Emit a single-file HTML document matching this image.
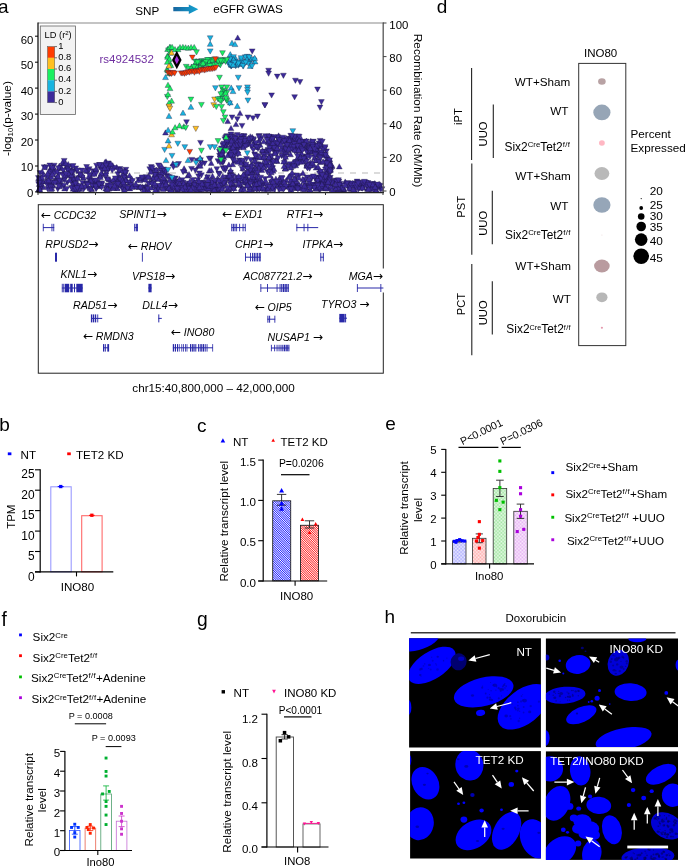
<!DOCTYPE html>
<html lang="en"><head><meta charset="utf-8"><title>Figure</title>
<style>
html,body{margin:0;padding:0;background:#fff;}
body{width:685px;height:866px;overflow:hidden;}
svg{display:block;will-change:transform;font-family:"Liberation Sans",sans-serif;fill:#000;}

</style></head><body>
<svg width="685" height="866" viewBox="0 0 685 866">
<rect x="0" y="0" width="685" height="866" fill="#fff"/>
<line x1="38" y1="173" x2="383" y2="173" stroke="#d0d0d0" stroke-width="1.6" stroke-dasharray="6,6"/>
<g stroke="#1a1440" stroke-width="0.35" stroke-linejoin="round">
<polygon points="287.9,147.7 293.7,147.7 290.8,142.5" fill="#3c2a9a"/>
<polygon points="86.6,178.0 92.4,178.0 89.5,183.2" fill="#3c2a9a"/>
<polygon points="311.5,160.3 317.3,160.3 314.4,155.1" fill="#3c2a9a"/>
<polygon points="315.4,185.4 321.2,185.4 318.3,180.2" fill="#3c2a9a"/>
<polygon points="69.2,179.9 75.0,179.9 72.1,185.1" fill="#3c2a9a"/>
<polygon points="293.2,185.3 299.0,185.3 296.1,180.1" fill="#3c2a9a"/>
<polygon points="284.3,144.0 290.1,144.0 287.2,138.8" fill="#3c2a9a"/>
<polygon points="132.1,189.0 137.9,189.0 135.0,183.8" fill="#3c2a9a"/>
<polygon points="314.0,180.2 319.8,180.2 316.9,175.0" fill="#3c2a9a"/>
<polygon points="176.5,179.1 182.3,179.1 179.4,184.3" fill="#3c2a9a"/>
<polygon points="186.7,183.4 192.5,183.4 189.6,188.6" fill="#3c2a9a"/>
<polygon points="276.4,186.4 282.2,186.4 279.3,191.6" fill="#3c2a9a"/>
<polygon points="234.0,183.2 239.8,183.2 236.9,178.0" fill="#3c2a9a"/>
<polygon points="222.7,135.2 228.5,135.2 225.6,140.4" fill="#3c2a9a"/>
<polygon points="307.7,148.4 313.5,148.4 310.6,143.2" fill="#3c2a9a"/>
<polygon points="88.4,180.8 94.2,180.8 91.3,175.6" fill="#3c2a9a"/>
<polygon points="234.8,152.3 240.6,152.3 237.7,157.5" fill="#3c2a9a"/>
<polygon points="270.9,143.3 276.7,143.3 273.8,148.5" fill="#3c2a9a"/>
<polygon points="283.4,182.8 289.2,182.8 286.3,177.6" fill="#3c2a9a"/>
<polygon points="261.4,185.9 267.2,185.9 264.3,180.7" fill="#3c2a9a"/>
<polygon points="364.9,191.1 370.7,191.1 367.8,185.9" fill="#3c2a9a"/>
<polygon points="102.6,175.7 108.4,175.7 105.5,170.5" fill="#3c2a9a"/>
<polygon points="252.8,176.2 258.6,176.2 255.7,181.4" fill="#3c2a9a"/>
<polygon points="135.7,177.3 141.5,177.3 138.6,182.5" fill="#3c2a9a"/>
<polygon points="266.3,138.3 272.1,138.3 269.2,133.1" fill="#3c2a9a"/>
<polygon points="347.6,186.6 353.4,186.6 350.5,191.8" fill="#3c2a9a"/>
<polygon points="254.7,177.6 260.5,177.6 257.6,182.8" fill="#3c2a9a"/>
<polygon points="251.4,141.7 257.2,141.7 254.3,146.9" fill="#3c2a9a"/>
<polygon points="229.1,141.9 234.9,141.9 232.0,147.1" fill="#3c2a9a"/>
<polygon points="267.7,138.1 273.5,138.1 270.6,143.3" fill="#3c2a9a"/>
<polygon points="324.1,159.9 329.9,159.9 327.0,165.1" fill="#3c2a9a"/>
<polygon points="174.0,191.4 179.8,191.4 176.9,186.2" fill="#3c2a9a"/>
<polygon points="291.2,147.6 297.0,147.6 294.1,152.8" fill="#3c2a9a"/>
<polygon points="354.8,189.0 360.6,189.0 357.7,183.8" fill="#3c2a9a"/>
<polygon points="170.7,179.9 176.5,179.9 173.6,185.1" fill="#3c2a9a"/>
<polygon points="266.2,141.1 272.0,141.1 269.1,146.3" fill="#3c2a9a"/>
<polygon points="103.2,188.3 109.0,188.3 106.1,183.1" fill="#3c2a9a"/>
<polygon points="287.7,185.7 293.5,185.7 290.6,190.9" fill="#3c2a9a"/>
<polygon points="70.1,187.0 75.9,187.0 73.0,192.2" fill="#3c2a9a"/>
<polygon points="238.1,187.4 243.9,187.4 241.0,182.2" fill="#3c2a9a"/>
<polygon points="262.9,163.7 268.7,163.7 265.8,168.9" fill="#3c2a9a"/>
<polygon points="292.9,167.8 298.7,167.8 295.8,162.6" fill="#3c2a9a"/>
<polygon points="194.1,187.6 199.9,187.6 197.0,182.4" fill="#3c2a9a"/>
<polygon points="297.6,150.9 303.4,150.9 300.5,145.7" fill="#3c2a9a"/>
<polygon points="230.9,187.7 236.7,187.7 233.8,182.5" fill="#3c2a9a"/>
<polygon points="117.2,183.9 123.0,183.9 120.1,178.7" fill="#3c2a9a"/>
<polygon points="294.9,139.0 300.7,139.0 297.8,144.2" fill="#3c2a9a"/>
<polygon points="314.3,182.4 320.1,182.4 317.2,177.2" fill="#3c2a9a"/>
<polygon points="117.1,166.6 122.9,166.6 120.0,171.8" fill="#3c2a9a"/>
<polygon points="326.0,182.7 331.8,182.7 328.9,177.5" fill="#3c2a9a"/>
<polygon points="303.5,146.6 309.3,146.6 306.4,151.8" fill="#3c2a9a"/>
<polygon points="135.4,182.5 141.2,182.5 138.3,177.3" fill="#3c2a9a"/>
<polygon points="308.9,175.8 314.7,175.8 311.8,181.0" fill="#3c2a9a"/>
<polygon points="252.3,160.3 258.1,160.3 255.2,155.1" fill="#3c2a9a"/>
<polygon points="264.6,149.1 270.4,149.1 267.5,154.3" fill="#3c2a9a"/>
<polygon points="142.2,177.4 148.0,177.4 145.1,182.6" fill="#3c2a9a"/>
<polygon points="274.9,184.7 280.7,184.7 277.8,179.5" fill="#3c2a9a"/>
<polygon points="243.2,179.5 249.0,179.5 246.1,174.3" fill="#3c2a9a"/>
<polygon points="180.2,183.7 186.0,183.7 183.1,188.9" fill="#3c2a9a"/>
<polygon points="64.3,168.5 70.1,168.5 67.2,163.3" fill="#3c2a9a"/>
<polygon points="246.4,181.4 252.2,181.4 249.3,186.6" fill="#3c2a9a"/>
<polygon points="209.8,181.7 215.6,181.7 212.7,186.9" fill="#3c2a9a"/>
<polygon points="252.6,146.8 258.4,146.8 255.5,141.6" fill="#3c2a9a"/>
<polygon points="336.0,179.2 341.8,179.2 338.9,184.4" fill="#3c2a9a"/>
<polygon points="276.3,181.6 282.1,181.6 279.2,176.4" fill="#3c2a9a"/>
<polygon points="79.2,175.1 85.0,175.1 82.1,180.3" fill="#3c2a9a"/>
<polygon points="236.7,158.0 242.5,158.0 239.6,163.2" fill="#3c2a9a"/>
<polygon points="206.4,172.9 212.2,172.9 209.3,167.7" fill="#3c2a9a"/>
<polygon points="102.8,190.9 108.6,190.9 105.7,185.7" fill="#3c2a9a"/>
<polygon points="38.4,185.5 44.2,185.5 41.3,190.7" fill="#3c2a9a"/>
<polygon points="278.7,153.5 284.5,153.5 281.6,158.7" fill="#3c2a9a"/>
<polygon points="275.7,138.0 281.5,138.0 278.6,132.8" fill="#3c2a9a"/>
<polygon points="104.7,168.8 110.5,168.8 107.6,174.0" fill="#3c2a9a"/>
<polygon points="264.6,135.0 270.4,135.0 267.5,140.2" fill="#3c2a9a"/>
<polygon points="140.5,186.3 146.3,186.3 143.4,191.5" fill="#3c2a9a"/>
<polygon points="219.6,158.1 225.4,158.1 222.5,152.9" fill="#3c2a9a"/>
<polygon points="157.7,187.4 163.5,187.4 160.6,182.2" fill="#3c2a9a"/>
<polygon points="62.7,173.7 68.5,173.7 65.6,178.9" fill="#3c2a9a"/>
<polygon points="68.8,172.3 74.6,172.3 71.7,167.1" fill="#3c2a9a"/>
<polygon points="172.2,167.2 178.0,167.2 175.1,162.0" fill="#3c2a9a"/>
<polygon points="223.1,145.6 228.9,145.6 226.0,150.8" fill="#3c2a9a"/>
<polygon points="310.8,144.2 316.6,144.2 313.7,149.4" fill="#3c2a9a"/>
<polygon points="268.6,180.2 274.4,180.2 271.5,185.4" fill="#3c2a9a"/>
<polygon points="242.0,179.0 247.8,179.0 244.9,173.8" fill="#3c2a9a"/>
<polygon points="269.7,165.7 275.5,165.7 272.6,170.9" fill="#3c2a9a"/>
<polygon points="370.7,186.1 376.5,186.1 373.6,191.3" fill="#3c2a9a"/>
<polygon points="306.2,150.6 312.0,150.6 309.1,155.8" fill="#3c2a9a"/>
<polygon points="311.1,145.0 316.9,145.0 314.0,139.8" fill="#3c2a9a"/>
<polygon points="267.8,158.5 273.6,158.5 270.7,153.3" fill="#3c2a9a"/>
<polygon points="62.9,175.0 68.7,175.0 65.8,180.2" fill="#3c2a9a"/>
<polygon points="307.9,143.5 313.7,143.5 310.8,138.3" fill="#3c2a9a"/>
<polygon points="163.9,173.3 169.7,173.3 166.8,178.5" fill="#3c2a9a"/>
<polygon points="86.1,184.3 91.9,184.3 89.0,179.1" fill="#3c2a9a"/>
<polygon points="250.4,186.8 256.2,186.8 253.3,192.0" fill="#3c2a9a"/>
<polygon points="229.4,145.1 235.2,145.1 232.3,150.3" fill="#3c2a9a"/>
<polygon points="231.6,163.6 237.4,163.6 234.5,158.4" fill="#3c2a9a"/>
<polygon points="332.6,183.6 338.4,183.6 335.5,178.4" fill="#3c2a9a"/>
<polygon points="358.9,185.7 364.7,185.7 361.8,190.9" fill="#3c2a9a"/>
<polygon points="229.0,133.4 234.8,133.4 231.9,138.6" fill="#3c2a9a"/>
<polygon points="313.8,153.1 319.6,153.1 316.7,147.9" fill="#3c2a9a"/>
<polygon points="204.7,174.8 210.5,174.8 207.6,180.0" fill="#3c2a9a"/>
<polygon points="293.3,139.3 299.1,139.3 296.2,144.5" fill="#3c2a9a"/>
<polygon points="258.5,135.5 264.3,135.5 261.4,140.7" fill="#3c2a9a"/>
<polygon points="172.5,176.1 178.3,176.1 175.4,181.3" fill="#3c2a9a"/>
<polygon points="218.3,153.7 224.1,153.7 221.2,158.9" fill="#3c2a9a"/>
<polygon points="181.3,184.4 187.1,184.4 184.2,189.6" fill="#3c2a9a"/>
<polygon points="119.1,187.7 124.9,187.7 122.0,182.5" fill="#3c2a9a"/>
<polygon points="266.2,137.4 272.0,137.4 269.1,142.6" fill="#3c2a9a"/>
<polygon points="325.7,159.6 331.5,159.6 328.6,164.8" fill="#3c2a9a"/>
<polygon points="306.2,165.7 312.0,165.7 309.1,160.5" fill="#3c2a9a"/>
<polygon points="36.7,192.3 42.5,192.3 39.6,187.1" fill="#3c2a9a"/>
<polygon points="142.9,188.5 148.7,188.5 145.8,183.3" fill="#3c2a9a"/>
<polygon points="310.5,147.6 316.3,147.6 313.4,152.8" fill="#3c2a9a"/>
<polygon points="255.0,144.3 260.8,144.3 257.9,149.5" fill="#3c2a9a"/>
<polygon points="291.5,185.8 297.3,185.8 294.4,180.6" fill="#3c2a9a"/>
<polygon points="287.8,133.3 293.6,133.3 290.7,138.5" fill="#3c2a9a"/>
<polygon points="289.4,146.6 295.2,146.6 292.3,151.8" fill="#3c2a9a"/>
<polygon points="224.2,133.7 230.0,133.7 227.1,138.9" fill="#3c2a9a"/>
<polygon points="93.1,181.8 98.9,181.8 96.0,187.0" fill="#3c2a9a"/>
<polygon points="67.4,177.0 73.2,177.0 70.3,171.8" fill="#3c2a9a"/>
<polygon points="60.0,166.0 65.8,166.0 62.9,160.8" fill="#3c2a9a"/>
<polygon points="61.3,177.7 67.1,177.7 64.2,182.9" fill="#3c2a9a"/>
<polygon points="239.1,138.9 244.9,138.9 242.0,144.1" fill="#3c2a9a"/>
<polygon points="323.8,168.9 329.6,168.9 326.7,174.1" fill="#3c2a9a"/>
<polygon points="251.7,188.1 257.5,188.1 254.6,182.9" fill="#3c2a9a"/>
<polygon points="183.6,187.1 189.4,187.1 186.5,192.3" fill="#3c2a9a"/>
<polygon points="266.0,159.3 271.8,159.3 268.9,154.1" fill="#3c2a9a"/>
<polygon points="52.8,181.6 58.6,181.6 55.7,176.4" fill="#3c2a9a"/>
<polygon points="71.5,188.3 77.3,188.3 74.4,183.1" fill="#3c2a9a"/>
<polygon points="313.1,156.7 318.9,156.7 316.0,151.5" fill="#3c2a9a"/>
<polygon points="264.6,169.8 270.4,169.8 267.5,175.0" fill="#3c2a9a"/>
<polygon points="287.2,142.7 293.0,142.7 290.1,137.5" fill="#3c2a9a"/>
<polygon points="221.9,136.8 227.7,136.8 224.8,142.0" fill="#3c2a9a"/>
<polygon points="311.7,143.5 317.5,143.5 314.6,148.7" fill="#3c2a9a"/>
<polygon points="223.4,144.2 229.2,144.2 226.3,139.0" fill="#3c2a9a"/>
<polygon points="287.2,161.7 293.0,161.7 290.1,166.9" fill="#3c2a9a"/>
<polygon points="309.7,149.1 315.5,149.1 312.6,154.3" fill="#3c2a9a"/>
<polygon points="322.2,190.9 328.0,190.9 325.1,185.7" fill="#3c2a9a"/>
<polygon points="371.9,185.8 377.7,185.8 374.8,180.6" fill="#3c2a9a"/>
<polygon points="37.2,189.2 43.0,189.2 40.1,184.0" fill="#3c2a9a"/>
<polygon points="206.9,185.4 212.7,185.4 209.8,190.6" fill="#3c2a9a"/>
<polygon points="240.6,162.8 246.4,162.8 243.5,168.0" fill="#3c2a9a"/>
<polygon points="159.4,184.2 165.2,184.2 162.3,179.0" fill="#3c2a9a"/>
<polygon points="47.1,171.6 52.9,171.6 50.0,166.4" fill="#3c2a9a"/>
<polygon points="290.2,185.2 296.0,185.2 293.1,180.0" fill="#3c2a9a"/>
<polygon points="297.2,154.2 303.0,154.2 300.1,159.4" fill="#3c2a9a"/>
<polygon points="323.7,166.5 329.5,166.5 326.6,161.3" fill="#3c2a9a"/>
<polygon points="220.3,165.7 226.1,165.7 223.2,170.9" fill="#3c2a9a"/>
<polygon points="310.4,139.2 316.2,139.2 313.3,144.4" fill="#3c2a9a"/>
<polygon points="292.9,189.4 298.7,189.4 295.8,184.2" fill="#3c2a9a"/>
<polygon points="320.7,186.8 326.5,186.8 323.6,181.6" fill="#3c2a9a"/>
<polygon points="139.1,178.2 144.9,178.2 142.0,183.4" fill="#3c2a9a"/>
<polygon points="105.3,182.9 111.1,182.9 108.2,188.1" fill="#3c2a9a"/>
<polygon points="255.1,146.4 260.9,146.4 258.0,151.6" fill="#3c2a9a"/>
<polygon points="327.0,168.2 332.8,168.2 329.9,173.4" fill="#3c2a9a"/>
<polygon points="303.9,168.3 309.7,168.3 306.8,163.1" fill="#3c2a9a"/>
<polygon points="298.8,149.2 304.6,149.2 301.7,144.0" fill="#3c2a9a"/>
<polygon points="346.1,187.1 351.9,187.1 349.0,192.3" fill="#3c2a9a"/>
<polygon points="317.4,150.1 323.2,150.1 320.3,155.3" fill="#3c2a9a"/>
<polygon points="326.3,160.4 332.1,160.4 329.2,165.6" fill="#3c2a9a"/>
<polygon points="183.0,184.8 188.8,184.8 185.9,190.0" fill="#3c2a9a"/>
<polygon points="257.3,147.3 263.1,147.3 260.2,142.1" fill="#3c2a9a"/>
<polygon points="307.1,191.7 312.9,191.7 310.0,186.5" fill="#3c2a9a"/>
<polygon points="221.6,148.4 227.4,148.4 224.5,153.6" fill="#3c2a9a"/>
<polygon points="317.8,186.8 323.6,186.8 320.7,192.0" fill="#3c2a9a"/>
<polygon points="107.5,180.8 113.3,180.8 110.4,186.0" fill="#3c2a9a"/>
<polygon points="313.0,146.6 318.8,146.6 315.9,151.8" fill="#3c2a9a"/>
<polygon points="229.6,156.6 235.4,156.6 232.5,161.8" fill="#3c2a9a"/>
<polygon points="280.6,153.6 286.4,153.6 283.5,148.4" fill="#3c2a9a"/>
<polygon points="217.6,150.6 223.4,150.6 220.5,155.8" fill="#3c2a9a"/>
<polygon points="115.9,176.1 121.7,176.1 118.8,181.3" fill="#3c2a9a"/>
<polygon points="148.3,164.6 154.1,164.6 151.2,169.8" fill="#3c2a9a"/>
<polygon points="277.5,185.0 283.3,185.0 280.4,190.2" fill="#3c2a9a"/>
<polygon points="91.0,187.5 96.8,187.5 93.9,182.3" fill="#3c2a9a"/>
<polygon points="89.2,176.3 95.0,176.3 92.1,171.1" fill="#3c2a9a"/>
<polygon points="292.3,176.2 298.1,176.2 295.2,181.4" fill="#3c2a9a"/>
<polygon points="289.9,150.2 295.7,150.2 292.8,145.0" fill="#3c2a9a"/>
<polygon points="215.9,171.0 221.7,171.0 218.8,176.2" fill="#3c2a9a"/>
<polygon points="230.5,156.4 236.3,156.4 233.4,151.2" fill="#3c2a9a"/>
<polygon points="182.9,187.1 188.7,187.1 185.8,181.9" fill="#3c2a9a"/>
<polygon points="270.5,135.7 276.3,135.7 273.4,140.9" fill="#3c2a9a"/>
<polygon points="122.0,189.9 127.8,189.9 124.9,184.7" fill="#3c2a9a"/>
<polygon points="202.9,184.1 208.7,184.1 205.8,189.3" fill="#3c2a9a"/>
<polygon points="316.3,186.9 322.1,186.9 319.2,192.1" fill="#3c2a9a"/>
<polygon points="336.1,182.5 341.9,182.5 339.0,187.7" fill="#3c2a9a"/>
<polygon points="317.5,169.5 323.3,169.5 320.4,174.7" fill="#3c2a9a"/>
<polygon points="279.4,143.4 285.2,143.4 282.3,138.2" fill="#3c2a9a"/>
<polygon points="165.1,185.2 170.9,185.2 168.0,190.4" fill="#3c2a9a"/>
<polygon points="146.8,179.4 152.6,179.4 149.7,174.2" fill="#3c2a9a"/>
<polygon points="236.2,143.9 242.0,143.9 239.1,149.1" fill="#3c2a9a"/>
<polygon points="277.7,184.2 283.5,184.2 280.6,189.4" fill="#3c2a9a"/>
<polygon points="262.1,176.6 267.9,176.6 265.0,181.8" fill="#3c2a9a"/>
<polygon points="251.7,151.9 257.5,151.9 254.6,157.1" fill="#3c2a9a"/>
<polygon points="142.2,184.9 148.0,184.9 145.1,190.1" fill="#3c2a9a"/>
<polygon points="365.1,180.6 370.9,180.6 368.0,185.8" fill="#3c2a9a"/>
<polygon points="291.0,190.4 296.8,190.4 293.9,185.2" fill="#3c2a9a"/>
<polygon points="106.2,165.4 112.0,165.4 109.1,170.6" fill="#3c2a9a"/>
<polygon points="90.8,183.3 96.6,183.3 93.7,178.1" fill="#3c2a9a"/>
<polygon points="270.4,141.9 276.2,141.9 273.3,136.7" fill="#3c2a9a"/>
<polygon points="235.5,145.2 241.3,145.2 238.4,150.4" fill="#3c2a9a"/>
<polygon points="255.6,185.7 261.4,185.7 258.5,190.9" fill="#3c2a9a"/>
<polygon points="322.5,167.1 328.3,167.1 325.4,172.3" fill="#3c2a9a"/>
<polygon points="184.8,186.0 190.6,186.0 187.7,180.8" fill="#3c2a9a"/>
<polygon points="238.5,144.8 244.3,144.8 241.4,150.0" fill="#3c2a9a"/>
<polygon points="313.2,170.1 319.0,170.1 316.1,164.9" fill="#3c2a9a"/>
<polygon points="292.3,163.3 298.1,163.3 295.2,168.5" fill="#3c2a9a"/>
<polygon points="90.6,168.8 96.4,168.8 93.5,174.0" fill="#3c2a9a"/>
<polygon points="205.7,191.4 211.5,191.4 208.6,186.2" fill="#3c2a9a"/>
<polygon points="227.5,149.5 233.3,149.5 230.4,144.3" fill="#3c2a9a"/>
<polygon points="250.7,137.7 256.5,137.7 253.6,142.9" fill="#3c2a9a"/>
<polygon points="155.3,184.8 161.1,184.8 158.2,190.0" fill="#3c2a9a"/>
<polygon points="313.4,162.9 319.2,162.9 316.3,157.7" fill="#3c2a9a"/>
<polygon points="349.0,187.6 354.8,187.6 351.9,182.4" fill="#3c2a9a"/>
<polygon points="175.0,181.2 180.8,181.2 177.9,186.4" fill="#3c2a9a"/>
<polygon points="142.4,185.8 148.2,185.8 145.3,191.0" fill="#3c2a9a"/>
<polygon points="289.0,137.9 294.8,137.9 291.9,143.1" fill="#3c2a9a"/>
<polygon points="240.7,163.2 246.5,163.2 243.6,158.0" fill="#3c2a9a"/>
<polygon points="275.5,137.1 281.3,137.1 278.4,142.3" fill="#3c2a9a"/>
<polygon points="325.2,186.2 331.0,186.2 328.1,181.0" fill="#3c2a9a"/>
<polygon points="257.7,166.9 263.5,166.9 260.6,161.7" fill="#3c2a9a"/>
<polygon points="247.5,175.2 253.3,175.2 250.4,170.0" fill="#3c2a9a"/>
<polygon points="70.3,185.8 76.1,185.8 73.2,180.6" fill="#3c2a9a"/>
<polygon points="316.6,187.0 322.4,187.0 319.5,192.2" fill="#3c2a9a"/>
<polygon points="315.3,145.1 321.1,145.1 318.2,150.3" fill="#3c2a9a"/>
<polygon points="306.6,144.6 312.4,144.6 309.5,149.8" fill="#3c2a9a"/>
<polygon points="254.7,182.5 260.5,182.5 257.6,187.7" fill="#3c2a9a"/>
<polygon points="311.7,152.3 317.5,152.3 314.6,147.1" fill="#3c2a9a"/>
<polygon points="158.9,170.9 164.7,170.9 161.8,165.7" fill="#3c2a9a"/>
<polygon points="301.5,140.5 307.3,140.5 304.4,145.7" fill="#3c2a9a"/>
<polygon points="136.4,189.5 142.2,189.5 139.3,184.3" fill="#3c2a9a"/>
<polygon points="303.3,145.6 309.1,145.6 306.2,140.4" fill="#3c2a9a"/>
<polygon points="137.8,186.3 143.6,186.3 140.7,191.5" fill="#3c2a9a"/>
<polygon points="80.7,186.9 86.5,186.9 83.6,192.1" fill="#3c2a9a"/>
<polygon points="49.5,187.0 55.3,187.0 52.4,181.8" fill="#3c2a9a"/>
<polygon points="142.8,175.8 148.6,175.8 145.7,181.0" fill="#3c2a9a"/>
<polygon points="241.0,133.6 246.8,133.6 243.9,138.8" fill="#3c2a9a"/>
<polygon points="191.1,186.4 196.9,186.4 194.0,181.2" fill="#3c2a9a"/>
<polygon points="45.8,179.5 51.6,179.5 48.7,184.7" fill="#3c2a9a"/>
<polygon points="358.0,185.5 363.8,185.5 360.9,190.7" fill="#3c2a9a"/>
<polygon points="72.8,165.9 78.6,165.9 75.7,171.1" fill="#3c2a9a"/>
<polygon points="285.7,179.3 291.5,179.3 288.6,174.1" fill="#3c2a9a"/>
<polygon points="226.8,140.5 232.6,140.5 229.7,135.3" fill="#3c2a9a"/>
<polygon points="240.5,175.3 246.3,175.3 243.4,180.5" fill="#3c2a9a"/>
<polygon points="156.8,177.7 162.6,177.7 159.7,172.5" fill="#3c2a9a"/>
<polygon points="302.3,185.6 308.1,185.6 305.2,180.4" fill="#3c2a9a"/>
<polygon points="79.7,180.6 85.5,180.6 82.6,185.8" fill="#3c2a9a"/>
<polygon points="37.2,170.6 43.0,170.6 40.1,175.8" fill="#3c2a9a"/>
<polygon points="173.7,179.7 179.5,179.7 176.6,184.9" fill="#3c2a9a"/>
<polygon points="280.5,141.3 286.3,141.3 283.4,136.1" fill="#3c2a9a"/>
<polygon points="319.8,154.4 325.6,154.4 322.7,149.2" fill="#3c2a9a"/>
<polygon points="256.3,133.5 262.1,133.5 259.2,138.7" fill="#3c2a9a"/>
<polygon points="44.7,178.8 50.5,178.8 47.6,173.6" fill="#3c2a9a"/>
<polygon points="259.0,172.4 264.8,172.4 261.9,167.2" fill="#3c2a9a"/>
<polygon points="277.0,179.5 282.8,179.5 279.9,184.7" fill="#3c2a9a"/>
<polygon points="178.8,187.7 184.6,187.7 181.7,182.5" fill="#3c2a9a"/>
<polygon points="329.1,168.8 334.9,168.8 332.0,163.6" fill="#3c2a9a"/>
<polygon points="163.0,190.7 168.8,190.7 165.9,185.5" fill="#3c2a9a"/>
<polygon points="281.3,157.4 287.1,157.4 284.2,152.2" fill="#3c2a9a"/>
<polygon points="217.8,152.1 223.6,152.1 220.7,146.9" fill="#3c2a9a"/>
<polygon points="177.4,186.1 183.2,186.1 180.3,180.9" fill="#3c2a9a"/>
<polygon points="303.1,190.2 308.9,190.2 306.0,185.0" fill="#3c2a9a"/>
<polygon points="365.5,186.0 371.3,186.0 368.4,191.2" fill="#3c2a9a"/>
<polygon points="77.0,176.9 82.8,176.9 79.9,171.7" fill="#3c2a9a"/>
<polygon points="347.3,181.4 353.1,181.4 350.2,186.6" fill="#3c2a9a"/>
<polygon points="295.9,186.5 301.7,186.5 298.8,181.3" fill="#3c2a9a"/>
<polygon points="123.0,180.9 128.8,180.9 125.9,175.7" fill="#3c2a9a"/>
<polygon points="48.8,188.2 54.6,188.2 51.7,183.0" fill="#3c2a9a"/>
<polygon points="234.6,149.3 240.4,149.3 237.5,144.1" fill="#3c2a9a"/>
<polygon points="305.7,144.0 311.5,144.0 308.6,149.2" fill="#3c2a9a"/>
<polygon points="249.0,172.8 254.8,172.8 251.9,178.0" fill="#3c2a9a"/>
<polygon points="115.3,181.2 121.1,181.2 118.2,176.0" fill="#3c2a9a"/>
<polygon points="352.0,192.4 357.8,192.4 354.9,187.2" fill="#3c2a9a"/>
<polygon points="373.1,185.9 378.9,185.9 376.0,191.1" fill="#3c2a9a"/>
<polygon points="84.0,180.8 89.8,180.8 86.9,186.0" fill="#3c2a9a"/>
<polygon points="209.1,180.0 214.9,180.0 212.0,185.2" fill="#3c2a9a"/>
<polygon points="249.7,173.3 255.5,173.3 252.6,168.1" fill="#3c2a9a"/>
<polygon points="294.4,190.0 300.2,190.0 297.3,184.8" fill="#3c2a9a"/>
<polygon points="68.9,164.1 74.7,164.1 71.8,169.3" fill="#3c2a9a"/>
<polygon points="309.2,166.5 315.0,166.5 312.1,161.3" fill="#3c2a9a"/>
<polygon points="321.3,171.3 327.1,171.3 324.2,176.5" fill="#3c2a9a"/>
<polygon points="293.0,190.0 298.8,190.0 295.9,184.8" fill="#3c2a9a"/>
<polygon points="316.6,171.1 322.4,171.1 319.5,176.3" fill="#3c2a9a"/>
<polygon points="152.3,167.9 158.1,167.9 155.2,173.1" fill="#3c2a9a"/>
<polygon points="133.4,184.4 139.2,184.4 136.3,189.6" fill="#3c2a9a"/>
<polygon points="227.1,156.6 232.9,156.6 230.0,151.4" fill="#3c2a9a"/>
<polygon points="171.2,176.3 177.0,176.3 174.1,181.5" fill="#3c2a9a"/>
<polygon points="176.7,186.0 182.5,186.0 179.6,191.2" fill="#3c2a9a"/>
<polygon points="347.0,186.4 352.8,186.4 349.9,191.6" fill="#3c2a9a"/>
<polygon points="72.7,177.1 78.5,177.1 75.6,182.3" fill="#3c2a9a"/>
<polygon points="75.7,185.0 81.5,185.0 78.6,190.2" fill="#3c2a9a"/>
<polygon points="253.8,149.2 259.6,149.2 256.7,144.0" fill="#3c2a9a"/>
<polygon points="315.1,169.1 320.9,169.1 318.0,163.9" fill="#3c2a9a"/>
<polygon points="377.4,186.9 383.2,186.9 380.3,192.1" fill="#3c2a9a"/>
<polygon points="333.3,190.0 339.1,190.0 336.2,184.8" fill="#3c2a9a"/>
<polygon points="185.4,181.3 191.2,181.3 188.3,186.5" fill="#3c2a9a"/>
<polygon points="285.3,184.1 291.1,184.1 288.2,189.3" fill="#3c2a9a"/>
<polygon points="120.8,174.8 126.6,174.8 123.7,180.0" fill="#3c2a9a"/>
<polygon points="222.2,143.9 228.0,143.9 225.1,149.1" fill="#3c2a9a"/>
<polygon points="297.5,149.0 303.3,149.0 300.4,154.2" fill="#3c2a9a"/>
<polygon points="184.8,178.1 190.6,178.1 187.7,172.9" fill="#3c2a9a"/>
<polygon points="153.3,171.8 159.1,171.8 156.2,177.0" fill="#3c2a9a"/>
<polygon points="123.0,183.1 128.8,183.1 125.9,177.9" fill="#3c2a9a"/>
<polygon points="214.3,187.0 220.1,187.0 217.2,192.2" fill="#3c2a9a"/>
<polygon points="186.7,185.7 192.5,185.7 189.6,180.5" fill="#3c2a9a"/>
<polygon points="49.5,187.8 55.3,187.8 52.4,182.6" fill="#3c2a9a"/>
<polygon points="311.0,146.5 316.8,146.5 313.9,151.7" fill="#3c2a9a"/>
<polygon points="245.7,141.5 251.5,141.5 248.6,146.7" fill="#3c2a9a"/>
<polygon points="271.7,186.8 277.5,186.8 274.6,192.0" fill="#3c2a9a"/>
<polygon points="176.5,184.8 182.3,184.8 179.4,190.0" fill="#3c2a9a"/>
<polygon points="293.3,160.2 299.1,160.2 296.2,165.4" fill="#3c2a9a"/>
<polygon points="345.4,181.0 351.2,181.0 348.3,186.2" fill="#3c2a9a"/>
<polygon points="160.3,170.0 166.1,170.0 163.2,175.2" fill="#3c2a9a"/>
<polygon points="239.7,136.0 245.5,136.0 242.6,141.2" fill="#3c2a9a"/>
<polygon points="220.2,142.4 226.0,142.4 223.1,147.6" fill="#3c2a9a"/>
<polygon points="324.4,176.8 330.2,176.8 327.3,171.6" fill="#3c2a9a"/>
<polygon points="261.3,156.9 267.1,156.9 264.2,151.7" fill="#3c2a9a"/>
<polygon points="64.2,167.3 70.0,167.3 67.1,172.5" fill="#3c2a9a"/>
<polygon points="327.7,166.7 333.5,166.7 330.6,161.5" fill="#3c2a9a"/>
<polygon points="236.1,137.5 241.9,137.5 239.0,142.7" fill="#3c2a9a"/>
<polygon points="342.3,184.1 348.1,184.1 345.2,178.9" fill="#3c2a9a"/>
<polygon points="282.9,189.1 288.7,189.1 285.8,183.9" fill="#3c2a9a"/>
<polygon points="307.2,167.6 313.0,167.6 310.1,162.4" fill="#3c2a9a"/>
<polygon points="318.1,169.3 323.9,169.3 321.0,174.5" fill="#3c2a9a"/>
<polygon points="213.9,166.7 219.7,166.7 216.8,171.9" fill="#3c2a9a"/>
<polygon points="255.6,181.3 261.4,181.3 258.5,186.5" fill="#3c2a9a"/>
<polygon points="69.9,168.9 75.7,168.9 72.8,174.1" fill="#3c2a9a"/>
<polygon points="361.6,180.5 367.4,180.5 364.5,185.7" fill="#3c2a9a"/>
<polygon points="72.9,191.9 78.7,191.9 75.8,186.7" fill="#3c2a9a"/>
<polygon points="326.7,167.8 332.5,167.8 329.6,162.6" fill="#3c2a9a"/>
<polygon points="280.8,181.3 286.6,181.3 283.7,186.5" fill="#3c2a9a"/>
<polygon points="314.5,162.0 320.3,162.0 317.4,156.8" fill="#3c2a9a"/>
<polygon points="242.6,182.6 248.4,182.6 245.5,177.4" fill="#3c2a9a"/>
<polygon points="77.1,191.6 82.9,191.6 80.0,186.4" fill="#3c2a9a"/>
<polygon points="64.3,165.7 70.1,165.7 67.2,170.9" fill="#3c2a9a"/>
<polygon points="77.1,186.3 82.9,186.3 80.0,191.5" fill="#3c2a9a"/>
<polygon points="198.4,188.6 204.2,188.6 201.3,183.4" fill="#3c2a9a"/>
<polygon points="119.1,186.2 124.9,186.2 122.0,191.4" fill="#3c2a9a"/>
<polygon points="195.9,192.0 201.7,192.0 198.8,186.8" fill="#3c2a9a"/>
<polygon points="41.2,164.8 47.0,164.8 44.1,170.0" fill="#3c2a9a"/>
<polygon points="288.3,186.4 294.1,186.4 291.2,181.2" fill="#3c2a9a"/>
<polygon points="319.8,156.2 325.6,156.2 322.7,151.0" fill="#3c2a9a"/>
<polygon points="283.9,137.9 289.7,137.9 286.8,143.1" fill="#3c2a9a"/>
<polygon points="152.2,172.0 158.0,172.0 155.1,177.2" fill="#3c2a9a"/>
<polygon points="228.1,146.5 233.9,146.5 231.0,151.7" fill="#3c2a9a"/>
<polygon points="230.0,184.2 235.8,184.2 232.9,189.4" fill="#3c2a9a"/>
<polygon points="218.2,153.8 224.0,153.8 221.1,148.6" fill="#3c2a9a"/>
<polygon points="170.5,186.5 176.3,186.5 173.4,191.7" fill="#3c2a9a"/>
<polygon points="282.8,137.8 288.6,137.8 285.7,143.0" fill="#3c2a9a"/>
<polygon points="95.9,188.7 101.7,188.7 98.8,183.5" fill="#3c2a9a"/>
<polygon points="242.7,175.2 248.5,175.2 245.6,170.0" fill="#3c2a9a"/>
<polygon points="155.6,162.9 161.4,162.9 158.5,168.1" fill="#3c2a9a"/>
<polygon points="224.0,136.7 229.8,136.7 226.9,141.9" fill="#3c2a9a"/>
<polygon points="323.9,179.0 329.7,179.0 326.8,173.8" fill="#3c2a9a"/>
<polygon points="266.6,156.0 272.4,156.0 269.5,161.2" fill="#3c2a9a"/>
<polygon points="309.7,139.6 315.5,139.6 312.6,144.8" fill="#3c2a9a"/>
<polygon points="249.0,172.7 254.8,172.7 251.9,177.9" fill="#3c2a9a"/>
<polygon points="89.8,174.1 95.6,174.1 92.7,168.9" fill="#3c2a9a"/>
<polygon points="137.6,180.2 143.4,180.2 140.5,175.0" fill="#3c2a9a"/>
<polygon points="108.2,186.2 114.0,186.2 111.1,191.4" fill="#3c2a9a"/>
<polygon points="144.3,187.2 150.1,187.2 147.2,192.4" fill="#3c2a9a"/>
<polygon points="93.6,182.1 99.4,182.1 96.5,187.3" fill="#3c2a9a"/>
<polygon points="85.0,185.9 90.8,185.9 87.9,191.1" fill="#3c2a9a"/>
<polygon points="43.2,165.1 49.0,165.1 46.1,170.3" fill="#3c2a9a"/>
<polygon points="69.6,176.9 75.4,176.9 72.5,182.1" fill="#3c2a9a"/>
<polygon points="278.8,175.4 284.6,175.4 281.7,180.6" fill="#3c2a9a"/>
<polygon points="283.6,155.1 289.4,155.1 286.5,149.9" fill="#3c2a9a"/>
<polygon points="224.3,180.1 230.1,180.1 227.2,174.9" fill="#3c2a9a"/>
<polygon points="255.2,144.5 261.0,144.5 258.1,149.7" fill="#3c2a9a"/>
<polygon points="153.9,189.0 159.7,189.0 156.8,183.8" fill="#3c2a9a"/>
<polygon points="285.9,147.9 291.7,147.9 288.8,153.1" fill="#3c2a9a"/>
<polygon points="312.9,162.5 318.7,162.5 315.8,157.3" fill="#3c2a9a"/>
<polygon points="239.3,180.0 245.1,180.0 242.2,174.8" fill="#3c2a9a"/>
<polygon points="335.5,179.5 341.3,179.5 338.4,184.7" fill="#3c2a9a"/>
<polygon points="227.2,172.9 233.0,172.9 230.1,178.1" fill="#3c2a9a"/>
<polygon points="290.0,183.8 295.8,183.8 292.9,178.6" fill="#3c2a9a"/>
<polygon points="271.9,150.5 277.7,150.5 274.8,155.7" fill="#3c2a9a"/>
<polygon points="264.4,134.6 270.2,134.6 267.3,139.8" fill="#3c2a9a"/>
<polygon points="282.1,188.8 287.9,188.8 285.0,183.6" fill="#3c2a9a"/>
<polygon points="222.3,149.3 228.1,149.3 225.2,144.1" fill="#3c2a9a"/>
<polygon points="211.6,191.0 217.4,191.0 214.5,185.8" fill="#3c2a9a"/>
<polygon points="173.6,186.0 179.4,186.0 176.5,180.8" fill="#3c2a9a"/>
<polygon points="300.5,146.4 306.3,146.4 303.4,151.6" fill="#3c2a9a"/>
<polygon points="50.2,168.5 56.0,168.5 53.1,173.7" fill="#3c2a9a"/>
<polygon points="271.5,183.6 277.3,183.6 274.4,188.8" fill="#3c2a9a"/>
<polygon points="262.7,149.0 268.5,149.0 265.6,154.2" fill="#3c2a9a"/>
<polygon points="237.0,163.2 242.8,163.2 239.9,158.0" fill="#3c2a9a"/>
<polygon points="181.9,173.0 187.7,173.0 184.8,167.8" fill="#3c2a9a"/>
<polygon points="270.3,146.2 276.1,146.2 273.2,151.4" fill="#3c2a9a"/>
<polygon points="293.8,159.5 299.6,159.5 296.7,164.7" fill="#3c2a9a"/>
<polygon points="40.3,189.5 46.1,189.5 43.2,184.3" fill="#3c2a9a"/>
<polygon points="127.5,185.0 133.3,185.0 130.4,179.8" fill="#3c2a9a"/>
<polygon points="206.1,191.0 211.9,191.0 209.0,185.8" fill="#3c2a9a"/>
<polygon points="243.1,141.7 248.9,141.7 246.0,146.9" fill="#3c2a9a"/>
<polygon points="300.9,158.5 306.7,158.5 303.8,163.7" fill="#3c2a9a"/>
<polygon points="245.0,179.5 250.8,179.5 247.9,184.7" fill="#3c2a9a"/>
<polygon points="323.6,148.9 329.4,148.9 326.5,154.1" fill="#3c2a9a"/>
<polygon points="207.0,189.3 212.8,189.3 209.9,184.1" fill="#3c2a9a"/>
<polygon points="267.9,134.6 273.7,134.6 270.8,139.8" fill="#3c2a9a"/>
<polygon points="315.9,154.0 321.7,154.0 318.8,148.8" fill="#3c2a9a"/>
<polygon points="241.3,134.2 247.1,134.2 244.2,139.4" fill="#3c2a9a"/>
<polygon points="168.4,187.8 174.2,187.8 171.3,182.6" fill="#3c2a9a"/>
<polygon points="104.4,191.7 110.2,191.7 107.3,186.5" fill="#3c2a9a"/>
<polygon points="269.8,186.6 275.6,186.6 272.7,181.4" fill="#3c2a9a"/>
<polygon points="241.5,145.4 247.3,145.4 244.4,140.2" fill="#3c2a9a"/>
<polygon points="181.6,191.8 187.4,191.8 184.5,186.6" fill="#3c2a9a"/>
<polygon points="221.0,159.6 226.8,159.6 223.9,154.4" fill="#3c2a9a"/>
<polygon points="249.3,139.5 255.1,139.5 252.2,134.3" fill="#3c2a9a"/>
<polygon points="76.8,171.5 82.6,171.5 79.7,176.7" fill="#3c2a9a"/>
<polygon points="316.6,180.1 322.4,180.1 319.5,185.3" fill="#3c2a9a"/>
<polygon points="149.1,183.2 154.9,183.2 152.0,178.0" fill="#3c2a9a"/>
<polygon points="224.8,157.8 230.6,157.8 227.7,152.6" fill="#3c2a9a"/>
<polygon points="238.4,190.7 244.2,190.7 241.3,185.5" fill="#3c2a9a"/>
<polygon points="238.7,143.4 244.5,143.4 241.6,148.6" fill="#3c2a9a"/>
<polygon points="295.0,135.2 300.8,135.2 297.9,140.4" fill="#3c2a9a"/>
<polygon points="363.1,180.5 368.9,180.5 366.0,185.7" fill="#3c2a9a"/>
<polygon points="218.2,182.8 224.0,182.8 221.1,188.0" fill="#3c2a9a"/>
<polygon points="301.2,159.0 307.0,159.0 304.1,153.8" fill="#3c2a9a"/>
<polygon points="326.9,162.1 332.7,162.1 329.8,156.9" fill="#3c2a9a"/>
<polygon points="308.7,150.4 314.5,150.4 311.6,145.2" fill="#3c2a9a"/>
<polygon points="100.5,169.8 106.3,169.8 103.4,164.6" fill="#3c2a9a"/>
<polygon points="192.9,187.0 198.7,187.0 195.8,192.2" fill="#3c2a9a"/>
<polygon points="175.7,161.5 181.5,161.5 178.6,166.7" fill="#3c2a9a"/>
<polygon points="279.3,139.5 285.1,139.5 282.2,144.7" fill="#3c2a9a"/>
<polygon points="322.9,179.3 328.7,179.3 325.8,184.5" fill="#3c2a9a"/>
<polygon points="218.3,152.4 224.1,152.4 221.2,157.6" fill="#3c2a9a"/>
<polygon points="247.5,171.2 253.3,171.2 250.4,176.4" fill="#3c2a9a"/>
<polygon points="143.1,174.7 148.9,174.7 146.0,179.9" fill="#3c2a9a"/>
<polygon points="269.5,187.2 275.3,187.2 272.4,182.0" fill="#3c2a9a"/>
<polygon points="214.9,191.7 220.7,191.7 217.8,186.5" fill="#3c2a9a"/>
<polygon points="246.4,137.6 252.2,137.6 249.3,142.8" fill="#3c2a9a"/>
<polygon points="257.6,166.9 263.4,166.9 260.5,172.1" fill="#3c2a9a"/>
<polygon points="115.7,187.3 121.5,187.3 118.6,182.1" fill="#3c2a9a"/>
<polygon points="353.3,186.8 359.1,186.8 356.2,181.6" fill="#3c2a9a"/>
<polygon points="282.6,170.7 288.4,170.7 285.5,165.5" fill="#3c2a9a"/>
<polygon points="185.9,188.2 191.7,188.2 188.8,183.0" fill="#3c2a9a"/>
<polygon points="228.0,172.7 233.8,172.7 230.9,177.9" fill="#3c2a9a"/>
<polygon points="247.9,178.9 253.7,178.9 250.8,184.1" fill="#3c2a9a"/>
<polygon points="346.6,186.9 352.4,186.9 349.5,181.7" fill="#3c2a9a"/>
<polygon points="314.8,176.5 320.6,176.5 317.7,181.7" fill="#3c2a9a"/>
<polygon points="132.6,188.5 138.4,188.5 135.5,183.3" fill="#3c2a9a"/>
<polygon points="324.3,156.7 330.1,156.7 327.2,161.9" fill="#3c2a9a"/>
<polygon points="126.6,177.9 132.4,177.9 129.5,172.7" fill="#3c2a9a"/>
<polygon points="306.0,148.3 311.8,148.3 308.9,143.1" fill="#3c2a9a"/>
<polygon points="165.2,190.2 171.0,190.2 168.1,185.0" fill="#3c2a9a"/>
<polygon points="153.1,188.0 158.9,188.0 156.0,182.8" fill="#3c2a9a"/>
<polygon points="49.0,190.8 54.8,190.8 51.9,185.6" fill="#3c2a9a"/>
<polygon points="112.5,181.1 118.3,181.1 115.4,175.9" fill="#3c2a9a"/>
<polygon points="88.4,181.6 94.2,181.6 91.3,186.8" fill="#3c2a9a"/>
<polygon points="212.9,185.4 218.7,185.4 215.8,180.2" fill="#3c2a9a"/>
<polygon points="203.6,179.5 209.4,179.5 206.5,174.3" fill="#3c2a9a"/>
<polygon points="144.0,187.2 149.8,187.2 146.9,192.4" fill="#3c2a9a"/>
<polygon points="295.8,161.2 301.6,161.2 298.7,156.0" fill="#3c2a9a"/>
<polygon points="119.3,179.8 125.1,179.8 122.2,185.0" fill="#3c2a9a"/>
<polygon points="241.5,137.9 247.3,137.9 244.4,143.1" fill="#3c2a9a"/>
<polygon points="335.9,184.6 341.7,184.6 338.8,189.8" fill="#3c2a9a"/>
<polygon points="200.4,180.9 206.2,180.9 203.3,186.1" fill="#3c2a9a"/>
<polygon points="99.0,182.2 104.8,182.2 101.9,187.4" fill="#3c2a9a"/>
<polygon points="46.9,163.0 52.7,163.0 49.8,168.2" fill="#3c2a9a"/>
<polygon points="198.9,186.0 204.7,186.0 201.8,191.2" fill="#3c2a9a"/>
<polygon points="235.1,176.0 240.9,176.0 238.0,181.2" fill="#3c2a9a"/>
<polygon points="171.6,186.1 177.4,186.1 174.5,180.9" fill="#3c2a9a"/>
<polygon points="313.2,146.7 319.0,146.7 316.1,151.9" fill="#3c2a9a"/>
<polygon points="195.7,168.1 201.5,168.1 198.6,162.9" fill="#3c2a9a"/>
<polygon points="36.5,190.7 42.3,190.7 39.4,185.5" fill="#3c2a9a"/>
<polygon points="184.9,187.6 190.7,187.6 187.8,182.4" fill="#3c2a9a"/>
<polygon points="310.1,187.3 315.9,187.3 313.0,182.1" fill="#3c2a9a"/>
<polygon points="269.8,150.7 275.6,150.7 272.7,145.5" fill="#3c2a9a"/>
<polygon points="214.6,180.7 220.4,180.7 217.5,175.5" fill="#3c2a9a"/>
<polygon points="329.5,181.5 335.3,181.5 332.4,186.7" fill="#3c2a9a"/>
<polygon points="43.1,183.6 48.9,183.6 46.0,178.4" fill="#3c2a9a"/>
<polygon points="248.8,191.7 254.6,191.7 251.7,186.5" fill="#3c2a9a"/>
<polygon points="154.8,174.9 160.6,174.9 157.7,180.1" fill="#3c2a9a"/>
<polygon points="146.8,166.8 152.6,166.8 149.7,172.0" fill="#3c2a9a"/>
<polygon points="305.5,186.1 311.3,186.1 308.4,180.9" fill="#3c2a9a"/>
<polygon points="281.9,142.1 287.7,142.1 284.8,147.3" fill="#3c2a9a"/>
<polygon points="323.1,162.7 328.9,162.7 326.0,167.9" fill="#3c2a9a"/>
<polygon points="194.7,185.1 200.5,185.1 197.6,179.9" fill="#3c2a9a"/>
<polygon points="120.8,186.9 126.6,186.9 123.7,192.1" fill="#3c2a9a"/>
<polygon points="311.5,155.1 317.3,155.1 314.4,160.3" fill="#3c2a9a"/>
<polygon points="308.4,175.1 314.2,175.1 311.3,180.3" fill="#3c2a9a"/>
<polygon points="259.6,166.1 265.4,166.1 262.5,160.9" fill="#3c2a9a"/>
<polygon points="154.1,192.1 159.9,192.1 157.0,186.9" fill="#3c2a9a"/>
<polygon points="353.6,181.6 359.4,181.6 356.5,186.8" fill="#3c2a9a"/>
<polygon points="282.2,171.1 288.0,171.1 285.1,165.9" fill="#3c2a9a"/>
<polygon points="267.9,158.3 273.7,158.3 270.8,163.5" fill="#3c2a9a"/>
<polygon points="306.7,185.1 312.5,185.1 309.6,179.9" fill="#3c2a9a"/>
<polygon points="302.9,190.1 308.7,190.1 305.8,184.9" fill="#3c2a9a"/>
<polygon points="323.0,155.6 328.8,155.6 325.9,160.8" fill="#3c2a9a"/>
<polygon points="231.3,139.8 237.1,139.8 234.2,145.0" fill="#3c2a9a"/>
<polygon points="286.3,187.2 292.1,187.2 289.2,192.4" fill="#3c2a9a"/>
<polygon points="228.0,132.0 233.8,132.0 230.9,137.2" fill="#3c2a9a"/>
<polygon points="373.3,192.0 379.1,192.0 376.2,186.8" fill="#3c2a9a"/>
<polygon points="194.1,187.1 199.9,187.1 197.0,192.3" fill="#3c2a9a"/>
<polygon points="97.3,168.3 103.1,168.3 100.2,163.1" fill="#3c2a9a"/>
<polygon points="272.8,147.5 278.6,147.5 275.7,152.7" fill="#3c2a9a"/>
<polygon points="49.8,168.9 55.6,168.9 52.7,163.7" fill="#3c2a9a"/>
<polygon points="359.9,183.4 365.7,183.4 362.8,188.6" fill="#3c2a9a"/>
<polygon points="291.6,141.4 297.4,141.4 294.5,136.2" fill="#3c2a9a"/>
<polygon points="252.7,179.7 258.5,179.7 255.6,184.9" fill="#3c2a9a"/>
<polygon points="303.0,141.2 308.8,141.2 305.9,146.4" fill="#3c2a9a"/>
<polygon points="222.5,180.3 228.3,180.3 225.4,185.5" fill="#3c2a9a"/>
<polygon points="122.2,176.9 128.0,176.9 125.1,171.7" fill="#3c2a9a"/>
<polygon points="259.3,164.9 265.1,164.9 262.2,170.1" fill="#3c2a9a"/>
<polygon points="97.2,178.0 103.0,178.0 100.1,172.8" fill="#3c2a9a"/>
<polygon points="226.6,136.5 232.4,136.5 229.5,141.7" fill="#3c2a9a"/>
<polygon points="268.9,153.8 274.7,153.8 271.8,159.0" fill="#3c2a9a"/>
<polygon points="114.2,190.4 120.0,190.4 117.1,185.2" fill="#3c2a9a"/>
<polygon points="48.6,171.7 54.4,171.7 51.5,176.9" fill="#3c2a9a"/>
<polygon points="231.8,185.3 237.6,185.3 234.7,190.5" fill="#3c2a9a"/>
<polygon points="304.0,166.2 309.8,166.2 306.9,161.0" fill="#3c2a9a"/>
<polygon points="211.7,180.9 217.5,180.9 214.6,186.1" fill="#3c2a9a"/>
<polygon points="266.9,144.4 272.7,144.4 269.8,149.6" fill="#3c2a9a"/>
<polygon points="229.7,145.0 235.5,145.0 232.6,150.2" fill="#3c2a9a"/>
<polygon points="211.8,178.5 217.6,178.5 214.7,183.7" fill="#3c2a9a"/>
<polygon points="269.8,184.1 275.6,184.1 272.7,189.3" fill="#3c2a9a"/>
<polygon points="156.2,173.1 162.0,173.1 159.1,178.3" fill="#3c2a9a"/>
<polygon points="222.2,185.4 228.0,185.4 225.1,180.2" fill="#3c2a9a"/>
<polygon points="236.1,142.7 241.9,142.7 239.0,147.9" fill="#3c2a9a"/>
<polygon points="252.3,187.7 258.1,187.7 255.2,182.5" fill="#3c2a9a"/>
<polygon points="274.9,143.8 280.7,143.8 277.8,138.6" fill="#3c2a9a"/>
<polygon points="199.8,190.6 205.6,190.6 202.7,185.4" fill="#3c2a9a"/>
<polygon points="124.0,190.6 129.8,190.6 126.9,185.4" fill="#3c2a9a"/>
<polygon points="318.5,149.9 324.3,149.9 321.4,155.1" fill="#3c2a9a"/>
<polygon points="181.2,170.9 187.0,170.9 184.1,165.7" fill="#3c2a9a"/>
<polygon points="310.6,146.8 316.4,146.8 313.5,152.0" fill="#3c2a9a"/>
<polygon points="369.6,181.7 375.4,181.7 372.5,186.9" fill="#3c2a9a"/>
<polygon points="323.7,162.8 329.5,162.8 326.6,168.0" fill="#3c2a9a"/>
<polygon points="301.9,191.5 307.7,191.5 304.8,186.3" fill="#3c2a9a"/>
<polygon points="174.6,184.9 180.4,184.9 177.5,179.7" fill="#3c2a9a"/>
<polygon points="251.6,186.5 257.4,186.5 254.5,181.3" fill="#3c2a9a"/>
<polygon points="284.3,167.8 290.1,167.8 287.2,162.6" fill="#3c2a9a"/>
<polygon points="320.1,188.9 325.9,188.9 323.0,183.7" fill="#3c2a9a"/>
<polygon points="294.6,160.0 300.4,160.0 297.5,154.8" fill="#3c2a9a"/>
<polygon points="282.9,136.4 288.7,136.4 285.8,141.6" fill="#3c2a9a"/>
<polygon points="267.6,189.7 273.4,189.7 270.5,184.5" fill="#3c2a9a"/>
<polygon points="340.6,192.2 346.4,192.2 343.5,187.0" fill="#3c2a9a"/>
<polygon points="56.5,168.2 62.3,168.2 59.4,163.0" fill="#3c2a9a"/>
<polygon points="251.4,182.5 257.2,182.5 254.3,187.7" fill="#3c2a9a"/>
<polygon points="191.4,180.1 197.2,180.1 194.3,185.3" fill="#3c2a9a"/>
<polygon points="256.1,186.6 261.9,186.6 259.0,191.8" fill="#3c2a9a"/>
<polygon points="86.3,166.7 92.1,166.7 89.2,171.9" fill="#3c2a9a"/>
<polygon points="314.2,152.4 320.0,152.4 317.1,157.6" fill="#3c2a9a"/>
<polygon points="318.5,153.2 324.3,153.2 321.4,158.4" fill="#3c2a9a"/>
<polygon points="334.1,191.7 339.9,191.7 337.0,186.5" fill="#3c2a9a"/>
<polygon points="121.1,185.0 126.9,185.0 124.0,179.8" fill="#3c2a9a"/>
<polygon points="141.9,192.4 147.7,192.4 144.8,187.2" fill="#3c2a9a"/>
<polygon points="200.6,180.3 206.4,180.3 203.5,185.5" fill="#3c2a9a"/>
<polygon points="83.6,182.3 89.4,182.3 86.5,187.5" fill="#3c2a9a"/>
<polygon points="266.4,160.7 272.2,160.7 269.3,155.5" fill="#3c2a9a"/>
<polygon points="128.7,181.0 134.5,181.0 131.6,175.8" fill="#3c2a9a"/>
<polygon points="274.2,151.4 280.0,151.4 277.1,146.2" fill="#3c2a9a"/>
<polygon points="291.7,184.4 297.5,184.4 294.6,179.2" fill="#3c2a9a"/>
<polygon points="306.4,149.8 312.2,149.8 309.3,144.6" fill="#3c2a9a"/>
<polygon points="269.1,168.0 274.9,168.0 272.0,173.2" fill="#3c2a9a"/>
<polygon points="241.4,143.5 247.2,143.5 244.3,148.7" fill="#3c2a9a"/>
<polygon points="215.6,191.5 221.4,191.5 218.5,186.3" fill="#3c2a9a"/>
<polygon points="186.1,176.7 191.9,176.7 189.0,171.5" fill="#3c2a9a"/>
<polygon points="175.3,180.4 181.1,180.4 178.2,185.6" fill="#3c2a9a"/>
<polygon points="316.3,175.1 322.1,175.1 319.2,180.3" fill="#3c2a9a"/>
<polygon points="228.1,181.6 233.9,181.6 231.0,176.4" fill="#3c2a9a"/>
<polygon points="70.2,182.8 76.0,182.8 73.1,188.0" fill="#3c2a9a"/>
<polygon points="227.7,170.1 233.5,170.1 230.6,175.3" fill="#3c2a9a"/>
<polygon points="54.7,178.8 60.5,178.8 57.6,173.6" fill="#3c2a9a"/>
<polygon points="290.3,164.6 296.1,164.6 293.2,159.4" fill="#3c2a9a"/>
<polygon points="100.0,166.7 105.8,166.7 102.9,171.9" fill="#3c2a9a"/>
<polygon points="116.0,178.9 121.8,178.9 118.9,173.7" fill="#3c2a9a"/>
<polygon points="252.5,183.7 258.3,183.7 255.4,188.9" fill="#3c2a9a"/>
<polygon points="355.5,187.0 361.3,187.0 358.4,192.2" fill="#3c2a9a"/>
<polygon points="252.0,186.3 257.8,186.3 254.9,191.5" fill="#3c2a9a"/>
<polygon points="263.5,191.1 269.3,191.1 266.4,185.9" fill="#3c2a9a"/>
<polygon points="185.2,190.1 191.0,190.1 188.1,184.9" fill="#3c2a9a"/>
<polygon points="268.7,179.7 274.5,179.7 271.6,184.9" fill="#3c2a9a"/>
<polygon points="70.2,191.2 76.0,191.2 73.1,186.0" fill="#3c2a9a"/>
<polygon points="265.0,160.7 270.8,160.7 267.9,165.9" fill="#3c2a9a"/>
<polygon points="112.4,188.1 118.2,188.1 115.3,182.9" fill="#3c2a9a"/>
<polygon points="146.6,184.7 152.4,184.7 149.5,179.5" fill="#3c2a9a"/>
<polygon points="112.1,183.0 117.9,183.0 115.0,188.2" fill="#3c2a9a"/>
<polygon points="209.6,178.5 215.4,178.5 212.5,173.3" fill="#3c2a9a"/>
<polygon points="247.8,157.5 253.6,157.5 250.7,162.7" fill="#3c2a9a"/>
<polygon points="241.1,176.3 246.9,176.3 244.0,171.1" fill="#3c2a9a"/>
<polygon points="317.6,187.8 323.4,187.8 320.5,182.6" fill="#3c2a9a"/>
<polygon points="289.1,163.9 294.9,163.9 292.0,169.1" fill="#3c2a9a"/>
<polygon points="310.9,188.9 316.7,188.9 313.8,183.7" fill="#3c2a9a"/>
<polygon points="358.5,180.2 364.3,180.2 361.4,185.4" fill="#3c2a9a"/>
<polygon points="306.1,154.1 311.9,154.1 309.0,148.9" fill="#3c2a9a"/>
<polygon points="156.0,190.5 161.8,190.5 158.9,185.3" fill="#3c2a9a"/>
<polygon points="340.5,191.2 346.3,191.2 343.4,186.0" fill="#3c2a9a"/>
<polygon points="274.2,163.5 280.0,163.5 277.1,158.3" fill="#3c2a9a"/>
<polygon points="326.9,186.7 332.7,186.7 329.8,191.9" fill="#3c2a9a"/>
<polygon points="96.8,187.6 102.6,187.6 99.7,182.4" fill="#3c2a9a"/>
<polygon points="269.7,142.3 275.5,142.3 272.6,147.5" fill="#3c2a9a"/>
<polygon points="59.5,187.8 65.3,187.8 62.4,182.6" fill="#3c2a9a"/>
<polygon points="246.6,192.0 252.4,192.0 249.5,186.8" fill="#3c2a9a"/>
<polygon points="230.8,153.3 236.6,153.3 233.7,158.5" fill="#3c2a9a"/>
<polygon points="297.9,142.3 303.7,142.3 300.8,147.5" fill="#3c2a9a"/>
<polygon points="349.7,185.6 355.5,185.6 352.6,180.4" fill="#3c2a9a"/>
<polygon points="307.7,147.4 313.5,147.4 310.6,152.6" fill="#3c2a9a"/>
<polygon points="177.9,189.5 183.7,189.5 180.8,184.3" fill="#3c2a9a"/>
<polygon points="174.7,192.1 180.5,192.1 177.6,186.9" fill="#3c2a9a"/>
<polygon points="71.2,180.9 77.0,180.9 74.1,175.7" fill="#3c2a9a"/>
<polygon points="348.7,181.1 354.5,181.1 351.6,186.3" fill="#3c2a9a"/>
<polygon points="54.9,186.7 60.7,186.7 57.8,191.9" fill="#3c2a9a"/>
<polygon points="173.7,186.9 179.5,186.9 176.6,192.1" fill="#3c2a9a"/>
<polygon points="88.9,191.4 94.7,191.4 91.8,186.2" fill="#3c2a9a"/>
<polygon points="123.0,167.3 128.8,167.3 125.9,172.5" fill="#3c2a9a"/>
<polygon points="317.6,181.8 323.4,181.8 320.5,187.0" fill="#3c2a9a"/>
<polygon points="349.7,188.1 355.5,188.1 352.6,182.9" fill="#3c2a9a"/>
<polygon points="237.8,133.7 243.6,133.7 240.7,138.9" fill="#3c2a9a"/>
<polygon points="341.5,191.5 347.3,191.5 344.4,186.3" fill="#3c2a9a"/>
<polygon points="265.2,144.7 271.0,144.7 268.1,139.5" fill="#3c2a9a"/>
<polygon points="344.8,180.8 350.6,180.8 347.7,186.0" fill="#3c2a9a"/>
<polygon points="288.0,170.1 293.8,170.1 290.9,164.9" fill="#3c2a9a"/>
<polygon points="273.6,143.1 279.4,143.1 276.5,148.3" fill="#3c2a9a"/>
<polygon points="156.3,189.2 162.1,189.2 159.2,184.0" fill="#3c2a9a"/>
<polygon points="338.4,183.1 344.2,183.1 341.3,188.3" fill="#3c2a9a"/>
<polygon points="201.7,160.9 207.5,160.9 204.6,166.1" fill="#3c2a9a"/>
<polygon points="94.6,179.4 100.4,179.4 97.5,184.6" fill="#3c2a9a"/>
<polygon points="139.3,189.3 145.1,189.3 142.2,184.1" fill="#3c2a9a"/>
<polygon points="35.5,175.6 41.3,175.6 38.4,180.8" fill="#3c2a9a"/>
<polygon points="372.6,192.4 378.4,192.4 375.5,187.2" fill="#3c2a9a"/>
<polygon points="99.1,176.8 104.9,176.8 102.0,171.6" fill="#3c2a9a"/>
<polygon points="168.2,176.4 174.0,176.4 171.1,181.6" fill="#3c2a9a"/>
<polygon points="281.3,186.1 287.1,186.1 284.2,191.3" fill="#3c2a9a"/>
<polygon points="125.5,180.2 131.3,180.2 128.4,185.4" fill="#3c2a9a"/>
<polygon points="287.6,156.8 293.4,156.8 290.5,151.6" fill="#3c2a9a"/>
<polygon points="259.4,150.9 265.2,150.9 262.3,156.1" fill="#3c2a9a"/>
<polygon points="355.9,183.7 361.7,183.7 358.8,188.9" fill="#3c2a9a"/>
<polygon points="307.7,165.1 313.5,165.1 310.6,159.9" fill="#3c2a9a"/>
<polygon points="314.3,180.5 320.1,180.5 317.2,175.3" fill="#3c2a9a"/>
<polygon points="54.0,175.8 59.8,175.8 56.9,181.0" fill="#3c2a9a"/>
<polygon points="195.3,187.8 201.1,187.8 198.2,182.6" fill="#3c2a9a"/>
<polygon points="294.4,185.6 300.2,185.6 297.3,190.8" fill="#3c2a9a"/>
<polygon points="266.0,134.8 271.8,134.8 268.9,140.0" fill="#3c2a9a"/>
<polygon points="295.0,134.1 300.8,134.1 297.9,139.3" fill="#3c2a9a"/>
<polygon points="209.9,190.9 215.7,190.9 212.8,185.7" fill="#3c2a9a"/>
<polygon points="73.7,168.6 79.5,168.6 76.6,173.8" fill="#3c2a9a"/>
<polygon points="216.4,172.1 222.2,172.1 219.3,177.3" fill="#3c2a9a"/>
<polygon points="281.3,160.4 287.1,160.4 284.2,165.6" fill="#3c2a9a"/>
<polygon points="158.1,174.4 163.9,174.4 161.0,169.2" fill="#3c2a9a"/>
<polygon points="98.6,169.4 104.4,169.4 101.5,164.2" fill="#3c2a9a"/>
<polygon points="216.6,153.2 222.4,153.2 219.5,158.4" fill="#3c2a9a"/>
<polygon points="298.2,156.0 304.0,156.0 301.1,161.2" fill="#3c2a9a"/>
<polygon points="311.5,150.9 317.3,150.9 314.4,156.1" fill="#3c2a9a"/>
<polygon points="294.1,146.6 299.9,146.6 297.0,151.8" fill="#3c2a9a"/>
<polygon points="258.4,183.5 264.2,183.5 261.3,178.3" fill="#3c2a9a"/>
<polygon points="231.5,134.9 237.3,134.9 234.4,140.1" fill="#3c2a9a"/>
<polygon points="180.8,185.0 186.6,185.0 183.7,179.8" fill="#3c2a9a"/>
<polygon points="148.8,169.1 154.6,169.1 151.7,174.3" fill="#3c2a9a"/>
<polygon points="179.3,177.8 185.1,177.8 182.2,183.0" fill="#3c2a9a"/>
<polygon points="145.8,181.7 151.6,181.7 148.7,186.9" fill="#3c2a9a"/>
<polygon points="293.7,183.5 299.5,183.5 296.6,178.3" fill="#3c2a9a"/>
<polygon points="268.0,136.1 273.8,136.1 270.9,141.3" fill="#3c2a9a"/>
<polygon points="232.1,144.6 237.9,144.6 235.0,149.8" fill="#3c2a9a"/>
<polygon points="163.5,168.7 169.3,168.7 166.4,173.9" fill="#3c2a9a"/>
<polygon points="220.1,143.3 225.9,143.3 223.0,148.5" fill="#3c2a9a"/>
<polygon points="269.9,191.5 275.7,191.5 272.8,186.3" fill="#3c2a9a"/>
<polygon points="306.6,187.5 312.4,187.5 309.5,182.3" fill="#3c2a9a"/>
<polygon points="270.1,145.1 275.9,145.1 273.0,150.3" fill="#3c2a9a"/>
<polygon points="280.5,183.7 286.3,183.7 283.4,178.5" fill="#3c2a9a"/>
<polygon points="56.6,188.8 62.4,188.8 59.5,183.6" fill="#3c2a9a"/>
<polygon points="111.5,182.5 117.3,182.5 114.4,187.7" fill="#3c2a9a"/>
<polygon points="314.4,189.4 320.2,189.4 317.3,184.2" fill="#3c2a9a"/>
<polygon points="153.9,178.6 159.7,178.6 156.8,173.4" fill="#3c2a9a"/>
<polygon points="287.9,136.0 293.7,136.0 290.8,141.2" fill="#3c2a9a"/>
<polygon points="302.0,158.9 307.8,158.9 304.9,153.7" fill="#3c2a9a"/>
<polygon points="263.7,164.0 269.5,164.0 266.6,169.2" fill="#3c2a9a"/>
<polygon points="238.9,143.6 244.7,143.6 241.8,148.8" fill="#3c2a9a"/>
<polygon points="287.3,136.8 293.1,136.8 290.2,142.0" fill="#3c2a9a"/>
<polygon points="227.3,153.8 233.1,153.8 230.2,148.6" fill="#3c2a9a"/>
<polygon points="303.6,154.3 309.4,154.3 306.5,159.5" fill="#3c2a9a"/>
<polygon points="64.5,180.2 70.3,180.2 67.4,185.4" fill="#3c2a9a"/>
<polygon points="307.1,192.0 312.9,192.0 310.0,186.8" fill="#3c2a9a"/>
<polygon points="254.8,165.2 260.6,165.2 257.7,170.4" fill="#3c2a9a"/>
<polygon points="170.5,186.4 176.3,186.4 173.4,191.6" fill="#3c2a9a"/>
<polygon points="243.6,156.5 249.4,156.5 246.5,161.7" fill="#3c2a9a"/>
<polygon points="273.4,158.4 279.2,158.4 276.3,163.6" fill="#3c2a9a"/>
<polygon points="176.8,186.0 182.6,186.0 179.7,180.8" fill="#3c2a9a"/>
<polygon points="48.6,179.4 54.4,179.4 51.5,174.2" fill="#3c2a9a"/>
<polygon points="268.6,143.3 274.4,143.3 271.5,138.1" fill="#3c2a9a"/>
<polygon points="298.2,190.7 304.0,190.7 301.1,185.5" fill="#3c2a9a"/>
<polygon points="327.7,169.4 333.5,169.4 330.6,174.6" fill="#3c2a9a"/>
<polygon points="242.8,146.7 248.6,146.7 245.7,141.5" fill="#3c2a9a"/>
<polygon points="113.3,186.5 119.1,186.5 116.2,181.3" fill="#3c2a9a"/>
<polygon points="303.9,167.8 309.7,167.8 306.8,162.6" fill="#3c2a9a"/>
<polygon points="322.0,157.4 327.8,157.4 324.9,152.2" fill="#3c2a9a"/>
<polygon points="303.5,139.0 309.3,139.0 306.4,144.2" fill="#3c2a9a"/>
<polygon points="262.6,133.7 268.4,133.7 265.5,138.9" fill="#3c2a9a"/>
<polygon points="231.3,146.3 237.1,146.3 234.2,151.5" fill="#3c2a9a"/>
<polygon points="338.7,190.5 344.5,190.5 341.6,185.3" fill="#3c2a9a"/>
<polygon points="65.3,166.6 71.1,166.6 68.2,161.4" fill="#3c2a9a"/>
<polygon points="243.4,180.2 249.2,180.2 246.3,185.4" fill="#3c2a9a"/>
<polygon points="99.2,168.2 105.0,168.2 102.1,173.4" fill="#3c2a9a"/>
<polygon points="46.8,181.9 52.6,181.9 49.7,187.1" fill="#3c2a9a"/>
<polygon points="89.4,183.3 95.2,183.3 92.3,188.5" fill="#3c2a9a"/>
<polygon points="246.4,168.9 252.2,168.9 249.3,174.1" fill="#3c2a9a"/>
<polygon points="116.9,180.2 122.7,180.2 119.8,175.0" fill="#3c2a9a"/>
<polygon points="261.4,191.6 267.2,191.6 264.3,186.4" fill="#3c2a9a"/>
<polygon points="306.7,166.0 312.5,166.0 309.6,171.2" fill="#3c2a9a"/>
<polygon points="316.1,140.9 321.9,140.9 319.0,146.1" fill="#3c2a9a"/>
<polygon points="243.3,146.0 249.1,146.0 246.2,140.8" fill="#3c2a9a"/>
<polygon points="222.3,167.7 228.1,167.7 225.2,172.9" fill="#3c2a9a"/>
<polygon points="163.6,188.0 169.4,188.0 166.5,182.8" fill="#3c2a9a"/>
<polygon points="364.6,191.3 370.4,191.3 367.5,186.1" fill="#3c2a9a"/>
<polygon points="313.5,191.3 319.3,191.3 316.4,186.1" fill="#3c2a9a"/>
<polygon points="39.7,180.4 45.5,180.4 42.6,185.6" fill="#3c2a9a"/>
<polygon points="318.4,149.2 324.2,149.2 321.3,144.0" fill="#3c2a9a"/>
<polygon points="279.0,140.1 284.8,140.1 281.9,145.3" fill="#3c2a9a"/>
<polygon points="194.0,158.3 199.8,158.3 196.9,163.5" fill="#3c2a9a"/>
<polygon points="228.3,137.5 234.1,137.5 231.2,142.7" fill="#3c2a9a"/>
<polygon points="307.5,153.9 313.3,153.9 310.4,148.7" fill="#3c2a9a"/>
<polygon points="191.9,184.5 197.7,184.5 194.8,189.7" fill="#3c2a9a"/>
<polygon points="218.2,181.5 224.0,181.5 221.1,186.7" fill="#3c2a9a"/>
<polygon points="226.2,192.3 232.0,192.3 229.1,187.1" fill="#3c2a9a"/>
<polygon points="343.7,181.2 349.5,181.2 346.6,186.4" fill="#3c2a9a"/>
<polygon points="207.8,156.0 213.6,156.0 210.7,161.2" fill="#3c2a9a"/>
<polygon points="138.1,185.5 143.9,185.5 141.0,190.7" fill="#3c2a9a"/>
<polygon points="299.9,139.8 305.7,139.8 302.8,145.0" fill="#3c2a9a"/>
<polygon points="317.8,190.0 323.6,190.0 320.7,184.8" fill="#3c2a9a"/>
<polygon points="266.7,171.2 272.5,171.2 269.6,166.0" fill="#3c2a9a"/>
<polygon points="243.9,141.1 249.7,141.1 246.8,146.3" fill="#3c2a9a"/>
<polygon points="292.4,145.8 298.2,145.8 295.3,140.6" fill="#3c2a9a"/>
<polygon points="193.6,192.2 199.4,192.2 196.5,187.0" fill="#3c2a9a"/>
<polygon points="61.3,183.2 67.1,183.2 64.2,188.4" fill="#3c2a9a"/>
<polygon points="137.6,189.0 143.4,189.0 140.5,183.8" fill="#3c2a9a"/>
<polygon points="96.6,162.5 102.4,162.5 99.5,167.7" fill="#3c2a9a"/>
<polygon points="85.5,168.7 91.3,168.7 88.4,173.9" fill="#3c2a9a"/>
<polygon points="282.6,155.8 288.4,155.8 285.5,161.0" fill="#3c2a9a"/>
<polygon points="243.1,185.0 248.9,185.0 246.0,179.8" fill="#3c2a9a"/>
<polygon points="224.0,175.0 229.8,175.0 226.9,180.2" fill="#3c2a9a"/>
<polygon points="226.2,176.2 232.0,176.2 229.1,181.4" fill="#3c2a9a"/>
<polygon points="57.8,180.2 63.6,180.2 60.7,185.4" fill="#3c2a9a"/>
<polygon points="255.2,153.7 261.0,153.7 258.1,158.9" fill="#3c2a9a"/>
<polygon points="160.3,191.5 166.1,191.5 163.2,186.3" fill="#3c2a9a"/>
<polygon points="348.4,183.1 354.2,183.1 351.3,188.3" fill="#3c2a9a"/>
<polygon points="167.3,192.4 173.1,192.4 170.2,187.2" fill="#3c2a9a"/>
<polygon points="318.4,146.7 324.2,146.7 321.3,141.5" fill="#3c2a9a"/>
<polygon points="69.6,175.8 75.4,175.8 72.5,170.6" fill="#3c2a9a"/>
<polygon points="170.0,166.0 175.8,166.0 172.9,160.8" fill="#3c2a9a"/>
<polygon points="303.9,149.7 309.7,149.7 306.8,154.9" fill="#3c2a9a"/>
<polygon points="207.6,189.5 213.4,189.5 210.5,184.3" fill="#3c2a9a"/>
<polygon points="143.0,192.2 148.8,192.2 145.9,187.0" fill="#3c2a9a"/>
<polygon points="150.8,180.5 156.6,180.5 153.7,185.7" fill="#3c2a9a"/>
<polygon points="103.1,164.0 108.9,164.0 106.0,158.8" fill="#3c2a9a"/>
<polygon points="197.5,157.8 203.3,157.8 200.4,163.0" fill="#3c2a9a"/>
<polygon points="241.3,180.1 247.1,180.1 244.2,185.3" fill="#3c2a9a"/>
<polygon points="60.0,164.1 65.8,164.1 62.9,158.9" fill="#3c2a9a"/>
<polygon points="215.0,158.7 220.8,158.7 217.9,163.9" fill="#3c2a9a"/>
<polygon points="250.4,186.1 256.2,186.1 253.3,191.3" fill="#3c2a9a"/>
<polygon points="186.8,190.9 192.6,190.9 189.7,185.7" fill="#3c2a9a"/>
<polygon points="268.0,141.6 273.8,141.6 270.9,146.8" fill="#3c2a9a"/>
<polygon points="70.0,177.0 75.8,177.0 72.9,182.2" fill="#3c2a9a"/>
<polygon points="74.1,180.1 79.9,180.1 77.0,174.9" fill="#3c2a9a"/>
<polygon points="108.6,190.4 114.4,190.4 111.5,185.2" fill="#3c2a9a"/>
<polygon points="294.4,150.2 300.2,150.2 297.3,155.4" fill="#3c2a9a"/>
<polygon points="243.4,140.3 249.2,140.3 246.3,145.5" fill="#3c2a9a"/>
<polygon points="275.2,155.7 281.0,155.7 278.1,160.9" fill="#3c2a9a"/>
<polygon points="372.7,190.0 378.5,190.0 375.6,184.8" fill="#3c2a9a"/>
<polygon points="261.5,158.2 267.3,158.2 264.4,163.4" fill="#3c2a9a"/>
<polygon points="315.1,190.7 320.9,190.7 318.0,185.5" fill="#3c2a9a"/>
<polygon points="228.7,136.2 234.5,136.2 231.6,141.4" fill="#3c2a9a"/>
<polygon points="224.5,141.2 230.3,141.2 227.4,146.4" fill="#3c2a9a"/>
<polygon points="107.5,184.0 113.3,184.0 110.4,189.2" fill="#3c2a9a"/>
<polygon points="354.7,186.4 360.5,186.4 357.6,181.2" fill="#3c2a9a"/>
<polygon points="236.6,141.0 242.4,141.0 239.5,135.8" fill="#3c2a9a"/>
<polygon points="325.3,166.6 331.1,166.6 328.2,161.4" fill="#3c2a9a"/>
<polygon points="248.4,167.4 254.2,167.4 251.3,172.6" fill="#3c2a9a"/>
<polygon points="259.0,184.3 264.8,184.3 261.9,179.1" fill="#3c2a9a"/>
<polygon points="98.3,175.7 104.1,175.7 101.2,170.5" fill="#3c2a9a"/>
<polygon points="187.0,183.7 192.8,183.7 189.9,178.5" fill="#3c2a9a"/>
<polygon points="264.6,191.4 270.4,191.4 267.5,186.2" fill="#3c2a9a"/>
<polygon points="223.9,137.0 229.7,137.0 226.8,142.2" fill="#3c2a9a"/>
<polygon points="101.7,167.2 107.5,167.2 104.6,172.4" fill="#3c2a9a"/>
<polygon points="303.9,175.0 309.7,175.0 306.8,180.2" fill="#3c2a9a"/>
<polygon points="325.1,180.1 330.9,180.1 328.0,185.3" fill="#3c2a9a"/>
<polygon points="37.4,180.8 43.2,180.8 40.3,186.0" fill="#3c2a9a"/>
<polygon points="128.6,187.3 134.4,187.3 131.5,182.1" fill="#3c2a9a"/>
<polygon points="252.0,182.5 257.8,182.5 254.9,187.7" fill="#3c2a9a"/>
<polygon points="335.1,192.2 340.9,192.2 338.0,187.0" fill="#3c2a9a"/>
<polygon points="220.1,160.3 225.9,160.3 223.0,165.5" fill="#3c2a9a"/>
<polygon points="304.4,165.1 310.2,165.1 307.3,170.3" fill="#3c2a9a"/>
<polygon points="316.8,153.5 322.6,153.5 319.7,158.7" fill="#3c2a9a"/>
<polygon points="113.8,169.6 119.6,169.6 116.7,164.4" fill="#3c2a9a"/>
<polygon points="229.8,166.7 235.6,166.7 232.7,161.5" fill="#3c2a9a"/>
<polygon points="249.5,178.9 255.3,178.9 252.4,184.1" fill="#3c2a9a"/>
<polygon points="255.0,162.0 260.8,162.0 257.9,167.2" fill="#3c2a9a"/>
<polygon points="296.0,160.9 301.8,160.9 298.9,166.1" fill="#3c2a9a"/>
<polygon points="114.9,184.4 120.7,184.4 117.8,179.2" fill="#3c2a9a"/>
<polygon points="198.5,172.8 204.3,172.8 201.4,178.0" fill="#3c2a9a"/>
<polygon points="248.5,144.4 254.3,144.4 251.4,149.6" fill="#3c2a9a"/>
<polygon points="324.5,163.7 330.3,163.7 327.4,168.9" fill="#3c2a9a"/>
<polygon points="324.7,162.7 330.5,162.7 327.6,167.9" fill="#3c2a9a"/>
<polygon points="162.2,181.5 168.0,181.5 165.1,186.7" fill="#3c2a9a"/>
<polygon points="361.4,182.9 367.2,182.9 364.3,188.1" fill="#3c2a9a"/>
<polygon points="201.2,190.7 207.0,190.7 204.1,185.5" fill="#3c2a9a"/>
<polygon points="254.2,175.2 260.0,175.2 257.1,170.0" fill="#3c2a9a"/>
<polygon points="292.3,138.9 298.1,138.9 295.2,144.1" fill="#3c2a9a"/>
<polygon points="326.1,162.5 331.9,162.5 329.0,167.7" fill="#3c2a9a"/>
<polygon points="364.2,187.4 370.0,187.4 367.1,182.2" fill="#3c2a9a"/>
<polygon points="50.0,179.9 55.8,179.9 52.9,185.1" fill="#3c2a9a"/>
<polygon points="127.0,190.9 132.8,190.9 129.9,185.7" fill="#3c2a9a"/>
<polygon points="37.3,181.0 43.1,181.0 40.2,175.8" fill="#3c2a9a"/>
<polygon points="298.6,155.5 304.4,155.5 301.5,150.3" fill="#3c2a9a"/>
<polygon points="249.1,166.1 254.9,166.1 252.0,160.9" fill="#3c2a9a"/>
<polygon points="51.3,163.2 57.1,163.2 54.2,168.4" fill="#3c2a9a"/>
<polygon points="335.7,189.7 341.5,189.7 338.6,184.5" fill="#3c2a9a"/>
<polygon points="98.7,185.0 104.5,185.0 101.6,190.2" fill="#3c2a9a"/>
<polygon points="190.3,191.1 196.1,191.1 193.2,185.9" fill="#3c2a9a"/>
<polygon points="229.5,190.4 235.3,190.4 232.4,185.2" fill="#3c2a9a"/>
<polygon points="218.5,186.5 224.3,186.5 221.4,181.3" fill="#3c2a9a"/>
<polygon points="125.0,189.4 130.8,189.4 127.9,184.2" fill="#3c2a9a"/>
<polygon points="329.0,167.6 334.8,167.6 331.9,162.4" fill="#3c2a9a"/>
<polygon points="88.0,182.9 93.8,182.9 90.9,177.7" fill="#3c2a9a"/>
<polygon points="162.1,181.2 167.9,181.2 165.0,176.0" fill="#3c2a9a"/>
<polygon points="374.5,188.6 380.3,188.6 377.4,183.4" fill="#3c2a9a"/>
<polygon points="268.2,186.5 274.0,186.5 271.1,181.3" fill="#3c2a9a"/>
<polygon points="324.7,191.0 330.5,191.0 327.6,185.8" fill="#3c2a9a"/>
<polygon points="247.0,189.8 252.8,189.8 249.9,184.6" fill="#3c2a9a"/>
<polygon points="240.5,183.9 246.3,183.9 243.4,178.7" fill="#3c2a9a"/>
<polygon points="327.0,168.5 332.8,168.5 329.9,163.3" fill="#3c2a9a"/>
<polygon points="242.6,163.8 248.4,163.8 245.5,169.0" fill="#3c2a9a"/>
<polygon points="105.3,160.9 111.1,160.9 108.2,166.1" fill="#3c2a9a"/>
<polygon points="258.4,183.7 264.2,183.7 261.3,188.9" fill="#3c2a9a"/>
<polygon points="315.2,186.6 321.0,186.6 318.1,181.4" fill="#3c2a9a"/>
<polygon points="107.0,181.8 112.8,181.8 109.9,176.6" fill="#3c2a9a"/>
<polygon points="288.3,186.2 294.1,186.2 291.2,191.4" fill="#3c2a9a"/>
<polygon points="274.0,151.0 279.8,151.0 276.9,156.2" fill="#3c2a9a"/>
<polygon points="93.2,171.0 99.0,171.0 96.1,176.2" fill="#3c2a9a"/>
<polygon points="180.4,180.3 186.2,180.3 183.3,185.5" fill="#3c2a9a"/>
<polygon points="226.7,186.4 232.5,186.4 229.6,191.6" fill="#3c2a9a"/>
<polygon points="160.2,172.2 166.0,172.2 163.1,177.4" fill="#3c2a9a"/>
<polygon points="68.9,170.5 74.7,170.5 71.8,175.7" fill="#3c2a9a"/>
<polygon points="270.2,173.2 276.0,173.2 273.1,168.0" fill="#3c2a9a"/>
<polygon points="144.3,191.4 150.1,191.4 147.2,186.2" fill="#3c2a9a"/>
<polygon points="259.5,153.0 265.3,153.0 262.4,147.8" fill="#3c2a9a"/>
<polygon points="93.5,187.7 99.3,187.7 96.4,182.5" fill="#3c2a9a"/>
<polygon points="336.4,191.6 342.2,191.6 339.3,186.4" fill="#3c2a9a"/>
<polygon points="235.6,182.7 241.4,182.7 238.5,177.5" fill="#3c2a9a"/>
<polygon points="119.9,176.4 125.7,176.4 122.8,171.2" fill="#3c2a9a"/>
<polygon points="309.7,142.7 315.5,142.7 312.6,147.9" fill="#3c2a9a"/>
<polygon points="274.3,185.2 280.1,185.2 277.2,180.0" fill="#3c2a9a"/>
<polygon points="327.0,166.0 332.8,166.0 329.9,171.2" fill="#3c2a9a"/>
<polygon points="56.9,179.1 62.7,179.1 59.8,184.3" fill="#3c2a9a"/>
<polygon points="156.6,183.3 162.4,183.3 159.5,188.5" fill="#3c2a9a"/>
<polygon points="268.9,183.0 274.7,183.0 271.8,177.8" fill="#3c2a9a"/>
<polygon points="360.5,190.1 366.3,190.1 363.4,184.9" fill="#3c2a9a"/>
<polygon points="369.5,189.4 375.3,189.4 372.4,184.2" fill="#3c2a9a"/>
<polygon points="256.9,191.1 262.7,191.1 259.8,185.9" fill="#3c2a9a"/>
<polygon points="250.4,136.8 256.2,136.8 253.3,142.0" fill="#3c2a9a"/>
<polygon points="273.0,186.4 278.8,186.4 275.9,181.2" fill="#3c2a9a"/>
<polygon points="279.8,151.2 285.6,151.2 282.7,146.0" fill="#3c2a9a"/>
<polygon points="316.5,181.3 322.3,181.3 319.4,186.5" fill="#3c2a9a"/>
<polygon points="235.8,136.7 241.6,136.7 238.7,141.9" fill="#3c2a9a"/>
<polygon points="247.5,168.0 253.3,168.0 250.4,173.2" fill="#3c2a9a"/>
<polygon points="224.1,191.9 229.9,191.9 227.0,186.7" fill="#3c2a9a"/>
<polygon points="227.7,143.7 233.5,143.7 230.6,138.5" fill="#3c2a9a"/>
<polygon points="44.7,186.5 50.5,186.5 47.6,191.7" fill="#3c2a9a"/>
<polygon points="132.4,189.1 138.2,189.1 135.3,183.9" fill="#3c2a9a"/>
<polygon points="239.9,143.2 245.7,143.2 242.8,148.4" fill="#3c2a9a"/>
<polygon points="272.8,162.5 278.6,162.5 275.7,157.3" fill="#3c2a9a"/>
<polygon points="301.4,157.8 307.2,157.8 304.3,163.0" fill="#3c2a9a"/>
<polygon points="324.3,180.4 330.1,180.4 327.2,175.2" fill="#3c2a9a"/>
<polygon points="317.4,164.5 323.2,164.5 320.3,159.3" fill="#3c2a9a"/>
<polygon points="73.5,184.3 79.3,184.3 76.4,189.5" fill="#3c2a9a"/>
<polygon points="225.1,192.0 230.9,192.0 228.0,186.8" fill="#3c2a9a"/>
<polygon points="220.5,166.6 226.3,166.6 223.4,171.8" fill="#3c2a9a"/>
<polygon points="240.6,187.0 246.4,187.0 243.5,192.2" fill="#3c2a9a"/>
<polygon points="269.9,145.8 275.7,145.8 272.8,140.6" fill="#3c2a9a"/>
<polygon points="218.5,156.9 224.3,156.9 221.4,151.7" fill="#3c2a9a"/>
<polygon points="278.7,145.7 284.5,145.7 281.6,150.9" fill="#3c2a9a"/>
<polygon points="322.2,156.0 328.0,156.0 325.1,150.8" fill="#3c2a9a"/>
<polygon points="283.4,145.5 289.2,145.5 286.3,150.7" fill="#3c2a9a"/>
<polygon points="157.2,174.8 163.0,174.8 160.1,180.0" fill="#3c2a9a"/>
<polygon points="137.8,180.4 143.6,180.4 140.7,175.2" fill="#3c2a9a"/>
<polygon points="129.6,178.6 135.4,178.6 132.5,183.8" fill="#3c2a9a"/>
<polygon points="291.9,148.9 297.7,148.9 294.8,154.1" fill="#3c2a9a"/>
<polygon points="68.8,177.8 74.6,177.8 71.7,172.6" fill="#3c2a9a"/>
<polygon points="114.9,171.8 120.7,171.8 117.8,177.0" fill="#3c2a9a"/>
<polygon points="208.2,187.2 214.0,187.2 211.1,192.4" fill="#3c2a9a"/>
<polygon points="227.7,172.6 233.5,172.6 230.6,167.4" fill="#3c2a9a"/>
<polygon points="233.0,138.7 238.8,138.7 235.9,143.9" fill="#3c2a9a"/>
<polygon points="71.3,177.1 77.1,177.1 74.2,182.3" fill="#3c2a9a"/>
<polygon points="264.6,188.9 270.4,188.9 267.5,183.7" fill="#3c2a9a"/>
<polygon points="165.1,174.5 170.9,174.5 168.0,179.7" fill="#3c2a9a"/>
<polygon points="69.9,169.9 75.7,169.9 72.8,175.1" fill="#3c2a9a"/>
<polygon points="275.9,141.0 281.7,141.0 278.8,135.8" fill="#3c2a9a"/>
<polygon points="269.3,181.4 275.1,181.4 272.2,176.2" fill="#3c2a9a"/>
<polygon points="235.1,164.2 240.9,164.2 238.0,159.0" fill="#3c2a9a"/>
<polygon points="252.9,158.9 258.7,158.9 255.8,153.7" fill="#3c2a9a"/>
<polygon points="310.3,182.1 316.1,182.1 313.2,187.3" fill="#3c2a9a"/>
<polygon points="48.7,169.3 54.5,169.3 51.6,174.5" fill="#3c2a9a"/>
<polygon points="191.2,185.1 197.0,185.1 194.1,179.9" fill="#3c2a9a"/>
<polygon points="56.2,170.5 62.0,170.5 59.1,165.3" fill="#3c2a9a"/>
<polygon points="324.7,161.4 330.5,161.4 327.6,166.6" fill="#3c2a9a"/>
<polygon points="276.6,139.3 282.4,139.3 279.5,144.5" fill="#3c2a9a"/>
<polygon points="314.7,180.8 320.5,180.8 317.6,175.6" fill="#3c2a9a"/>
<polygon points="230.7,157.8 236.5,157.8 233.6,163.0" fill="#3c2a9a"/>
<polygon points="102.4,165.5 108.2,165.5 105.3,160.3" fill="#3c2a9a"/>
<polygon points="198.4,191.6 204.2,191.6 201.3,186.4" fill="#3c2a9a"/>
<polygon points="231.3,190.8 237.1,190.8 234.2,185.6" fill="#3c2a9a"/>
<polygon points="249.3,143.4 255.1,143.4 252.2,148.6" fill="#3c2a9a"/>
<polygon points="298.3,141.4 304.1,141.4 301.2,136.2" fill="#3c2a9a"/>
<polygon points="180.2,169.5 186.0,169.5 183.1,174.7" fill="#3c2a9a"/>
<polygon points="247.3,138.5 253.1,138.5 250.2,143.7" fill="#3c2a9a"/>
<polygon points="158.3,179.2 164.1,179.2 161.2,184.4" fill="#3c2a9a"/>
<polygon points="161.7,181.0 167.5,181.0 164.6,186.2" fill="#3c2a9a"/>
<polygon points="324.4,163.6 330.2,163.6 327.3,168.8" fill="#3c2a9a"/>
<polygon points="197.1,182.0 202.9,182.0 200.0,187.2" fill="#3c2a9a"/>
<polygon points="202.6,186.3 208.4,186.3 205.5,191.5" fill="#3c2a9a"/>
<polygon points="149.8,170.9 155.6,170.9 152.7,165.7" fill="#3c2a9a"/>
<polygon points="264.0,154.8 269.8,154.8 266.9,149.6" fill="#3c2a9a"/>
<polygon points="231.6,183.1 237.4,183.1 234.5,177.9" fill="#3c2a9a"/>
<polygon points="337.1,181.3 342.9,181.3 340.0,186.5" fill="#3c2a9a"/>
<polygon points="232.0,161.8 237.8,161.8 234.9,156.6" fill="#3c2a9a"/>
<polygon points="260.8,143.8 266.6,143.8 263.7,138.6" fill="#3c2a9a"/>
<polygon points="153.3,172.3 159.1,172.3 156.2,167.1" fill="#3c2a9a"/>
<polygon points="305.9,146.4 311.7,146.4 308.8,151.6" fill="#3c2a9a"/>
<polygon points="290.3,187.7 296.1,187.7 293.2,182.5" fill="#3c2a9a"/>
<polygon points="84.1,182.2 89.9,182.2 87.0,187.4" fill="#3c2a9a"/>
<polygon points="206.1,190.8 211.9,190.8 209.0,185.6" fill="#3c2a9a"/>
<polygon points="241.9,139.8 247.7,139.8 244.8,145.0" fill="#3c2a9a"/>
<polygon points="322.1,145.9 327.9,145.9 325.0,151.1" fill="#3c2a9a"/>
<polygon points="301.5,159.1 307.3,159.1 304.4,164.3" fill="#3c2a9a"/>
<polygon points="240.8,140.0 246.6,140.0 243.7,134.8" fill="#3c2a9a"/>
<polygon points="82.0,184.8 87.8,184.8 84.9,190.0" fill="#3c2a9a"/>
<polygon points="282.1,163.6 287.9,163.6 285.0,158.4" fill="#3c2a9a"/>
<polygon points="198.7,186.9 204.5,186.9 201.6,192.1" fill="#3c2a9a"/>
<polygon points="327.4,165.6 333.2,165.6 330.3,160.4" fill="#3c2a9a"/>
<polygon points="271.9,154.9 277.7,154.9 274.8,149.7" fill="#3c2a9a"/>
<polygon points="117.7,177.6 123.5,177.6 120.6,182.8" fill="#3c2a9a"/>
<polygon points="285.0,138.0 290.8,138.0 287.9,143.2" fill="#3c2a9a"/>
<polygon points="223.1,165.7 228.9,165.7 226.0,170.9" fill="#3c2a9a"/>
<polygon points="324.8,172.1 330.6,172.1 327.7,177.3" fill="#3c2a9a"/>
<polygon points="300.0,175.4 305.8,175.4 302.9,170.2" fill="#3c2a9a"/>
<polygon points="323.7,164.7 329.5,164.7 326.6,159.5" fill="#3c2a9a"/>
<polygon points="87.5,187.2 93.3,187.2 90.4,192.4" fill="#3c2a9a"/>
<polygon points="225.6,178.3 231.4,178.3 228.5,173.1" fill="#3c2a9a"/>
<polygon points="226.6,189.9 232.4,189.9 229.5,184.7" fill="#3c2a9a"/>
<polygon points="230.0,174.0 235.8,174.0 232.9,179.2" fill="#3c2a9a"/>
<polygon points="336.1,182.8 341.9,182.8 339.0,188.0" fill="#3c2a9a"/>
<polygon points="298.5,187.9 304.3,187.9 301.4,182.7" fill="#3c2a9a"/>
<polygon points="189.8,177.6 195.6,177.6 192.7,182.8" fill="#3c2a9a"/>
<polygon points="301.0,142.7 306.8,142.7 303.9,147.9" fill="#3c2a9a"/>
<polygon points="321.0,150.0 326.8,150.0 323.9,144.8" fill="#3c2a9a"/>
<polygon points="73.8,188.7 79.6,188.7 76.7,183.5" fill="#3c2a9a"/>
<polygon points="317.6,190.3 323.4,190.3 320.5,185.1" fill="#3c2a9a"/>
<polygon points="256.4,184.2 262.2,184.2 259.3,189.4" fill="#3c2a9a"/>
<polygon points="84.0,173.5 89.8,173.5 86.9,168.3" fill="#3c2a9a"/>
<polygon points="78.9,168.1 84.7,168.1 81.8,173.3" fill="#3c2a9a"/>
<polygon points="288.3,192.2 294.1,192.2 291.2,187.0" fill="#3c2a9a"/>
<polygon points="379.1,186.8 384.9,186.8 382.0,192.0" fill="#3c2a9a"/>
<polygon points="219.1,160.0 224.9,160.0 222.0,165.2" fill="#3c2a9a"/>
<polygon points="322.9,189.9 328.7,189.9 325.8,184.7" fill="#3c2a9a"/>
<polygon points="265.5,147.9 271.3,147.9 268.4,153.1" fill="#3c2a9a"/>
<polygon points="97.5,179.4 103.3,179.4 100.4,174.2" fill="#3c2a9a"/>
<polygon points="55.6,184.3 61.4,184.3 58.5,179.1" fill="#3c2a9a"/>
<polygon points="257.8,175.2 263.6,175.2 260.7,180.4" fill="#3c2a9a"/>
<polygon points="208.3,165.4 214.1,165.4 211.2,160.2" fill="#3c2a9a"/>
<polygon points="294.5,139.3 300.3,139.3 297.4,134.1" fill="#3c2a9a"/>
<polygon points="238.9,141.6 244.7,141.6 241.8,146.8" fill="#3c2a9a"/>
<polygon points="312.9,147.5 318.7,147.5 315.8,152.7" fill="#3c2a9a"/>
<polygon points="224.2,138.6 230.0,138.6 227.1,143.8" fill="#3c2a9a"/>
<polygon points="206.6,177.8 212.4,177.8 209.5,183.0" fill="#3c2a9a"/>
<polygon points="128.4,182.8 134.2,182.8 131.3,188.0" fill="#3c2a9a"/>
<polygon points="329.8,192.2 335.6,192.2 332.7,187.0" fill="#3c2a9a"/>
<polygon points="306.8,146.2 312.6,146.2 309.7,151.4" fill="#3c2a9a"/>
<polygon points="311.6,174.9 317.4,174.9 314.5,180.1" fill="#3c2a9a"/>
<polygon points="220.9,181.9 226.7,181.9 223.8,187.1" fill="#3c2a9a"/>
<polygon points="166.5,174.7 172.3,174.7 169.4,179.9" fill="#3c2a9a"/>
<polygon points="274.5,144.3 280.3,144.3 277.4,149.5" fill="#3c2a9a"/>
<polygon points="320.6,182.7 326.4,182.7 323.5,177.5" fill="#3c2a9a"/>
<polygon points="88.2,191.2 94.0,191.2 91.1,186.0" fill="#3c2a9a"/>
<polygon points="272.2,140.1 278.0,140.1 275.1,145.3" fill="#3c2a9a"/>
<polygon points="262.6,182.8 268.4,182.8 265.5,177.6" fill="#3c2a9a"/>
<polygon points="318.1,153.5 323.9,153.5 321.0,158.7" fill="#3c2a9a"/>
<polygon points="327.4,175.3 333.2,175.3 330.3,180.5" fill="#3c2a9a"/>
<polygon points="370.8,186.5 376.6,186.5 373.7,181.3" fill="#3c2a9a"/>
<polygon points="288.9,140.3 294.7,140.3 291.8,145.5" fill="#3c2a9a"/>
<polygon points="60.8,174.0 66.6,174.0 63.7,168.8" fill="#3c2a9a"/>
<polygon points="318.5,152.2 324.3,152.2 321.4,157.4" fill="#3c2a9a"/>
<polygon points="204.1,187.1 209.9,187.1 207.0,192.3" fill="#3c2a9a"/>
<polygon points="326.9,179.1 332.7,179.1 329.8,173.9" fill="#3c2a9a"/>
<polygon points="257.8,159.9 263.6,159.9 260.7,154.7" fill="#3c2a9a"/>
<polygon points="248.4,182.5 254.2,182.5 251.3,177.3" fill="#3c2a9a"/>
<polygon points="299.6,145.0 305.4,145.0 302.5,150.2" fill="#3c2a9a"/>
<polygon points="170.3,186.2 176.1,186.2 173.2,191.4" fill="#3c2a9a"/>
<polygon points="329.3,179.3 335.1,179.3 332.2,184.5" fill="#3c2a9a"/>
<polygon points="340.0,191.0 345.8,191.0 342.9,185.8" fill="#3c2a9a"/>
<polygon points="212.2,187.2 218.0,187.2 215.1,182.0" fill="#3c2a9a"/>
<polygon points="211.4,192.1 217.2,192.1 214.3,186.9" fill="#3c2a9a"/>
<polygon points="290.5,142.1 296.3,142.1 293.4,147.3" fill="#3c2a9a"/>
<polygon points="74.6,186.3 80.4,186.3 77.5,181.1" fill="#3c2a9a"/>
<polygon points="293.7,148.0 299.5,148.0 296.6,142.8" fill="#3c2a9a"/>
<polygon points="323.2,182.3 329.0,182.3 326.1,187.5" fill="#3c2a9a"/>
<polygon points="294.8,189.8 300.6,189.8 297.7,184.6" fill="#3c2a9a"/>
<polygon points="253.8,166.6 259.6,166.6 256.7,161.4" fill="#3c2a9a"/>
<polygon points="296.2,173.4 302.0,173.4 299.1,178.6" fill="#3c2a9a"/>
<polygon points="336.7,189.8 342.5,189.8 339.6,184.6" fill="#3c2a9a"/>
<polygon points="316.0,159.3 321.8,159.3 318.9,164.5" fill="#3c2a9a"/>
<polygon points="154.7,181.4 160.5,181.4 157.6,176.2" fill="#3c2a9a"/>
<polygon points="242.7,182.8 248.5,182.8 245.6,177.6" fill="#3c2a9a"/>
<polygon points="280.9,182.8 286.7,182.8 283.8,188.0" fill="#3c2a9a"/>
<polygon points="333.9,185.4 339.7,185.4 336.8,190.6" fill="#3c2a9a"/>
<polygon points="179.7,189.9 185.5,189.9 182.6,184.7" fill="#3c2a9a"/>
<polygon points="106.9,166.1 112.7,166.1 109.8,160.9" fill="#3c2a9a"/>
<polygon points="301.7,160.2 307.5,160.2 304.6,155.0" fill="#3c2a9a"/>
<polygon points="37.2,188.1 43.0,188.1 40.1,182.9" fill="#3c2a9a"/>
<polygon points="41.8,169.4 47.6,169.4 44.7,164.2" fill="#3c2a9a"/>
<polygon points="309.8,144.8 315.6,144.8 312.7,150.0" fill="#3c2a9a"/>
<polygon points="296.6,144.7 302.4,144.7 299.5,149.9" fill="#3c2a9a"/>
<polygon points="291.8,136.3 297.6,136.3 294.7,141.5" fill="#3c2a9a"/>
<polygon points="320.2,163.8 326.0,163.8 323.1,158.6" fill="#3c2a9a"/>
<polygon points="279.9,135.2 285.7,135.2 282.8,140.4" fill="#3c2a9a"/>
<polygon points="160.7,168.6 166.5,168.6 163.6,173.8" fill="#3c2a9a"/>
<polygon points="264.3,188.6 270.1,188.6 267.2,183.4" fill="#3c2a9a"/>
<polygon points="304.6,165.8 310.4,165.8 307.5,171.0" fill="#3c2a9a"/>
<polygon points="247.5,137.4 253.3,137.4 250.4,142.6" fill="#3c2a9a"/>
<polygon points="56.0,172.0 61.8,172.0 58.9,177.2" fill="#3c2a9a"/>
<polygon points="312.8,190.9 318.6,190.9 315.7,185.7" fill="#3c2a9a"/>
<polygon points="226.9,152.7 232.7,152.7 229.8,157.9" fill="#3c2a9a"/>
<polygon points="274.7,134.7 280.5,134.7 277.6,139.9" fill="#3c2a9a"/>
<polygon points="302.1,177.2 307.9,177.2 305.0,182.4" fill="#3c2a9a"/>
<polygon points="121.5,175.1 127.3,175.1 124.4,180.3" fill="#3c2a9a"/>
<polygon points="235.2,175.6 241.0,175.6 238.1,180.8" fill="#3c2a9a"/>
<polygon points="323.8,157.2 329.6,157.2 326.7,152.0" fill="#3c2a9a"/>
<polygon points="76.5,183.6 82.3,183.6 79.4,188.8" fill="#3c2a9a"/>
<polygon points="188.9,157.4 194.7,157.4 191.8,162.6" fill="#3c2a9a"/>
<polygon points="319.0,186.0 324.8,186.0 321.9,180.8" fill="#3c2a9a"/>
<polygon points="222.8,178.5 228.6,178.5 225.7,183.7" fill="#3c2a9a"/>
<polygon points="283.2,148.8 289.0,148.8 286.1,154.0" fill="#3c2a9a"/>
<polygon points="319.6,182.2 325.4,182.2 322.5,177.0" fill="#3c2a9a"/>
<polygon points="85.9,178.7 91.7,178.7 88.8,173.5" fill="#3c2a9a"/>
<polygon points="265.3,190.6 271.1,190.6 268.2,185.4" fill="#3c2a9a"/>
<polygon points="140.9,192.4 146.7,192.4 143.8,187.2" fill="#3c2a9a"/>
<polygon points="312.8,183.4 318.6,183.4 315.7,188.6" fill="#3c2a9a"/>
<polygon points="193.1,183.2 198.9,183.2 196.0,188.4" fill="#3c2a9a"/>
<polygon points="229.3,134.4 235.1,134.4 232.2,139.6" fill="#3c2a9a"/>
<polygon points="36.0,191.4 41.8,191.4 38.9,186.2" fill="#3c2a9a"/>
<polygon points="228.0,179.6 233.8,179.6 230.9,184.8" fill="#3c2a9a"/>
<polygon points="195.7,174.0 201.5,174.0 198.6,179.2" fill="#3c2a9a"/>
<polygon points="182.1,187.2 187.9,187.2 185.0,192.4" fill="#3c2a9a"/>
<polygon points="271.2,134.8 277.0,134.8 274.1,140.0" fill="#3c2a9a"/>
<polygon points="294.8,141.0 300.6,141.0 297.7,135.8" fill="#3c2a9a"/>
<polygon points="39.4,174.1 45.2,174.1 42.3,168.9" fill="#3c2a9a"/>
<polygon points="68.6,185.4 74.4,185.4 71.5,190.6" fill="#3c2a9a"/>
<polygon points="66.0,176.8 71.8,176.8 68.9,171.6" fill="#3c2a9a"/>
<polygon points="243.7,174.5 249.5,174.5 246.6,179.7" fill="#3c2a9a"/>
<polygon points="259.5,149.5 265.3,149.5 262.4,154.7" fill="#3c2a9a"/>
<polygon points="315.3,144.0 321.1,144.0 318.2,149.2" fill="#3c2a9a"/>
<polygon points="114.4,190.6 120.2,190.6 117.3,185.4" fill="#3c2a9a"/>
<polygon points="361.4,179.3 367.2,179.3 364.3,184.5" fill="#3c2a9a"/>
<polygon points="93.6,163.2 99.4,163.2 96.5,168.4" fill="#3c2a9a"/>
<polygon points="84.9,182.3 90.7,182.3 87.8,187.5" fill="#3c2a9a"/>
<polygon points="316.3,154.5 322.1,154.5 319.2,159.7" fill="#3c2a9a"/>
<polygon points="305.1,162.8 310.9,162.8 308.0,168.0" fill="#3c2a9a"/>
<polygon points="255.8,143.6 261.6,143.6 258.7,138.4" fill="#3c2a9a"/>
<polygon points="80.6,179.9 86.4,179.9 83.5,174.7" fill="#3c2a9a"/>
<polygon points="301.0,183.6 306.8,183.6 303.9,178.4" fill="#3c2a9a"/>
<polygon points="370.1,184.4 375.9,184.4 373.0,189.6" fill="#3c2a9a"/>
<polygon points="285.3,146.7 291.1,146.7 288.2,151.9" fill="#3c2a9a"/>
<polygon points="184.5,192.3 190.3,192.3 187.4,187.1" fill="#3c2a9a"/>
<polygon points="97.4,180.9 103.2,180.9 100.3,186.1" fill="#3c2a9a"/>
<polygon points="322.6,152.7 328.4,152.7 325.5,157.9" fill="#3c2a9a"/>
<polygon points="296.9,140.2 302.7,140.2 299.8,145.4" fill="#3c2a9a"/>
<polygon points="103.9,176.9 109.7,176.9 106.8,182.1" fill="#3c2a9a"/>
<polygon points="312.9,151.0 318.7,151.0 315.8,145.8" fill="#3c2a9a"/>
<polygon points="290.9,146.8 296.7,146.8 293.8,152.0" fill="#3c2a9a"/>
<polygon points="236.0,187.0 241.8,187.0 238.9,181.8" fill="#3c2a9a"/>
<polygon points="292.0,134.0 297.8,134.0 294.9,139.2" fill="#3c2a9a"/>
<polygon points="122.0,184.3 127.8,184.3 124.9,189.5" fill="#3c2a9a"/>
<polygon points="228.8,185.2 234.6,185.2 231.7,180.0" fill="#3c2a9a"/>
<polygon points="247.7,177.5 253.5,177.5 250.6,182.7" fill="#3c2a9a"/>
<polygon points="102.1,164.6 107.9,164.6 105.0,159.4" fill="#3c2a9a"/>
<polygon points="247.4,138.9 253.2,138.9 250.3,133.7" fill="#3c2a9a"/>
<polygon points="239.9,170.8 245.7,170.8 242.8,165.6" fill="#3c2a9a"/>
<polygon points="269.6,185.9 275.4,185.9 272.5,191.1" fill="#3c2a9a"/>
<polygon points="239.7,158.4 245.5,158.4 242.6,163.6" fill="#3c2a9a"/>
<polygon points="73.8,177.0 79.6,177.0 76.7,182.2" fill="#3c2a9a"/>
<polygon points="318.0,188.2 323.8,188.2 320.9,183.0" fill="#3c2a9a"/>
<polygon points="254.1,187.0 259.9,187.0 257.0,192.2" fill="#3c2a9a"/>
<polygon points="240.5,149.8 246.3,149.8 243.4,144.6" fill="#3c2a9a"/>
<polygon points="220.9,180.8 226.7,180.8 223.8,186.0" fill="#3c2a9a"/>
<polygon points="35.7,181.7 41.5,181.7 38.6,186.9" fill="#3c2a9a"/>
<polygon points="319.9,181.1 325.7,181.1 322.8,175.9" fill="#3c2a9a"/>
<polygon points="253.5,187.1 259.3,187.1 256.4,192.3" fill="#3c2a9a"/>
<polygon points="236.6,144.8 242.4,144.8 239.5,150.0" fill="#3c2a9a"/>
<polygon points="232.0,135.3 237.8,135.3 234.9,140.5" fill="#3c2a9a"/>
<polygon points="256.3,166.1 262.1,166.1 259.2,171.3" fill="#3c2a9a"/>
<polygon points="352.3,183.2 358.1,183.2 355.2,188.4" fill="#3c2a9a"/>
<polygon points="195.0,177.7 200.8,177.7 197.9,182.9" fill="#3c2a9a"/>
<polygon points="293.0,142.5 298.8,142.5 295.9,147.7" fill="#3c2a9a"/>
<polygon points="289.0,133.8 294.8,133.8 291.9,139.0" fill="#3c2a9a"/>
<polygon points="296.3,134.2 302.1,134.2 299.2,139.4" fill="#3c2a9a"/>
<polygon points="61.7,190.9 67.5,190.9 64.6,185.7" fill="#3c2a9a"/>
<polygon points="241.6,177.2 247.4,177.2 244.5,182.4" fill="#3c2a9a"/>
<polygon points="64.0,186.4 69.8,186.4 66.9,191.6" fill="#3c2a9a"/>
<polygon points="198.9,180.5 204.7,180.5 201.8,185.7" fill="#3c2a9a"/>
<polygon points="251.8,171.1 257.6,171.1 254.7,165.9" fill="#3c2a9a"/>
<polygon points="46.2,174.1 52.0,174.1 49.1,168.9" fill="#3c2a9a"/>
<polygon points="271.2,171.4 277.0,171.4 274.1,166.2" fill="#3c2a9a"/>
<polygon points="366.3,187.5 372.1,187.5 369.2,182.3" fill="#3c2a9a"/>
<polygon points="198.8,161.9 204.6,161.9 201.7,167.1" fill="#3c2a9a"/>
<polygon points="289.7,190.0 295.5,190.0 292.6,184.8" fill="#3c2a9a"/>
<polygon points="367.7,181.6 373.5,181.6 370.6,186.8" fill="#3c2a9a"/>
<polygon points="58.5,170.0 64.3,170.0 61.4,164.8" fill="#3c2a9a"/>
<polygon points="339.9,191.0 345.7,191.0 342.8,185.8" fill="#3c2a9a"/>
<polygon points="282.8,154.0 288.6,154.0 285.7,148.8" fill="#3c2a9a"/>
<polygon points="325.7,168.9 331.5,168.9 328.6,174.1" fill="#3c2a9a"/>
<polygon points="228.8,173.4 234.6,173.4 231.7,178.6" fill="#3c2a9a"/>
<polygon points="269.9,145.6 275.7,145.6 272.8,140.4" fill="#3c2a9a"/>
<polygon points="40.2,177.2 46.0,177.2 43.1,172.0" fill="#3c2a9a"/>
<polygon points="186.5,186.4 192.3,186.4 189.4,191.6" fill="#3c2a9a"/>
<polygon points="317.1,142.6 322.9,142.6 320.0,147.8" fill="#3c2a9a"/>
<polygon points="226.3,142.1 232.1,142.1 229.2,136.9" fill="#3c2a9a"/>
<polygon points="332.9,190.6 338.7,190.6 335.8,185.4" fill="#3c2a9a"/>
<polygon points="299.8,181.6 305.6,181.6 302.7,176.4" fill="#3c2a9a"/>
<polygon points="323.9,165.7 329.7,165.7 326.8,170.9" fill="#3c2a9a"/>
<polygon points="319.3,173.8 325.1,173.8 322.2,179.0" fill="#3c2a9a"/>
<polygon points="278.1,188.1 283.9,188.1 281.0,182.9" fill="#3c2a9a"/>
<polygon points="317.5,155.6 323.3,155.6 320.4,160.8" fill="#3c2a9a"/>
<polygon points="289.0,173.6 294.8,173.6 291.9,178.8" fill="#3c2a9a"/>
<polygon points="221.0,141.2 226.8,141.2 223.9,146.4" fill="#3c2a9a"/>
<polygon points="252.0,158.4 257.8,158.4 254.9,163.6" fill="#3c2a9a"/>
<polygon points="306.4,180.1 312.2,180.1 309.3,185.3" fill="#3c2a9a"/>
<polygon points="260.3,169.9 266.1,169.9 263.2,164.7" fill="#3c2a9a"/>
<polygon points="74.8,180.4 80.6,180.4 77.7,175.2" fill="#3c2a9a"/>
<polygon points="219.0,163.1 224.8,163.1 221.9,157.9" fill="#3c2a9a"/>
<polygon points="217.3,160.3 223.1,160.3 220.2,165.5" fill="#3c2a9a"/>
<polygon points="231.8,149.9 237.6,149.9 234.7,144.7" fill="#3c2a9a"/>
<polygon points="274.7,141.3 280.5,141.3 277.6,146.5" fill="#3c2a9a"/>
<polygon points="328.6,188.9 334.4,188.9 331.5,183.7" fill="#3c2a9a"/>
<polygon points="234.4,132.6 240.2,132.6 237.3,137.8" fill="#3c2a9a"/>
<polygon points="252.9,140.4 258.7,140.4 255.8,145.6" fill="#3c2a9a"/>
<polygon points="145.2,192.3 151.0,192.3 148.1,187.1" fill="#3c2a9a"/>
<polygon points="265.2,143.2 271.0,143.2 268.1,138.0" fill="#3c2a9a"/>
<polygon points="324.3,180.1 330.1,180.1 327.2,185.3" fill="#3c2a9a"/>
<polygon points="91.0,176.2 96.8,176.2 93.9,171.0" fill="#3c2a9a"/>
<polygon points="202.2,190.9 208.0,190.9 205.1,185.7" fill="#3c2a9a"/>
<polygon points="151.7,177.3 157.5,177.3 154.6,172.1" fill="#3c2a9a"/>
<polygon points="180.8,185.9 186.6,185.9 183.7,180.7" fill="#3c2a9a"/>
<polygon points="290.0,146.8 295.8,146.8 292.9,152.0" fill="#3c2a9a"/>
<polygon points="142.7,181.9 148.5,181.9 145.6,176.7" fill="#3c2a9a"/>
<polygon points="296.8,147.3 302.6,147.3 299.7,142.1" fill="#3c2a9a"/>
<polygon points="322.2,144.7 328.0,144.7 325.1,149.9" fill="#3c2a9a"/>
<polygon points="317.2,138.4 323.0,138.4 320.1,143.6" fill="#3c2a9a"/>
<polygon points="76.7,186.8 82.5,186.8 79.6,192.0" fill="#3c2a9a"/>
<polygon points="284.5,152.6 290.3,152.6 287.4,147.4" fill="#3c2a9a"/>
<polygon points="318.9,186.6 324.7,186.6 321.8,181.4" fill="#3c2a9a"/>
<polygon points="251.1,187.2 256.9,187.2 254.0,182.0" fill="#3c2a9a"/>
<polygon points="235.2,142.4 241.0,142.4 238.1,147.6" fill="#3c2a9a"/>
<polygon points="265.1,147.6 270.9,147.6 268.0,152.8" fill="#3c2a9a"/>
<polygon points="311.3,184.0 317.1,184.0 314.2,189.2" fill="#3c2a9a"/>
<polygon points="297.7,159.5 303.5,159.5 300.6,154.3" fill="#3c2a9a"/>
<polygon points="307.0,153.0 312.8,153.0 309.9,147.8" fill="#3c2a9a"/>
<polygon points="247.6,181.3 253.4,181.3 250.5,186.5" fill="#3c2a9a"/>
<polygon points="205.4,190.4 211.2,190.4 208.3,185.2" fill="#3c2a9a"/>
<polygon points="287.3,145.5 293.1,145.5 290.2,140.3" fill="#3c2a9a"/>
<polygon points="288.2,186.9 294.0,186.9 291.1,192.1" fill="#3c2a9a"/>
<polygon points="228.9,180.0 234.7,180.0 231.8,174.8" fill="#3c2a9a"/>
<polygon points="291.7,152.3 297.5,152.3 294.6,147.1" fill="#3c2a9a"/>
<polygon points="65.4,168.1 71.2,168.1 68.3,173.3" fill="#3c2a9a"/>
<polygon points="368.9,191.5 374.7,191.5 371.8,186.3" fill="#3c2a9a"/>
<polygon points="245.4,164.3 251.2,164.3 248.3,169.5" fill="#3c2a9a"/>
<polygon points="196.5,170.9 202.3,170.9 199.4,176.1" fill="#3c2a9a"/>
<polygon points="256.4,184.1 262.2,184.1 259.3,178.9" fill="#3c2a9a"/>
<polygon points="327.1,179.6 332.9,179.6 330.0,174.4" fill="#3c2a9a"/>
<polygon points="310.7,167.4 316.5,167.4 313.6,162.2" fill="#3c2a9a"/>
<polygon points="293.4,172.9 299.2,172.9 296.3,178.1" fill="#3c2a9a"/>
<polygon points="300.6,150.2 306.4,150.2 303.5,145.0" fill="#3c2a9a"/>
<polygon points="271.3,145.4 277.1,145.4 274.2,150.6" fill="#3c2a9a"/>
<polygon points="327.4,172.8 333.2,172.8 330.3,167.6" fill="#3c2a9a"/>
<polygon points="233.1,179.7 238.9,179.7 236.0,174.5" fill="#3c2a9a"/>
<polygon points="271.5,183.4 277.3,183.4 274.4,188.6" fill="#3c2a9a"/>
<polygon points="265.9,159.6 271.7,159.6 268.8,154.4" fill="#3c2a9a"/>
<polygon points="299.2,164.2 305.0,164.2 302.1,159.0" fill="#3c2a9a"/>
<polygon points="231.7,145.3 237.5,145.3 234.6,150.5" fill="#3c2a9a"/>
<polygon points="303.5,143.2 309.3,143.2 306.4,138.0" fill="#3c2a9a"/>
<polygon points="244.8,185.0 250.6,185.0 247.7,190.2" fill="#3c2a9a"/>
<polygon points="317.9,176.4 323.7,176.4 320.8,181.6" fill="#3c2a9a"/>
<polygon points="234.1,147.8 239.9,147.8 237.0,142.6" fill="#3c2a9a"/>
<polygon points="244.5,175.6 250.3,175.6 247.4,170.4" fill="#3c2a9a"/>
<polygon points="369.7,186.7 375.5,186.7 372.6,181.5" fill="#3c2a9a"/>
<polygon points="243.2,162.2 249.0,162.2 246.1,167.4" fill="#3c2a9a"/>
<polygon points="239.7,179.1 245.5,179.1 242.6,173.9" fill="#3c2a9a"/>
<polygon points="249.6,179.6 255.4,179.6 252.5,174.4" fill="#3c2a9a"/>
<polygon points="267.7,136.3 273.5,136.3 270.6,141.5" fill="#3c2a9a"/>
<polygon points="43.2,184.0 49.0,184.0 46.1,178.8" fill="#3c2a9a"/>
<polygon points="234.4,143.7 240.2,143.7 237.3,138.5" fill="#3c2a9a"/>
<polygon points="274.6,179.5 280.4,179.5 277.5,184.7" fill="#3c2a9a"/>
<polygon points="110.4,182.1 116.2,182.1 113.3,176.9" fill="#3c2a9a"/>
<polygon points="292.7,159.9 298.5,159.9 295.6,165.1" fill="#3c2a9a"/>
<polygon points="333.9,187.6 339.7,187.6 336.8,182.4" fill="#3c2a9a"/>
<polygon points="51.8,171.1 57.6,171.1 54.7,176.3" fill="#3c2a9a"/>
<polygon points="356.2,185.7 362.0,185.7 359.1,190.9" fill="#3c2a9a"/>
<polygon points="261.9,157.2 267.7,157.2 264.8,152.0" fill="#3c2a9a"/>
<polygon points="162.5,169.0 168.3,169.0 165.4,174.2" fill="#3c2a9a"/>
<polygon points="282.7,171.1 288.5,171.1 285.6,165.9" fill="#3c2a9a"/>
<polygon points="347.0,190.4 352.8,190.4 349.9,185.2" fill="#3c2a9a"/>
<polygon points="103.0,173.1 108.8,173.1 105.9,178.3" fill="#3c2a9a"/>
<polygon points="150.5,180.0 156.3,180.0 153.4,174.8" fill="#3c2a9a"/>
<polygon points="218.0,191.1 223.8,191.1 220.9,185.9" fill="#3c2a9a"/>
<polygon points="70.2,163.6 76.0,163.6 73.1,168.8" fill="#3c2a9a"/>
<polygon points="122.7,182.6 128.5,182.6 125.6,177.4" fill="#3c2a9a"/>
<polygon points="289.5,184.8 295.3,184.8 292.4,179.6" fill="#3c2a9a"/>
<polygon points="188.6,166.4 194.4,166.4 191.5,171.6" fill="#3c2a9a"/>
<polygon points="377.4,183.4 383.2,183.4 380.3,188.6" fill="#3c2a9a"/>
<polygon points="251.8,190.2 257.6,190.2 254.7,185.0" fill="#3c2a9a"/>
<polygon points="260.7,152.5 266.5,152.5 263.6,157.7" fill="#3c2a9a"/>
<polygon points="206.9,188.2 212.7,188.2 209.8,183.0" fill="#3c2a9a"/>
<polygon points="148.7,190.1 154.5,190.1 151.6,184.9" fill="#3c2a9a"/>
<polygon points="253.7,174.2 259.5,174.2 256.6,179.4" fill="#3c2a9a"/>
<polygon points="78.6,188.3 84.4,188.3 81.5,183.1" fill="#3c2a9a"/>
<polygon points="327.2,169.9 333.0,169.9 330.1,164.7" fill="#3c2a9a"/>
<polygon points="93.5,186.0 99.3,186.0 96.4,191.2" fill="#3c2a9a"/>
<polygon points="262.8,164.2 268.6,164.2 265.7,159.0" fill="#3c2a9a"/>
<polygon points="277.3,148.6 283.1,148.6 280.2,153.8" fill="#3c2a9a"/>
<polygon points="206.3,156.3 212.1,156.3 209.2,161.5" fill="#3c2a9a"/>
<polygon points="266.8,169.6 272.6,169.6 269.7,174.8" fill="#3c2a9a"/>
<polygon points="115.8,168.1 121.6,168.1 118.7,173.3" fill="#3c2a9a"/>
<polygon points="253.9,185.6 259.7,185.6 256.8,180.4" fill="#3c2a9a"/>
<polygon points="225.2,139.8 231.0,139.8 228.1,145.0" fill="#3c2a9a"/>
<polygon points="166.6,182.7 172.4,182.7 169.5,177.5" fill="#3c2a9a"/>
<polygon points="280.7,164.0 286.5,164.0 283.6,158.8" fill="#3c2a9a"/>
<polygon points="276.3,181.4 282.1,181.4 279.2,176.2" fill="#3c2a9a"/>
<polygon points="291.0,164.0 296.8,164.0 293.9,169.2" fill="#3c2a9a"/>
<polygon points="246.0,169.5 251.8,169.5 248.9,174.7" fill="#3c2a9a"/>
<polygon points="350.6,192.0 356.4,192.0 353.5,186.8" fill="#3c2a9a"/>
<polygon points="283.6,140.8 289.4,140.8 286.5,135.6" fill="#3c2a9a"/>
<polygon points="256.5,186.9 262.3,186.9 259.4,192.1" fill="#3c2a9a"/>
<polygon points="226.7,177.9 232.5,177.9 229.6,172.7" fill="#3c2a9a"/>
<polygon points="224.2,185.7 230.0,185.7 227.1,190.9" fill="#3c2a9a"/>
<polygon points="351.3,185.6 357.1,185.6 354.2,180.4" fill="#3c2a9a"/>
<polygon points="44.7,183.2 50.5,183.2 47.6,188.4" fill="#3c2a9a"/>
<polygon points="327.6,171.8 333.4,171.8 330.5,166.6" fill="#3c2a9a"/>
<polygon points="166.2,185.1 172.0,185.1 169.1,190.3" fill="#3c2a9a"/>
<polygon points="314.9,178.5 320.7,178.5 317.8,183.7" fill="#3c2a9a"/>
<polygon points="281.3,184.5 287.1,184.5 284.2,179.3" fill="#3c2a9a"/>
<polygon points="44.9,174.2 50.7,174.2 47.8,179.4" fill="#3c2a9a"/>
<polygon points="282.9,146.8 288.7,146.8 285.8,152.0" fill="#3c2a9a"/>
<polygon points="319.4,139.3 325.2,139.3 322.3,144.5" fill="#3c2a9a"/>
<polygon points="233.6,147.4 239.4,147.4 236.5,142.2" fill="#3c2a9a"/>
<polygon points="264.0,182.8 269.8,182.8 266.9,188.0" fill="#3c2a9a"/>
<polygon points="328.8,180.8 334.6,180.8 331.7,186.0" fill="#3c2a9a"/>
<polygon points="50.5,169.5 56.3,169.5 53.4,164.3" fill="#3c2a9a"/>
<polygon points="315.7,189.2 321.5,189.2 318.6,184.0" fill="#3c2a9a"/>
<polygon points="53.8,179.3 59.6,179.3 56.7,184.5" fill="#3c2a9a"/>
<polygon points="182.2,192.4 188.0,192.4 185.1,187.2" fill="#3c2a9a"/>
<polygon points="220.0,186.8 225.8,186.8 222.9,192.0" fill="#3c2a9a"/>
<polygon points="228.0,153.6 233.8,153.6 230.9,148.4" fill="#3c2a9a"/>
<polygon points="326.7,177.1 332.5,177.1 329.6,182.3" fill="#3c2a9a"/>
<polygon points="54.3,169.8 60.1,169.8 57.2,175.0" fill="#3c2a9a"/>
<polygon points="217.6,156.3 223.4,156.3 220.5,151.1" fill="#3c2a9a"/>
<polygon points="60.3,168.1 66.1,168.1 63.2,173.3" fill="#3c2a9a"/>
<polygon points="228.1,142.2 233.9,142.2 231.0,147.4" fill="#3c2a9a"/>
<polygon points="199.5,191.3 205.3,191.3 202.4,186.1" fill="#3c2a9a"/>
<polygon points="253.1,172.2 258.9,172.2 256.0,167.0" fill="#3c2a9a"/>
<polygon points="297.7,139.5 303.5,139.5 300.6,144.7" fill="#3c2a9a"/>
<polygon points="62.7,165.4 68.5,165.4 65.6,160.2" fill="#3c2a9a"/>
<polygon points="326.0,161.9 331.8,161.9 328.9,167.1" fill="#3c2a9a"/>
<polygon points="241.9,143.6 247.7,143.6 244.8,138.4" fill="#3c2a9a"/>
<polygon points="247.7,167.6 253.5,167.6 250.6,172.8" fill="#3c2a9a"/>
<polygon points="334.1,185.2 339.9,185.2 337.0,180.0" fill="#3c2a9a"/>
<polygon points="247.9,136.3 253.7,136.3 250.8,141.5" fill="#3c2a9a"/>
<polygon points="230.5,150.6 236.3,150.6 233.4,145.4" fill="#3c2a9a"/>
<polygon points="124.6,185.9 130.4,185.9 127.5,191.1" fill="#3c2a9a"/>
<polygon points="286.6,142.8 292.4,142.8 289.5,137.6" fill="#3c2a9a"/>
<polygon points="93.1,186.5 98.9,186.5 96.0,191.7" fill="#3c2a9a"/>
<polygon points="169.0,185.5 174.8,185.5 171.9,180.3" fill="#3c2a9a"/>
<polygon points="163.3,185.2 169.1,185.2 166.2,180.0" fill="#3c2a9a"/>
<polygon points="333.0,178.1 338.8,178.1 335.9,183.3" fill="#3c2a9a"/>
<polygon points="297.1,147.2 302.9,147.2 300.0,142.0" fill="#3c2a9a"/>
<polygon points="219.4,155.9 225.2,155.9 222.3,150.7" fill="#3c2a9a"/>
<polygon points="269.7,136.7 275.5,136.7 272.6,141.9" fill="#3c2a9a"/>
<polygon points="374.0,188.7 379.8,188.7 376.9,183.5" fill="#3c2a9a"/>
<polygon points="65.4,175.7 71.2,175.7 68.3,170.5" fill="#3c2a9a"/>
<polygon points="254.6,170.3 260.4,170.3 257.5,175.5" fill="#3c2a9a"/>
<polygon points="47.5,184.1 53.3,184.1 50.4,189.3" fill="#3c2a9a"/>
<polygon points="298.3,139.6 304.1,139.6 301.2,144.8" fill="#3c2a9a"/>
<polygon points="335.9,186.0 341.7,186.0 338.8,191.2" fill="#3c2a9a"/>
<polygon points="232.5,136.5 238.3,136.5 235.4,141.7" fill="#3c2a9a"/>
<polygon points="260.2,190.1 266.0,190.1 263.1,184.9" fill="#3c2a9a"/>
<polygon points="320.8,174.7 326.6,174.7 323.7,179.9" fill="#3c2a9a"/>
<polygon points="116.9,171.9 122.7,171.9 119.8,166.7" fill="#3c2a9a"/>
<polygon points="234.7,152.9 240.5,152.9 237.6,147.7" fill="#3c2a9a"/>
<polygon points="168.2,192.3 174.0,192.3 171.1,187.1" fill="#3c2a9a"/>
<polygon points="238.3,192.4 244.1,192.4 241.2,187.2" fill="#3c2a9a"/>
<polygon points="279.2,176.0 285.0,176.0 282.1,181.2" fill="#3c2a9a"/>
<polygon points="219.5,158.6 225.3,158.6 222.4,153.4" fill="#3c2a9a"/>
<polygon points="287.9,183.7 293.7,183.7 290.8,178.5" fill="#3c2a9a"/>
<polygon points="300.5,191.6 306.3,191.6 303.4,186.4" fill="#3c2a9a"/>
<polygon points="37.6,186.2 43.4,186.2 40.5,181.0" fill="#3c2a9a"/>
<polygon points="244.0,143.0 249.8,143.0 246.9,148.2" fill="#3c2a9a"/>
<polygon points="68.4,177.7 74.2,177.7 71.3,172.5" fill="#3c2a9a"/>
<polygon points="121.5,192.2 127.3,192.2 124.4,187.0" fill="#3c2a9a"/>
<polygon points="326.7,157.9 332.5,157.9 329.6,163.1" fill="#3c2a9a"/>
<polygon points="283.0,184.1 288.8,184.1 285.9,189.3" fill="#3c2a9a"/>
<polygon points="129.3,189.3 135.1,189.3 132.2,184.1" fill="#3c2a9a"/>
<polygon points="267.0,177.7 272.8,177.7 269.9,172.5" fill="#3c2a9a"/>
<polygon points="192.5,168.1 198.3,168.1 195.4,173.3" fill="#3c2a9a"/>
<polygon points="318.1,176.2 323.9,176.2 321.0,181.4" fill="#3c2a9a"/>
<polygon points="281.5,138.7 287.3,138.7 284.4,143.9" fill="#3c2a9a"/>
<polygon points="170.5,164.6 176.3,164.6 173.4,169.8" fill="#3c2a9a"/>
<polygon points="323.2,173.9 329.0,173.9 326.1,179.1" fill="#3c2a9a"/>
<polygon points="39.1,183.0 44.9,183.0 42.0,177.8" fill="#3c2a9a"/>
<polygon points="376.5,187.3 382.3,187.3 379.4,182.1" fill="#3c2a9a"/>
<polygon points="296.3,142.9 302.1,142.9 299.2,137.7" fill="#3c2a9a"/>
<polygon points="307.5,167.8 313.3,167.8 310.4,162.6" fill="#3c2a9a"/>
<polygon points="205.2,188.2 211.0,188.2 208.1,183.0" fill="#3c2a9a"/>
<polygon points="228.5,143.1 234.3,143.1 231.4,137.9" fill="#3c2a9a"/>
<polygon points="216.4,190.7 222.2,190.7 219.3,185.5" fill="#3c2a9a"/>
<polygon points="325.6,185.4 331.4,185.4 328.5,180.2" fill="#3c2a9a"/>
<polygon points="36.7,181.1 42.5,181.1 39.6,186.3" fill="#3c2a9a"/>
<polygon points="109.8,167.8 115.6,167.8 112.7,162.6" fill="#3c2a9a"/>
<polygon points="111.4,165.6 117.2,165.6 114.3,170.8" fill="#3c2a9a"/>
<polygon points="209.3,188.2 215.1,188.2 212.2,183.0" fill="#3c2a9a"/>
<polygon points="327.3,169.0 333.1,169.0 330.2,174.2" fill="#3c2a9a"/>
<polygon points="150.0,183.1 155.8,183.1 152.9,188.3" fill="#3c2a9a"/>
<polygon points="191.2,183.7 197.0,183.7 194.1,188.9" fill="#3c2a9a"/>
<polygon points="153.2,176.3 159.0,176.3 156.1,181.5" fill="#3c2a9a"/>
<polygon points="266.6,145.6 272.4,145.6 269.5,150.8" fill="#3c2a9a"/>
<polygon points="261.0,159.2 266.8,159.2 263.9,154.0" fill="#3c2a9a"/>
<polygon points="191.7,182.8 197.5,182.8 194.6,188.0" fill="#3c2a9a"/>
<polygon points="296.0,180.3 301.8,180.3 298.9,175.1" fill="#3c2a9a"/>
<polygon points="144.8,186.2 150.6,186.2 147.7,191.4" fill="#3c2a9a"/>
<polygon points="191.9,191.0 197.7,191.0 194.8,185.8" fill="#3c2a9a"/>
<polygon points="253.6,161.7 259.4,161.7 256.5,166.9" fill="#3c2a9a"/>
<polygon points="253.4,144.8 259.2,144.8 256.3,150.0" fill="#3c2a9a"/>
<polygon points="338.8,185.7 344.6,185.7 341.7,190.9" fill="#3c2a9a"/>
<polygon points="248.3,168.1 254.1,168.1 251.2,162.9" fill="#3c2a9a"/>
<polygon points="157.1,170.7 162.9,170.7 160.0,165.5" fill="#3c2a9a"/>
<polygon points="44.6,176.0 50.4,176.0 47.5,170.8" fill="#3c2a9a"/>
<polygon points="265.9,134.1 271.7,134.1 268.8,139.3" fill="#3c2a9a"/>
<polygon points="98.8,180.9 104.6,180.9 101.7,186.1" fill="#3c2a9a"/>
<polygon points="354.2,179.1 360.0,179.1 357.1,184.3" fill="#3c2a9a"/>
<polygon points="235.7,155.5 241.5,155.5 238.6,150.3" fill="#3c2a9a"/>
<polygon points="220.8,147.4 226.6,147.4 223.7,152.6" fill="#3c2a9a"/>
<polygon points="314.4,182.4 320.2,182.4 317.3,187.6" fill="#3c2a9a"/>
<polygon points="36.3,186.4 42.1,186.4 39.2,181.2" fill="#3c2a9a"/>
<polygon points="60.1,173.1 65.9,173.1 63.0,178.3" fill="#3c2a9a"/>
<polygon points="208.8,184.1 214.6,184.1 211.7,178.9" fill="#3c2a9a"/>
<polygon points="245.6,140.4 251.4,140.4 248.5,135.2" fill="#3c2a9a"/>
<polygon points="244.6,166.4 250.4,166.4 247.5,171.6" fill="#3c2a9a"/>
<polygon points="288.4,147.2 294.2,147.2 291.3,142.0" fill="#3c2a9a"/>
<polygon points="121.9,173.4 127.7,173.4 124.8,168.2" fill="#3c2a9a"/>
<polygon points="189.7,189.9 195.5,189.9 192.6,184.7" fill="#3c2a9a"/>
<polygon points="217.2,156.0 223.0,156.0 220.1,161.2" fill="#3c2a9a"/>
<polygon points="276.2,187.1 282.0,187.1 279.1,192.3" fill="#3c2a9a"/>
<polygon points="256.1,185.4 261.9,185.4 259.0,180.2" fill="#3c2a9a"/>
<polygon points="237.7,182.4 243.5,182.4 240.6,187.6" fill="#3c2a9a"/>
<polygon points="55.9,183.9 61.7,183.9 58.8,189.1" fill="#3c2a9a"/>
<polygon points="301.6,188.2 307.4,188.2 304.5,183.0" fill="#3c2a9a"/>
<polygon points="236.6,179.1 242.4,179.1 239.5,184.3" fill="#3c2a9a"/>
<polygon points="277.7,191.3 283.5,191.3 280.6,186.1" fill="#3c2a9a"/>
<polygon points="237.1,177.4 242.9,177.4 240.0,182.6" fill="#3c2a9a"/>
<polygon points="104.2,170.7 110.0,170.7 107.1,165.5" fill="#3c2a9a"/>
<polygon points="268.8,166.0 274.6,166.0 271.7,160.8" fill="#3c2a9a"/>
<polygon points="257.5,137.3 263.3,137.3 260.4,142.5" fill="#3c2a9a"/>
<polygon points="223.5,134.2 229.3,134.2 226.4,139.4" fill="#3c2a9a"/>
<polygon points="339.7,186.1 345.5,186.1 342.6,191.3" fill="#3c2a9a"/>
<polygon points="238.2,165.6 244.0,165.6 241.1,160.4" fill="#3c2a9a"/>
<polygon points="219.3,153.2 225.1,153.2 222.2,148.0" fill="#3c2a9a"/>
<polygon points="113.3,185.8 119.1,185.8 116.2,191.0" fill="#3c2a9a"/>
<polygon points="280.4,186.9 286.2,186.9 283.3,192.1" fill="#3c2a9a"/>
<polygon points="332.4,187.2 338.2,187.2 335.3,182.0" fill="#3c2a9a"/>
<polygon points="266.6,184.5 272.4,184.5 269.5,189.7" fill="#3c2a9a"/>
<polygon points="112.4,175.9 118.2,175.9 115.3,181.1" fill="#3c2a9a"/>
<polygon points="208.3,172.6 214.1,172.6 211.2,167.4" fill="#3c2a9a"/>
<polygon points="314.7,143.3 320.5,143.3 317.6,148.5" fill="#3c2a9a"/>
<polygon points="295.7,152.5 301.5,152.5 298.6,147.3" fill="#3c2a9a"/>
<polygon points="244.7,174.4 250.5,174.4 247.6,169.2" fill="#3c2a9a"/>
<polygon points="324.8,183.4 330.6,183.4 327.7,188.6" fill="#3c2a9a"/>
<polygon points="359.4,186.1 365.2,186.1 362.3,191.3" fill="#3c2a9a"/>
<polygon points="296.9,164.0 302.7,164.0 299.8,158.8" fill="#3c2a9a"/>
<polygon points="238.8,176.0 244.6,176.0 241.7,181.2" fill="#3c2a9a"/>
<polygon points="264.0,137.5 269.8,137.5 266.9,142.7" fill="#3c2a9a"/>
<polygon points="72.3,186.5 78.1,186.5 75.2,191.7" fill="#3c2a9a"/>
<polygon points="253.9,163.0 259.7,163.0 256.8,168.2" fill="#3c2a9a"/>
<polygon points="119.6,182.5 125.4,182.5 122.5,177.3" fill="#3c2a9a"/>
<polygon points="96.8,162.6 102.6,162.6 99.7,167.8" fill="#3c2a9a"/>
<polygon points="256.0,134.3 261.8,134.3 258.9,139.5" fill="#3c2a9a"/>
<polygon points="354.6,180.3 360.4,180.3 357.5,185.5" fill="#3c2a9a"/>
<polygon points="291.5,141.5 297.3,141.5 294.4,146.7" fill="#3c2a9a"/>
<polygon points="151.9,172.5 157.7,172.5 154.8,177.7" fill="#3c2a9a"/>
<polygon points="159.5,187.7 165.3,187.7 162.4,182.5" fill="#3c2a9a"/>
<polygon points="160.8,167.0 166.6,167.0 163.7,172.2" fill="#3c2a9a"/>
<polygon points="39.0,179.9 44.8,179.9 41.9,174.7" fill="#3c2a9a"/>
<polygon points="104.8,180.6 110.6,180.6 107.7,175.4" fill="#3c2a9a"/>
<polygon points="176.5,181.4 182.3,181.4 179.4,176.2" fill="#3c2a9a"/>
<polygon points="49.2,165.7 55.0,165.7 52.1,170.9" fill="#3c2a9a"/>
<polygon points="290.8,144.4 296.6,144.4 293.7,149.6" fill="#3c2a9a"/>
<polygon points="241.6,136.5 247.4,136.5 244.5,141.7" fill="#3c2a9a"/>
<polygon points="274.2,150.5 280.0,150.5 277.1,145.3" fill="#3c2a9a"/>
<polygon points="237.0,138.8 242.8,138.8 239.9,144.0" fill="#3c2a9a"/>
<polygon points="197.5,160.9 203.3,160.9 200.4,155.7" fill="#3c2a9a"/>
<polygon points="149.3,165.8 155.1,165.8 152.2,171.0" fill="#3c2a9a"/>
<polygon points="372.3,189.4 378.1,189.4 375.2,184.2" fill="#3c2a9a"/>
<polygon points="200.1,186.4 205.9,186.4 203.0,181.2" fill="#3c2a9a"/>
<polygon points="333.7,179.2 339.5,179.2 336.6,184.4" fill="#3c2a9a"/>
<polygon points="68.6,170.1 74.4,170.1 71.5,175.3" fill="#3c2a9a"/>
<polygon points="307.1,154.5 312.9,154.5 310.0,159.7" fill="#3c2a9a"/>
<polygon points="55.8,165.8 61.6,165.8 58.7,171.0" fill="#3c2a9a"/>
<polygon points="52.1,180.5 57.9,180.5 55.0,185.7" fill="#3c2a9a"/>
<polygon points="240.4,177.0 246.2,177.0 243.3,171.8" fill="#3c2a9a"/>
<polygon points="79.6,177.8 85.4,177.8 82.5,172.6" fill="#3c2a9a"/>
<polygon points="342.3,187.5 348.1,187.5 345.2,182.3" fill="#3c2a9a"/>
<polygon points="323.9,160.9 329.7,160.9 326.8,166.1" fill="#3c2a9a"/>
<polygon points="251.6,162.9 257.4,162.9 254.5,157.7" fill="#3c2a9a"/>
<polygon points="376.2,186.5 382.0,186.5 379.1,181.3" fill="#3c2a9a"/>
<polygon points="104.4,191.3 110.2,191.3 107.3,186.1" fill="#3c2a9a"/>
<polygon points="312.2,187.7 318.0,187.7 315.1,182.5" fill="#3c2a9a"/>
<polygon points="266.8,148.7 272.6,148.7 269.7,153.9" fill="#3c2a9a"/>
<polygon points="242.5,143.8 248.3,143.8 245.4,149.0" fill="#3c2a9a"/>
<polygon points="158.7,168.5 164.5,168.5 161.6,163.3" fill="#3c2a9a"/>
<polygon points="293.9,185.7 299.7,185.7 296.8,190.9" fill="#3c2a9a"/>
<polygon points="359.5,190.0 365.3,190.0 362.4,184.8" fill="#3c2a9a"/>
<polygon points="152.4,192.4 158.2,192.4 155.3,187.2" fill="#3c2a9a"/>
<polygon points="230.9,147.5 236.7,147.5 233.8,142.3" fill="#3c2a9a"/>
<polygon points="294.6,153.8 300.4,153.8 297.5,159.0" fill="#3c2a9a"/>
<polygon points="305.9,181.5 311.7,181.5 308.8,176.3" fill="#3c2a9a"/>
<polygon points="113.1,181.6 118.9,181.6 116.0,186.8" fill="#3c2a9a"/>
<polygon points="115.2,181.6 121.0,181.6 118.1,186.8" fill="#3c2a9a"/>
<polygon points="294.8,143.7 300.6,143.7 297.7,148.9" fill="#3c2a9a"/>
<polygon points="272.3,155.5 278.1,155.5 275.2,150.3" fill="#3c2a9a"/>
<polygon points="327.0,167.0 332.8,167.0 329.9,161.8" fill="#3c2a9a"/>
<polygon points="285.1,164.2 290.9,164.2 288.0,169.4" fill="#3c2a9a"/>
<polygon points="219.9,178.6 225.7,178.6 222.8,173.4" fill="#3c2a9a"/>
<polygon points="218.5,146.0 224.3,146.0 221.4,151.2" fill="#3c2a9a"/>
<polygon points="119.8,173.0 125.6,173.0 122.7,167.8" fill="#3c2a9a"/>
<polygon points="273.0,181.3 278.8,181.3 275.9,176.1" fill="#3c2a9a"/>
<polygon points="324.7,184.5 330.5,184.5 327.6,179.3" fill="#3c2a9a"/>
<polygon points="310.3,173.9 316.1,173.9 313.2,179.1" fill="#3c2a9a"/>
<polygon points="241.9,138.6 247.7,138.6 244.8,143.8" fill="#3c2a9a"/>
<polygon points="45.8,182.8 51.6,182.8 48.7,177.6" fill="#3c2a9a"/>
<polygon points="132.8,186.3 138.6,186.3 135.7,181.1" fill="#3c2a9a"/>
<polygon points="166.0,190.2 171.8,190.2 168.9,185.0" fill="#3c2a9a"/>
<polygon points="250.4,147.5 256.2,147.5 253.3,152.7" fill="#3c2a9a"/>
<polygon points="55.0,178.7 60.8,178.7 57.9,173.5" fill="#3c2a9a"/>
<polygon points="366.5,191.0 372.3,191.0 369.4,185.8" fill="#3c2a9a"/>
<polygon points="273.4,163.0 279.2,163.0 276.3,157.8" fill="#3c2a9a"/>
<polygon points="312.3,152.3 318.1,152.3 315.2,157.5" fill="#3c2a9a"/>
<polygon points="204.8,185.0 210.6,185.0 207.7,179.8" fill="#3c2a9a"/>
<polygon points="218.5,153.0 224.3,153.0 221.4,158.2" fill="#3c2a9a"/>
<polygon points="163.0,186.6 168.8,186.6 165.9,181.4" fill="#3c2a9a"/>
<polygon points="375.8,183.0 381.6,183.0 378.7,188.2" fill="#3c2a9a"/>
<polygon points="198.5,189.5 204.3,189.5 201.4,184.3" fill="#3c2a9a"/>
<polygon points="230.0,150.0 235.8,150.0 232.9,144.8" fill="#3c2a9a"/>
<polygon points="287.6,147.2 293.4,147.2 290.5,152.4" fill="#3c2a9a"/>
<polygon points="270.0,184.2 275.8,184.2 272.9,179.0" fill="#3c2a9a"/>
<polygon points="103.2,163.1 109.0,163.1 106.1,168.3" fill="#3c2a9a"/>
<polygon points="313.8,147.9 319.6,147.9 316.7,142.7" fill="#3c2a9a"/>
<polygon points="218.5,178.5 224.3,178.5 221.4,183.7" fill="#3c2a9a"/>
<polygon points="248.6,174.6 254.4,174.6 251.5,179.8" fill="#3c2a9a"/>
<polygon points="298.7,146.3 304.5,146.3 301.6,151.5" fill="#3c2a9a"/>
<polygon points="238.2,136.9 244.0,136.9 241.1,142.1" fill="#3c2a9a"/>
<polygon points="205.2,182.5 211.0,182.5 208.1,177.3" fill="#3c2a9a"/>
<polygon points="171.7,188.1 177.5,188.1 174.6,182.9" fill="#3c2a9a"/>
<polygon points="178.2,185.5 184.0,185.5 181.1,190.7" fill="#3c2a9a"/>
<polygon points="326.1,182.2 331.9,182.2 329.0,177.0" fill="#3c2a9a"/>
<polygon points="284.3,142.7 290.1,142.7 287.2,147.9" fill="#3c2a9a"/>
<polygon points="169.9,188.8 175.7,188.8 172.8,183.6" fill="#3c2a9a"/>
<polygon points="217.0,185.6 222.8,185.6 219.9,190.8" fill="#3c2a9a"/>
<polygon points="61.3,158.4 67.1,158.4 64.2,163.6" fill="#3c2a9a"/>
<polygon points="197.4,168.2 203.2,168.2 200.3,163.0" fill="#3c2a9a"/>
<polygon points="196.0,183.5 201.8,183.5 198.9,178.3" fill="#3c2a9a"/>
<polygon points="322.5,174.6 328.3,174.6 325.4,179.8" fill="#3c2a9a"/>
<polygon points="182.0,189.1 187.8,189.1 184.9,183.9" fill="#3c2a9a"/>
<polygon points="287.9,182.1 293.7,182.1 290.8,176.9" fill="#3c2a9a"/>
<polygon points="258.2,163.7 264.0,163.7 261.1,168.9" fill="#3c2a9a"/>
<polygon points="314.8,183.2 320.6,183.2 317.7,188.4" fill="#3c2a9a"/>
<polygon points="147.8,174.2 153.6,174.2 150.7,169.0" fill="#3c2a9a"/>
<polygon points="301.0,142.6 306.8,142.6 303.9,147.8" fill="#3c2a9a"/>
<polygon points="294.8,161.0 300.6,161.0 297.7,166.2" fill="#3c2a9a"/>
<polygon points="149.3,182.0 155.1,182.0 152.2,187.2" fill="#3c2a9a"/>
<polygon points="72.7,181.2 78.5,181.2 75.6,186.4" fill="#3c2a9a"/>
<polygon points="83.7,164.5 89.5,164.5 86.6,169.7" fill="#3c2a9a"/>
<polygon points="311.3,185.5 317.1,185.5 314.2,190.7" fill="#3c2a9a"/>
<polygon points="99.6,167.8 105.4,167.8 102.5,162.6" fill="#3c2a9a"/>
<polygon points="227.4,182.0 233.2,182.0 230.3,187.2" fill="#3c2a9a"/>
<polygon points="49.3,176.7 55.1,176.7 52.2,171.5" fill="#3c2a9a"/>
<polygon points="289.9,185.8 295.7,185.8 292.8,180.6" fill="#3c2a9a"/>
<polygon points="303.7,158.9 309.5,158.9 306.6,164.1" fill="#3c2a9a"/>
<polygon points="335.5,177.8 341.3,177.8 338.4,183.0" fill="#3c2a9a"/>
<polygon points="355.3,186.3 361.1,186.3 358.2,181.1" fill="#3c2a9a"/>
<polygon points="35.7,180.5 41.5,180.5 38.6,175.3" fill="#3c2a9a"/>
<polygon points="295.0,186.9 300.8,186.9 297.9,192.1" fill="#3c2a9a"/>
<polygon points="336.3,182.7 342.1,182.7 339.2,187.9" fill="#3c2a9a"/>
<polygon points="281.1,168.6 286.9,168.6 284.0,163.4" fill="#3c2a9a"/>
<polygon points="109.3,168.1 115.1,168.1 112.2,173.3" fill="#3c2a9a"/>
<polygon points="216.5,149.2 222.3,149.2 219.4,154.4" fill="#3c2a9a"/>
<polygon points="252.5,153.4 258.3,153.4 255.4,158.6" fill="#3c2a9a"/>
<polygon points="199.2,186.0 205.0,186.0 202.1,180.8" fill="#3c2a9a"/>
<polygon points="289.2,174.9 295.0,174.9 292.1,169.7" fill="#3c2a9a"/>
<polygon points="123.2,170.3 129.0,170.3 126.1,175.5" fill="#3c2a9a"/>
<polygon points="239.3,166.5 245.1,166.5 242.2,171.7" fill="#3c2a9a"/>
<polygon points="365.6,191.4 371.4,191.4 368.5,186.2" fill="#3c2a9a"/>
<polygon points="160.4,180.2 166.2,180.2 163.3,175.0" fill="#3c2a9a"/>
<polygon points="353.5,185.1 359.3,185.1 356.4,190.3" fill="#3c2a9a"/>
<polygon points="235.9,185.2 241.7,185.2 238.8,180.0" fill="#3c2a9a"/>
<polygon points="215.7,187.3 221.5,187.3 218.6,182.1" fill="#3c2a9a"/>
<polygon points="77.6,172.8 83.4,172.8 80.5,178.0" fill="#3c2a9a"/>
<polygon points="108.0,166.2 113.8,166.2 110.9,161.0" fill="#3c2a9a"/>
<polygon points="277.9,146.9 283.7,146.9 280.8,141.7" fill="#3c2a9a"/>
<polygon points="203.6,182.9 209.4,182.9 206.5,188.1" fill="#3c2a9a"/>
<polygon points="36.8,191.5 42.6,191.5 39.7,186.3" fill="#3c2a9a"/>
<polygon points="282.7,159.3 288.5,159.3 285.6,154.1" fill="#3c2a9a"/>
<polygon points="223.8,142.2 229.6,142.2 226.7,137.0" fill="#3c2a9a"/>
<polygon points="219.3,191.3 225.1,191.3 222.2,186.1" fill="#3c2a9a"/>
<polygon points="47.8,184.9 53.6,184.9 50.7,190.1" fill="#3c2a9a"/>
<polygon points="139.1,174.9 144.9,174.9 142.0,180.1" fill="#3c2a9a"/>
<polygon points="241.3,191.7 247.1,191.7 244.2,186.5" fill="#3c2a9a"/>
<polygon points="228.1,152.8 233.9,152.8 231.0,158.0" fill="#3c2a9a"/>
<polygon points="364.8,184.7 370.6,184.7 367.7,179.5" fill="#3c2a9a"/>
<polygon points="179.4,191.6 185.2,191.6 182.3,186.4" fill="#3c2a9a"/>
<polygon points="92.8,184.1 98.6,184.1 95.7,189.3" fill="#3c2a9a"/>
<polygon points="244.5,187.4 250.3,187.4 247.4,182.2" fill="#3c2a9a"/>
<polygon points="169.1,182.9 174.9,182.9 172.0,188.1" fill="#3c2a9a"/>
<polygon points="307.0,185.6 312.8,185.6 309.9,190.8" fill="#3c2a9a"/>
<polygon points="354.1,182.5 359.9,182.5 357.0,187.7" fill="#3c2a9a"/>
<polygon points="86.6,173.0 92.4,173.0 89.5,178.2" fill="#3c2a9a"/>
<polygon points="101.7,170.5 107.5,170.5 104.6,165.3" fill="#3c2a9a"/>
<polygon points="110.2,190.3 116.0,190.3 113.1,185.1" fill="#3c2a9a"/>
<polygon points="93.2,171.0 99.0,171.0 96.1,165.8" fill="#3c2a9a"/>
<polygon points="120.5,184.8 126.3,184.8 123.4,179.6" fill="#3c2a9a"/>
<polygon points="306.7,148.1 312.5,148.1 309.6,153.3" fill="#3c2a9a"/>
<polygon points="304.7,154.2 310.5,154.2 307.6,159.4" fill="#3c2a9a"/>
<polygon points="300.9,156.2 306.7,156.2 303.8,161.4" fill="#3c2a9a"/>
<polygon points="96.2,182.1 102.0,182.1 99.1,187.3" fill="#3c2a9a"/>
<polygon points="311.4,146.9 317.2,146.9 314.3,152.1" fill="#3c2a9a"/>
<polygon points="145.3,179.1 151.1,179.1 148.2,173.9" fill="#3c2a9a"/>
<polygon points="74.3,185.7 80.1,185.7 77.2,190.9" fill="#3c2a9a"/>
<polygon points="237.3,142.6 243.1,142.6 240.2,147.8" fill="#3c2a9a"/>
<polygon points="286.8,179.3 292.6,179.3 289.7,174.1" fill="#3c2a9a"/>
<polygon points="188.0,192.0 193.8,192.0 190.9,186.8" fill="#3c2a9a"/>
<polygon points="230.7,186.7 236.5,186.7 233.6,191.9" fill="#3c2a9a"/>
<polygon points="211.6,187.0 217.4,187.0 214.5,181.8" fill="#3c2a9a"/>
<polygon points="268.4,174.8 274.2,174.8 271.3,169.6" fill="#3c2a9a"/>
<polygon points="92.7,177.9 98.5,177.9 95.6,183.1" fill="#3c2a9a"/>
<polygon points="270.4,159.5 276.2,159.5 273.3,164.7" fill="#3c2a9a"/>
<polygon points="266.1,164.2 271.9,164.2 269.0,169.4" fill="#3c2a9a"/>
<polygon points="253.4,186.3 259.2,186.3 256.3,181.1" fill="#3c2a9a"/>
<polygon points="36.6,180.3 42.4,180.3 39.5,185.5" fill="#3c2a9a"/>
<polygon points="215.9,182.6 221.7,182.6 218.8,177.4" fill="#3c2a9a"/>
<polygon points="231.7,149.8 237.5,149.8 234.6,155.0" fill="#3c2a9a"/>
<polygon points="175.2,186.9 181.0,186.9 178.1,192.1" fill="#3c2a9a"/>
<polygon points="366.5,182.6 372.3,182.6 369.4,187.8" fill="#3c2a9a"/>
<polygon points="276.4,137.7 282.2,137.7 279.3,142.9" fill="#3c2a9a"/>
<polygon points="299.5,148.0 305.3,148.0 302.4,153.2" fill="#3c2a9a"/>
<polygon points="56.5,178.3 62.3,178.3 59.4,183.5" fill="#3c2a9a"/>
<polygon points="174.2,186.3 180.0,186.3 177.1,191.5" fill="#3c2a9a"/>
<polygon points="122.2,170.1 128.0,170.1 125.1,175.3" fill="#3c2a9a"/>
<polygon points="237.4,139.3 243.2,139.3 240.3,144.5" fill="#3c2a9a"/>
<polygon points="285.9,151.1 291.7,151.1 288.8,145.9" fill="#3c2a9a"/>
<polygon points="274.1,179.3 279.9,179.3 277.0,184.5" fill="#3c2a9a"/>
<polygon points="319.3,172.7 325.1,172.7 322.2,177.9" fill="#3c2a9a"/>
<polygon points="332.7,186.5 338.5,186.5 335.6,181.3" fill="#3c2a9a"/>
<polygon points="226.0,167.1 231.8,167.1 228.9,161.9" fill="#3c2a9a"/>
<polygon points="309.5,165.2 315.3,165.2 312.4,160.0" fill="#3c2a9a"/>
<polygon points="74.5,167.9 80.3,167.9 77.4,173.1" fill="#3c2a9a"/>
<polygon points="151.9,185.8 157.7,185.8 154.8,180.6" fill="#3c2a9a"/>
<polygon points="291.6,181.4 297.4,181.4 294.5,176.2" fill="#3c2a9a"/>
<polygon points="196.5,189.7 202.3,189.7 199.4,184.5" fill="#3c2a9a"/>
<polygon points="307.4,150.6 313.2,150.6 310.3,145.4" fill="#3c2a9a"/>
<polygon points="218.5,161.4 224.3,161.4 221.4,156.2" fill="#3c2a9a"/>
<polygon points="82.5,172.5 88.3,172.5 85.4,167.3" fill="#3c2a9a"/>
<polygon points="204.6,182.7 210.4,182.7 207.5,187.9" fill="#3c2a9a"/>
<polygon points="355.3,180.8 361.1,180.8 358.2,186.0" fill="#3c2a9a"/>
<polygon points="235.7,178.5 241.5,178.5 238.6,173.3" fill="#3c2a9a"/>
<polygon points="374.8,182.1 380.6,182.1 377.7,187.3" fill="#3c2a9a"/>
<polygon points="48.0,191.6 53.8,191.6 50.9,186.4" fill="#3c2a9a"/>
<polygon points="62.4,177.8 68.2,177.8 65.3,172.6" fill="#3c2a9a"/>
<polygon points="325.2,184.3 331.0,184.3 328.1,179.1" fill="#3c2a9a"/>
<polygon points="63.0,171.5 68.8,171.5 65.9,176.7" fill="#3c2a9a"/>
<polygon points="111.6,188.0 117.4,188.0 114.5,182.8" fill="#3c2a9a"/>
<polygon points="66.7,182.4 72.5,182.4 69.6,177.2" fill="#3c2a9a"/>
<polygon points="265.7,68.2 271.5,68.2 268.6,73.4" fill="#3c2a9a"/>
<polygon points="265.7,71.1 271.5,71.1 268.6,76.3" fill="#3c2a9a"/>
<polygon points="274.3,74.1 280.1,74.1 277.2,79.3" fill="#3c2a9a"/>
<polygon points="280.5,73.2 286.3,73.2 283.4,78.4" fill="#3c2a9a"/>
<polygon points="292.5,78.2 298.3,78.2 295.4,83.4" fill="#3c2a9a"/>
<polygon points="297.1,79.5 302.9,79.5 300.0,84.7" fill="#3c2a9a"/>
<polygon points="314.6,87.0 320.4,87.0 317.5,92.2" fill="#3c2a9a"/>
<polygon points="268.7,92.9 274.5,92.9 271.6,98.1" fill="#3c2a9a"/>
<polygon points="291.7,94.7 297.5,94.7 294.6,99.9" fill="#3c2a9a"/>
<polygon points="318.5,99.6 324.3,99.6 321.4,104.8" fill="#3c2a9a"/>
<polygon points="317.1,105.1 322.9,105.1 320.0,110.3" fill="#3c2a9a"/>
<polygon points="262.1,102.8 267.9,102.8 265.0,108.0" fill="#3c2a9a"/>
<polygon points="234.8,40.1 240.6,40.1 237.7,34.9" fill="#3c2a9a"/>
<polygon points="249.3,48.9 255.1,48.9 252.2,54.1" fill="#3c2a9a"/>
<polygon points="261.9,102.7 267.7,102.7 264.8,107.9" fill="#3c2a9a"/>
<polygon points="229.1,114.9 234.9,114.9 232.0,120.1" fill="#3c2a9a"/>
<polygon points="234.4,116.7 240.2,116.7 237.3,121.9" fill="#3c2a9a"/>
<polygon points="245.0,114.9 250.8,114.9 247.9,120.1" fill="#3c2a9a"/>
<polygon points="250.1,115.8 255.9,115.8 253.0,121.0" fill="#3c2a9a"/>
<polygon points="254.6,114.0 260.4,114.0 257.5,119.2" fill="#3c2a9a"/>
<polygon points="224.8,123.6 230.6,123.6 227.7,118.4" fill="#3c2a9a"/>
<polygon points="183.6,119.8 189.4,119.8 186.5,125.0" fill="#3c2a9a"/>
<polygon points="162.6,135.0 168.4,135.0 165.5,129.8" fill="#3c2a9a"/>
<polygon points="197.6,140.4 203.4,140.4 200.5,145.6" fill="#3c2a9a"/>
<polygon points="336.4,168.9 342.2,168.9 339.3,163.7" fill="#3c2a9a"/>
<polygon points="233.1,126.6 238.9,126.6 236.0,121.4" fill="#3c2a9a"/>
<polygon points="239.1,123.4 244.9,123.4 242.0,128.6" fill="#3c2a9a"/>
<polygon points="228.1,130.6 233.9,130.6 231.0,125.4" fill="#3c2a9a"/>
<polygon points="237.1,115.6 242.9,115.6 240.0,110.4" fill="#3c2a9a"/>
<polygon points="207.3,35.8 213.1,35.8 210.2,41.0" fill="#18b4e0"/>
<polygon points="207.3,46.3 213.1,46.3 210.2,41.1" fill="#18b4e0"/>
<polygon points="207.3,48.9 213.1,48.9 210.2,54.1" fill="#18b4e0"/>
<polygon points="229.1,45.4 234.9,45.4 232.0,40.2" fill="#18b4e0"/>
<polygon points="232.1,46.6 237.9,46.6 235.0,41.4" fill="#18b4e0"/>
<polygon points="227.4,56.8 233.2,56.8 230.3,51.6" fill="#18b4e0"/>
<polygon points="235.3,75.2 241.1,75.2 238.2,80.4" fill="#18b4e0"/>
<polygon points="228.3,90.1 234.1,90.1 231.2,84.9" fill="#18b4e0"/>
<polygon points="230.1,93.6 235.9,93.6 233.0,88.4" fill="#18b4e0"/>
<polygon points="236.1,85.7 241.9,85.7 239.0,90.9" fill="#18b4e0"/>
<polygon points="244.6,84.9 250.4,84.9 247.5,90.1" fill="#18b4e0"/>
<polygon points="244.6,87.4 250.4,87.4 247.5,92.6" fill="#18b4e0"/>
<polygon points="244.6,90.1 250.4,90.1 247.5,95.3" fill="#18b4e0"/>
<polygon points="212.5,85.7 218.3,85.7 215.4,90.9" fill="#18b4e0"/>
<polygon points="227.4,104.9 233.2,104.9 230.3,99.7" fill="#18b4e0"/>
<polygon points="234.4,108.4 240.2,108.4 237.3,103.2" fill="#18b4e0"/>
<polygon points="245.0,98.0 250.8,98.0 247.9,103.2" fill="#18b4e0"/>
<polygon points="162.6,79.6 168.4,79.6 165.5,74.4" fill="#18b4e0"/>
<polygon points="188.0,109.3 193.8,109.3 190.9,104.1" fill="#18b4e0"/>
<polygon points="166.1,118.4 171.9,118.4 169.0,113.2" fill="#18b4e0"/>
<polygon points="180.1,115.2 185.9,115.2 183.0,110.0" fill="#18b4e0"/>
<polygon points="226.6,100.9 232.4,100.9 229.5,106.1" fill="#18b4e0"/>
<polygon points="165.2,132.4 171.0,132.4 168.1,127.2" fill="#18b4e0"/>
<polygon points="165.2,142.9 171.0,142.9 168.1,137.7" fill="#18b4e0"/>
<polygon points="174.9,141.2 180.7,141.2 177.8,146.4" fill="#18b4e0"/>
<polygon points="181.9,144.7 187.7,144.7 184.8,149.9" fill="#18b4e0"/>
<polygon points="161.7,147.4 167.5,147.4 164.6,152.6" fill="#18b4e0"/>
<polygon points="207.3,144.7 213.1,144.7 210.2,149.9" fill="#18b4e0"/>
<polygon points="211.7,144.7 217.5,144.7 214.6,149.9" fill="#18b4e0"/>
<polygon points="244.4,150.8 250.2,150.8 247.3,156.0" fill="#18b4e0"/>
<polygon points="289.9,128.7 295.7,128.7 292.8,133.9" fill="#18b4e0"/>
<polygon points="169.1,153.4 174.9,153.4 172.0,158.6" fill="#18b4e0"/>
<polygon points="185.1,162.6 190.9,162.6 188.0,157.4" fill="#18b4e0"/>
<polygon points="173.1,162.4 178.9,162.4 176.0,167.6" fill="#18b4e0"/>
<polygon points="163.1,162.6 168.9,162.6 166.0,157.4" fill="#18b4e0"/>
<polygon points="193.1,160.4 198.9,160.4 196.0,165.6" fill="#18b4e0"/>
<polygon points="197.1,160.6 202.9,160.6 200.0,155.4" fill="#18b4e0"/>
<polygon points="165.1,167.4 170.9,167.4 168.0,172.6" fill="#18b4e0"/>
<polygon points="169.1,175.4 174.9,175.4 172.0,180.6" fill="#18b4e0"/>
<polygon points="167.0,49.6 172.8,49.6 169.9,44.4" fill="#1af060"/>
<polygon points="164.7,51.5 170.5,51.5 167.6,46.3" fill="#1af060"/>
<polygon points="165.6,47.9 171.4,47.9 168.5,53.1" fill="#1af060"/>
<polygon points="167.4,55.2 173.2,55.2 170.3,50.0" fill="#1af060"/>
<polygon points="164.6,58.1 170.4,58.1 167.5,52.9" fill="#1af060"/>
<polygon points="164.7,59.3 170.5,59.3 167.6,54.1" fill="#1af060"/>
<polygon points="166.5,61.4 172.3,61.4 169.4,56.2" fill="#1af060"/>
<polygon points="164.4,64.3 170.2,64.3 167.3,59.1" fill="#1af060"/>
<polygon points="167.4,66.5 173.2,66.5 170.3,61.3" fill="#1af060"/>
<polygon points="167.9,67.7 173.7,67.7 170.8,62.5" fill="#1af060"/>
<polygon points="164.1,71.6 169.9,71.6 167.0,66.4" fill="#1af060"/>
<polygon points="164.9,72.9 170.7,72.9 167.8,67.7" fill="#1af060"/>
<polygon points="166.2,75.6 172.0,75.6 169.1,70.4" fill="#1af060"/>
<polygon points="166.4,71.4 172.2,71.4 169.3,76.6" fill="#1af060"/>
<polygon points="165.1,87.4 170.9,87.4 168.0,82.2" fill="#1af060"/>
<polygon points="167.1,90.6 172.9,90.6 170.0,85.4" fill="#1af060"/>
<polygon points="164.4,94.4 170.2,94.4 167.3,99.6" fill="#1af060"/>
<polygon points="168.7,103.2 174.5,103.2 171.6,98.0" fill="#1af060"/>
<polygon points="166.1,105.2 171.9,105.2 169.0,100.0" fill="#1af060"/>
<polygon points="165.1,96.6 170.9,96.6 168.0,91.4" fill="#1af060"/>
<polygon points="167.1,49.5 172.9,49.5 170.0,44.3" fill="#1af060"/>
<polygon points="169.2,49.5 175.0,49.5 172.1,44.3" fill="#1af060"/>
<polygon points="172.1,51.7 177.9,51.7 175.0,46.5" fill="#1af060"/>
<polygon points="175.2,51.7 181.0,51.7 178.1,46.5" fill="#1af060"/>
<polygon points="177.1,49.7 182.9,49.7 180.0,44.5" fill="#1af060"/>
<polygon points="180.0,49.5 185.8,49.5 182.9,44.3" fill="#1af060"/>
<polygon points="182.7,49.9 188.5,49.9 185.6,44.7" fill="#1af060"/>
<polygon points="185.4,50.3 191.2,50.3 188.3,45.1" fill="#1af060"/>
<polygon points="188.2,49.6 194.0,49.6 191.1,44.4" fill="#1af060"/>
<polygon points="191.3,49.6 197.1,49.6 194.2,44.4" fill="#1af060"/>
<polygon points="183.3,64.3 189.1,64.3 186.2,69.5" fill="#1af060"/>
<polygon points="185.9,66.0 191.7,66.0 188.8,71.2" fill="#1af060"/>
<polygon points="188.8,69.6 194.6,69.6 191.7,64.4" fill="#1af060"/>
<polygon points="190.8,64.9 196.6,64.9 193.7,70.1" fill="#1af060"/>
<polygon points="193.3,65.3 199.1,65.3 196.2,70.5" fill="#1af060"/>
<polygon points="195.7,71.1 201.5,71.1 198.6,65.9" fill="#1af060"/>
<polygon points="193.6,49.8 199.4,49.8 196.5,55.0" fill="#1af060"/>
<polygon points="219.6,50.7 225.4,50.7 222.5,55.9" fill="#1af060"/>
<polygon points="168.7,55.0 174.5,55.0 171.6,49.8" fill="#ffc020"/>
<polygon points="166.1,68.1 171.9,68.1 169.0,62.9" fill="#ffc020"/>
<polygon points="166.1,104.1 171.9,104.1 169.0,109.3" fill="#ffc020"/>
<polygon points="211.7,97.1 217.5,97.1 214.6,102.3" fill="#ffc020"/>
<polygon points="210.8,102.7 216.6,102.7 213.7,107.9" fill="#ffc020"/>
<polygon points="192.9,126.3 198.7,126.3 195.8,131.5" fill="#ffc020"/>
<polygon points="168.7,136.8 174.5,136.8 171.6,131.6" fill="#ffc020"/>
<polygon points="166.1,148.1 171.9,148.1 169.0,142.9" fill="#ffc020"/>
<polygon points="167.0,106.2 172.8,106.2 169.9,111.4" fill="#ffc020"/>
<polygon points="243.6,59.6 249.4,59.6 246.5,64.8" fill="#18b4e0"/>
<polygon points="246.0,55.0 251.8,55.0 248.9,60.2" fill="#18b4e0"/>
<polygon points="251.2,58.1 257.0,58.1 254.1,63.3" fill="#18b4e0"/>
<polygon points="235.0,61.2 240.8,61.2 237.9,66.4" fill="#18b4e0"/>
<polygon points="240.4,63.9 246.2,63.9 243.3,69.1" fill="#18b4e0"/>
<polygon points="228.8,60.7 234.6,60.7 231.7,65.9" fill="#18b4e0"/>
<polygon points="247.3,68.4 253.1,68.4 250.2,63.2" fill="#18b4e0"/>
<polygon points="232.8,61.1 238.6,61.1 235.7,55.9" fill="#18b4e0"/>
<polygon points="235.6,63.0 241.4,63.0 238.5,68.2" fill="#18b4e0"/>
<polygon points="237.7,66.5 243.5,66.5 240.6,61.3" fill="#18b4e0"/>
<polygon points="246.9,63.2 252.7,63.2 249.8,58.0" fill="#18b4e0"/>
<polygon points="232.8,63.6 238.6,63.6 235.7,68.8" fill="#18b4e0"/>
<polygon points="245.5,61.0 251.3,61.0 248.4,66.2" fill="#18b4e0"/>
<polygon points="244.3,54.3 250.1,54.3 247.2,59.5" fill="#18b4e0"/>
<polygon points="238.6,65.6 244.4,65.6 241.5,60.4" fill="#18b4e0"/>
<polygon points="248.3,56.9 254.1,56.9 251.2,62.1" fill="#18b4e0"/>
<polygon points="226.3,62.7 232.1,62.7 229.2,67.9" fill="#18b4e0"/>
<polygon points="252.2,63.9 258.0,63.9 255.1,58.7" fill="#18b4e0"/>
<polygon points="233.9,60.1 239.7,60.1 236.8,65.3" fill="#18b4e0"/>
<polygon points="242.3,54.8 248.1,54.8 245.2,60.0" fill="#18b4e0"/>
<polygon points="228.5,66.9 234.3,66.9 231.4,61.7" fill="#18b4e0"/>
<polygon points="236.1,59.9 241.9,59.9 239.0,65.1" fill="#18b4e0"/>
<polygon points="228.4,63.6 234.2,63.6 231.3,68.8" fill="#18b4e0"/>
<polygon points="230.6,62.4 236.4,62.4 233.5,57.2" fill="#18b4e0"/>
<polygon points="240.5,59.7 246.3,59.7 243.4,64.9" fill="#18b4e0"/>
<polygon points="225.3,59.8 231.1,59.8 228.2,65.0" fill="#18b4e0"/>
<polygon points="230.9,60.8 236.7,60.8 233.8,66.0" fill="#18b4e0"/>
<polygon points="228.2,63.9 234.0,63.9 231.1,69.1" fill="#18b4e0"/>
<polygon points="250.2,57.0 256.0,57.0 253.1,62.2" fill="#18b4e0"/>
<polygon points="238.3,57.7 244.1,57.7 241.2,62.9" fill="#18b4e0"/>
<polygon points="230.0,64.3 235.8,64.3 232.9,59.1" fill="#18b4e0"/>
<polygon points="238.2,55.7 244.0,55.7 241.1,60.9" fill="#18b4e0"/>
<polygon points="240.0,63.4 245.8,63.4 242.9,68.6" fill="#18b4e0"/>
<polygon points="249.2,63.8 255.0,63.8 252.1,69.0" fill="#18b4e0"/>
<polygon points="244.1,61.7 249.9,61.7 247.0,56.5" fill="#18b4e0"/>
<polygon points="246.3,54.9 252.1,54.9 249.2,60.1" fill="#18b4e0"/>
<polygon points="230.6,54.7 236.4,54.7 233.5,59.9" fill="#18b4e0"/>
<polygon points="234.8,62.4 240.6,62.4 237.7,67.6" fill="#18b4e0"/>
<polygon points="227.8,62.2 233.6,62.2 230.7,67.4" fill="#18b4e0"/>
<polygon points="229.9,58.9 235.7,58.9 232.8,64.1" fill="#18b4e0"/>
<polygon points="230.6,61.8 236.4,61.8 233.5,56.6" fill="#18b4e0"/>
<polygon points="235.6,61.1 241.4,61.1 238.5,66.3" fill="#18b4e0"/>
<polygon points="230.9,67.6 236.7,67.6 233.8,62.4" fill="#18b4e0"/>
<polygon points="227.2,56.8 233.0,56.8 230.1,62.0" fill="#18b4e0"/>
<polygon points="231.4,60.3 237.2,60.3 234.3,65.5" fill="#18b4e0"/>
<polygon points="242.8,60.1 248.6,60.1 245.7,65.3" fill="#18b4e0"/>
<polygon points="251.8,60.4 257.6,60.4 254.7,55.2" fill="#18b4e0"/>
<polygon points="230.2,67.0 236.0,67.0 233.1,61.8" fill="#18b4e0"/>
<polygon points="199.8,69.6 205.6,69.6 202.7,64.4" fill="#1af060"/>
<polygon points="200.9,66.0 206.7,66.0 203.8,60.8" fill="#1af060"/>
<polygon points="198.7,58.6 204.5,58.6 201.6,63.8" fill="#1af060"/>
<polygon points="219.8,62.5 225.6,62.5 222.7,57.3" fill="#1af060"/>
<polygon points="223.2,57.9 229.0,57.9 226.1,63.1" fill="#1af060"/>
<polygon points="195.8,60.0 201.6,60.0 198.7,65.2" fill="#1af060"/>
<polygon points="203.0,63.8 208.8,63.8 205.9,58.6" fill="#1af060"/>
<polygon points="222.6,59.3 228.4,59.3 225.5,64.5" fill="#1af060"/>
<polygon points="206.5,62.8 212.3,62.8 209.4,57.6" fill="#1af060"/>
<polygon points="223.9,57.4 229.7,57.4 226.8,62.6" fill="#1af060"/>
<polygon points="193.7,59.5 199.5,59.5 196.6,64.7" fill="#1af060"/>
<polygon points="212.3,62.6 218.1,62.6 215.2,67.8" fill="#1af060"/>
<polygon points="207.8,57.7 213.6,57.7 210.7,62.9" fill="#1af060"/>
<polygon points="218.0,57.4 223.8,57.4 220.9,62.6" fill="#1af060"/>
<polygon points="206.2,62.7 212.0,62.7 209.1,67.9" fill="#1af060"/>
<polygon points="193.3,65.4 199.1,65.4 196.2,60.2" fill="#1af060"/>
<polygon points="203.7,65.0 209.5,65.0 206.6,59.8" fill="#1af060"/>
<polygon points="210.3,66.3 216.1,66.3 213.2,61.1" fill="#1af060"/>
<polygon points="201.4,60.0 207.2,60.0 204.3,65.2" fill="#1af060"/>
<polygon points="217.4,62.7 223.2,62.7 220.3,67.9" fill="#1af060"/>
<polygon points="198.4,66.4 204.2,66.4 201.3,61.2" fill="#1af060"/>
<polygon points="213.6,62.0 219.4,62.0 216.5,56.8" fill="#1af060"/>
<polygon points="216.2,61.8 222.0,61.8 219.1,67.0" fill="#1af060"/>
<polygon points="192.7,59.1 198.5,59.1 195.6,64.3" fill="#1af060"/>
<polygon points="197.2,69.6 203.0,69.6 200.1,64.4" fill="#1af060"/>
<polygon points="201.5,59.1 207.3,59.1 204.4,64.3" fill="#1af060"/>
<polygon points="218.3,63.1 224.1,63.1 221.2,57.9" fill="#1af060"/>
<polygon points="204.4,66.2 210.2,66.2 207.3,61.0" fill="#1af060"/>
<polygon points="193.5,64.3 199.3,64.3 196.4,59.1" fill="#1af060"/>
<polygon points="215.3,58.8 221.1,58.8 218.2,64.0" fill="#1af060"/>
<polygon points="203.0,60.2 208.8,60.2 205.9,65.4" fill="#1af060"/>
<polygon points="191.2,69.9 197.0,69.9 194.1,64.7" fill="#1af060"/>
<polygon points="205.4,57.6 211.2,57.6 208.3,62.8" fill="#1af060"/>
<polygon points="205.9,60.0 211.7,60.0 208.8,65.2" fill="#1af060"/>
<polygon points="204.5,57.6 210.3,57.6 207.4,62.8" fill="#1af060"/>
<polygon points="209.9,62.2 215.7,62.2 212.8,57.0" fill="#1af060"/>
<polygon points="219.7,58.4 225.5,58.4 222.6,63.6" fill="#1af060"/>
<polygon points="207.0,63.5 212.8,63.5 209.9,68.7" fill="#1af060"/>
<polygon points="193.3,63.8 199.1,63.8 196.2,58.6" fill="#1af060"/>
<polygon points="191.1,64.4 196.9,64.4 194.0,69.6" fill="#1af060"/>
<polygon points="217.8,58.3 223.6,58.3 220.7,63.5" fill="#1af060"/>
<polygon points="194.7,59.9 200.5,59.9 197.6,65.1" fill="#1af060"/>
<polygon points="202.7,59.6 208.5,59.6 205.6,64.8" fill="#1af060"/>
<polygon points="211.3,57.0 217.1,57.0 214.2,62.2" fill="#1af060"/>
<polygon points="200.3,62.0 206.1,62.0 203.2,67.2" fill="#1af060"/>
<polygon points="200.2,65.4 206.0,65.4 203.1,60.2" fill="#1af060"/>
<polygon points="165.1,70.2 170.9,70.2 168.0,75.4" fill="#ff3c00"/>
<polygon points="166.8,70.8 172.6,70.8 169.7,76.0" fill="#ff3c00"/>
<polygon points="168.4,71.4 174.2,71.4 171.3,76.6" fill="#ff3c00"/>
<polygon points="170.0,70.3 175.8,70.3 172.9,75.5" fill="#ff3c00"/>
<polygon points="171.7,70.9 177.5,70.9 174.6,76.1" fill="#ff3c00"/>
<polygon points="178.3,70.9 184.1,70.9 181.2,76.1" fill="#ff3c00"/>
<polygon points="179.9,70.9 185.8,70.9 182.8,76.1" fill="#ff3c00"/>
<polygon points="181.6,71.2 187.4,71.2 184.5,76.4" fill="#ff3c00"/>
<polygon points="183.2,70.6 189.1,70.6 186.2,75.8" fill="#ff3c00"/>
<polygon points="184.9,69.7 190.7,69.7 187.8,74.9" fill="#ff3c00"/>
<polygon points="186.5,70.0 192.3,70.0 189.4,75.2" fill="#ff3c00"/>
<polygon points="188.2,69.2 194.0,69.2 191.1,74.4" fill="#ff3c00"/>
<polygon points="189.8,68.9 195.7,68.9 192.8,74.1" fill="#ff3c00"/>
<polygon points="191.5,70.1 197.3,70.1 194.4,75.3" fill="#ff3c00"/>
<polygon points="193.2,69.0 199.0,69.0 196.1,74.2" fill="#ff3c00"/>
<polygon points="194.8,68.6 200.6,68.6 197.7,73.8" fill="#ff3c00"/>
<polygon points="196.4,69.3 202.2,69.3 199.3,74.5" fill="#ff3c00"/>
<polygon points="198.1,67.7 203.9,67.7 201.0,72.9" fill="#ff3c00"/>
<polygon points="199.8,67.3 205.6,67.3 202.7,72.5" fill="#ff3c00"/>
<polygon points="201.4,67.9 207.2,67.9 204.3,73.1" fill="#ff3c00"/>
<polygon points="203.0,67.3 208.8,67.3 205.9,72.5" fill="#ff3c00"/>
<polygon points="204.7,66.9 210.5,66.9 207.6,72.1" fill="#ff3c00"/>
<polygon points="206.3,66.5 212.2,66.5 209.2,71.7" fill="#ff3c00"/>
<polygon points="208.0,66.6 213.8,66.6 210.9,71.8" fill="#ff3c00"/>
<polygon points="209.7,66.3 215.5,66.3 212.6,71.5" fill="#ff3c00"/>
<polygon points="211.3,66.0 217.1,66.0 214.2,71.2" fill="#ff3c00"/>
<polygon points="212.9,65.3 218.8,65.3 215.8,70.5" fill="#ff3c00"/>
<polygon points="189.4,55.1 195.2,55.1 192.3,60.3" fill="#ff3c00"/>
<polygon points="212.5,56.8 218.3,56.8 215.4,62.0" fill="#ff3c00"/>
<polygon points="186.8,149.4 192.6,149.4 189.7,154.6" fill="#ff3c00"/>
<polygon points="216.6,75.2 222.4,75.2 219.5,80.4" fill="#1af060"/>
<polygon points="218.7,84.9 224.5,84.9 221.6,90.1" fill="#1af060"/>
<polygon points="223.9,84.9 229.7,84.9 226.8,90.1" fill="#1af060"/>
<polygon points="188.0,97.1 193.8,97.1 190.9,102.3" fill="#1af060"/>
<polygon points="198.5,102.4 204.3,102.4 201.4,107.6" fill="#1af060"/>
<polygon points="213.4,104.4 219.2,104.4 216.3,109.6" fill="#1af060"/>
<polygon points="218.7,104.4 224.5,104.4 221.6,109.6" fill="#1af060"/>
<polygon points="220.4,109.7 226.2,109.7 223.3,114.9" fill="#1af060"/>
<polygon points="222.1,114.9 227.9,114.9 225.0,120.1" fill="#1af060"/>
<polygon points="220.4,118.4 226.2,118.4 223.3,123.6" fill="#1af060"/>
<polygon points="172.2,129.8 178.0,129.8 175.1,124.6" fill="#1af060"/>
<polygon points="176.6,128.0 182.4,128.0 179.5,122.8" fill="#1af060"/>
<polygon points="181.0,128.9 186.8,128.9 183.9,123.7" fill="#1af060"/>
<polygon points="182.8,125.4 188.6,125.4 185.7,130.6" fill="#1af060"/>
<polygon points="169.6,134.1 175.4,134.1 172.5,128.9" fill="#1af060"/>
<polygon points="198.5,148.2 204.3,148.2 201.4,153.4" fill="#1af060"/>
<polygon points="216.9,147.4 222.7,147.4 219.8,152.6" fill="#1af060"/>
<polygon points="223.1,148.2 228.9,148.2 226.0,153.4" fill="#1af060"/>
<polygon points="223.1,139.4 228.9,139.4 226.0,134.2" fill="#1af060"/>
<polygon points="215.1,138.6 220.9,138.6 218.0,143.8" fill="#1af060"/>
<polygon points="218.1,157.4 223.9,157.4 221.0,162.6" fill="#1af060"/>
<polygon points="220.3,87.9 226.1,87.9 223.2,93.1" fill="#1af060"/>
<polygon points="219.3,92.8 225.1,92.8 222.2,87.6" fill="#1af060"/>
<polygon points="217.5,100.7 223.3,100.7 220.4,95.5" fill="#1af060"/>
<polygon points="221.9,89.7 227.7,89.7 224.8,94.9" fill="#1af060"/>
<polygon points="224.1,98.4 229.9,98.4 227.0,103.6" fill="#1af060"/>
<polygon points="223.8,90.6 229.6,90.6 226.7,95.8" fill="#1af060"/>
<polygon points="218.2,100.7 224.0,100.7 221.1,95.5" fill="#1af060"/>
<polygon points="219.9,96.9 225.7,96.9 222.8,91.7" fill="#1af060"/>
<polygon points="223.5,97.6 229.3,97.6 226.4,102.8" fill="#1af060"/>
<polygon points="218.5,98.7 224.3,98.7 221.4,103.9" fill="#1af060"/>
<polygon points="217.4,96.4 223.2,96.4 220.3,101.6" fill="#1af060"/>
<polygon points="223.1,95.9 228.9,95.9 226.0,101.1" fill="#1af060"/>
<polygon points="222.6,95.2 228.4,95.2 225.5,90.0" fill="#1af060"/>
<polygon points="215.2,96.8 221.0,96.8 218.1,102.0" fill="#1af060"/>
<polygon points="217.9,91.7 223.7,91.7 220.8,96.9" fill="#1af060"/>
<polygon points="217.3,98.3 223.1,98.3 220.2,103.5" fill="#1af060"/>
</g>
<polygon points="176.8,53.3 180.3,60 176.8,66.7 173.3,60" fill="#a634dc" stroke="#000" stroke-width="2.3" stroke-linejoin="miter"/>
<line x1="38" y1="23" x2="383.5" y2="23" stroke="#8a8a8a" stroke-width="1.2"/>
<line x1="383.2" y1="22.5" x2="383.2" y2="193" stroke="#555" stroke-width="1.3"/>
<line x1="38" y1="22.5" x2="38" y2="193" stroke="#000" stroke-width="1.2"/>
<line x1="37.5" y1="192.6" x2="384" y2="192.6" stroke="#222" stroke-width="1.2"/>
<line x1="35" y1="191.9" x2="38" y2="191.9" stroke="#000" stroke-width="1"/>
<text x="33.4" y="196.8" font-size="11.4" text-anchor="end">0</text>
<line x1="35" y1="166.0" x2="38" y2="166.0" stroke="#000" stroke-width="1"/>
<text x="33.4" y="171.3" font-size="11.4" text-anchor="end">10</text>
<line x1="35" y1="140.0" x2="38" y2="140.0" stroke="#000" stroke-width="1"/>
<text x="33.4" y="145.7" font-size="11.4" text-anchor="end">20</text>
<line x1="35" y1="114.1" x2="38" y2="114.1" stroke="#000" stroke-width="1"/>
<text x="33.4" y="120.2" font-size="11.4" text-anchor="end">30</text>
<line x1="35" y1="88.1" x2="38" y2="88.1" stroke="#000" stroke-width="1"/>
<text x="33.4" y="94.7" font-size="11.4" text-anchor="end">40</text>
<line x1="35" y1="62.2" x2="38" y2="62.2" stroke="#000" stroke-width="1"/>
<text x="33.4" y="69.1" font-size="11.4" text-anchor="end">50</text>
<line x1="35" y1="36.2" x2="38" y2="36.2" stroke="#000" stroke-width="1"/>
<text x="33.4" y="43.6" font-size="11.4" text-anchor="end">60</text>
<line x1="383" y1="191.0" x2="386.5" y2="191.0" stroke="#444" stroke-width="1"/>
<text x="389.3" y="195.5" font-size="11.4">0</text>
<line x1="383" y1="157.4" x2="386.5" y2="157.4" stroke="#444" stroke-width="1"/>
<text x="389.3" y="162.2" font-size="11.4">20</text>
<line x1="383" y1="123.8" x2="386.5" y2="123.8" stroke="#444" stroke-width="1"/>
<text x="389.3" y="128.8" font-size="11.4">40</text>
<line x1="383" y1="90.2" x2="386.5" y2="90.2" stroke="#444" stroke-width="1"/>
<text x="389.3" y="95.4" font-size="11.4">60</text>
<line x1="383" y1="56.6" x2="386.5" y2="56.6" stroke="#444" stroke-width="1"/>
<text x="389.3" y="62.1" font-size="11.4">80</text>
<line x1="383" y1="23.0" x2="386.5" y2="23.0" stroke="#444" stroke-width="1"/>
<text x="389.3" y="28.8" font-size="11.4">100</text>
<line x1="38.0" y1="192" x2="38.0" y2="195" stroke="#333" stroke-width="1"/>
<line x1="95.5" y1="192" x2="95.5" y2="195" stroke="#333" stroke-width="1"/>
<line x1="153.0" y1="192" x2="153.0" y2="195" stroke="#333" stroke-width="1"/>
<line x1="210.5" y1="192" x2="210.5" y2="195" stroke="#333" stroke-width="1"/>
<line x1="268.0" y1="192" x2="268.0" y2="195" stroke="#333" stroke-width="1"/>
<line x1="325.5" y1="192" x2="325.5" y2="195" stroke="#333" stroke-width="1"/>
<line x1="383.0" y1="192" x2="383.0" y2="195" stroke="#333" stroke-width="1"/>
<text transform="translate(11.3,118.6) rotate(-90)" font-size="11.8" text-anchor="middle">-log<tspan font-size="7.8" dy="2">10</tspan><tspan dy="-2">(p-value)</tspan></text>
<text transform="translate(414,110.5) rotate(90)" font-size="11.8" text-anchor="middle">Recombination Rate (cM/Mb)</text>
<rect x="40.3" y="26" width="35.2" height="88.5" fill="#f2f2f2" stroke="#666" stroke-width="0.8"/>
<text x="44.6" y="37.6" font-size="9.3">LD (r<tspan font-size="6" dy="-3">2</tspan><tspan dy="3">)</tspan></text>
<rect x="47.5" y="46.6" width="7.2" height="11.3" fill="#ff3c00"/>
<rect x="47.5" y="57.8" width="7.2" height="11.3" fill="#ffc020"/>
<rect x="47.5" y="69.0" width="7.2" height="11.3" fill="#1af060"/>
<rect x="47.5" y="80.2" width="7.2" height="11.3" fill="#18b4e0"/>
<rect x="47.5" y="91.4" width="7.2" height="11.3" fill="#3c2a9a"/>
<rect x="47.5" y="46.6" width="7.2" height="56.1" fill="none" stroke="#555" stroke-width="0.5"/>
<line x1="54.7" y1="46.6" x2="57" y2="46.6" stroke="#333" stroke-width="0.7"/>
<text x="58.2" y="48.8" font-size="9.4">1</text>
<line x1="54.7" y1="57.8" x2="57" y2="57.8" stroke="#333" stroke-width="0.7"/>
<text x="58.2" y="60.0" font-size="9.4">0.8</text>
<line x1="54.7" y1="69.0" x2="57" y2="69.0" stroke="#333" stroke-width="0.7"/>
<text x="58.2" y="71.2" font-size="9.4">0.6</text>
<line x1="54.7" y1="80.2" x2="57" y2="80.2" stroke="#333" stroke-width="0.7"/>
<text x="58.2" y="82.4" font-size="9.4">0.4</text>
<line x1="54.7" y1="91.4" x2="57" y2="91.4" stroke="#333" stroke-width="0.7"/>
<text x="58.2" y="93.6" font-size="9.4">0.2</text>
<line x1="54.7" y1="102.6" x2="57" y2="102.6" stroke="#333" stroke-width="0.7"/>
<text x="58.2" y="104.8" font-size="9.4">0</text>
<text x="135.2" y="14.5" font-size="11.7">SNP</text>
<defs><linearGradient id="ag" x1="0" x2="1" y1="0" y2="0"><stop offset="0" stop-color="#17659f"/><stop offset="1" stop-color="#15a4d2"/></linearGradient></defs>
<polygon points="173.3,7.1 188.8,7.1 188.8,4.4 198.3,9.2 188.8,14 188.8,11.3 173.3,11.3" fill="url(#ag)"/>
<text x="213.2" y="12.6" font-size="11.7">eGFR GWAS</text>
<text x="99.5" y="62.9" font-size="11.5" fill="#7030a0">rs4924532</text>
<text x="-2" y="12.6" font-size="19">a</text>
<rect x="38.3" y="204.7" width="345" height="168.5" fill="#fff" stroke="#222" stroke-width="1"/>
<text x="40.5" y="219.4" font-size="10.6" font-style="italic" text-anchor="start"><tspan font-style="normal" font-family="DejaVu Sans, sans-serif" font-size="12.2">←</tspan> CCDC32</text>
<line x1="43" y1="227.6" x2="54.2" y2="227.6" stroke="#2828a8" stroke-width="1"/><rect x="42.8" y="223.8" width="0.9" height="7.5" fill="#2828a8"/><rect x="51.5" y="223.8" width="0.9" height="7.5" fill="#2828a8"/><rect x="53.3" y="223.8" width="0.9" height="7.5" fill="#2828a8"/>
<text x="119.3" y="218" font-size="10.6" font-style="italic" text-anchor="start">SPINT1<tspan font-style="normal" font-family="DejaVu Sans, sans-serif" font-size="12.2">→</tspan></text>
<line x1="134.5" y1="227.6" x2="138" y2="227.6" stroke="#2828a8" stroke-width="1"/><rect x="134.2" y="223.8" width="1.2" height="7.5" fill="#2828a8"/><rect x="136.1" y="223.8" width="1.8" height="7.5" fill="#2828a8"/>
<text x="221.7" y="217.7" font-size="10.6" font-style="italic" text-anchor="start"><tspan font-style="normal" font-family="DejaVu Sans, sans-serif" font-size="12.2">←</tspan> EXD1</text>
<line x1="231.4" y1="227.6" x2="245.5" y2="227.6" stroke="#2828a8" stroke-width="1"/><rect x="231.3" y="223.8" width="1" height="7.5" fill="#2828a8"/><rect x="232.9" y="223.8" width="1" height="7.5" fill="#2828a8"/><rect x="234.5" y="223.8" width="1" height="7.5" fill="#2828a8"/><rect x="236.2" y="223.8" width="0.9" height="7.5" fill="#2828a8"/><rect x="239.2" y="223.8" width="0.9" height="7.5" fill="#2828a8"/><rect x="242.6" y="223.8" width="0.9" height="7.5" fill="#2828a8"/><rect x="244.8" y="223.8" width="0.9" height="7.5" fill="#2828a8"/>
<text x="286.8" y="217.7" font-size="10.6" font-style="italic" text-anchor="start">RTF1<tspan font-style="normal" font-family="DejaVu Sans, sans-serif" font-size="12.2">→</tspan></text>
<line x1="296.5" y1="227.6" x2="318.2" y2="227.6" stroke="#2828a8" stroke-width="1"/><rect x="296.4" y="223.8" width="0.9" height="7.5" fill="#2828a8"/><rect x="303.6" y="223.8" width="0.9" height="7.5" fill="#2828a8"/><rect x="307.4" y="223.8" width="0.9" height="7.5" fill="#2828a8"/>
<text x="45.3" y="248.3" font-size="10.6" font-style="italic" text-anchor="start">RPUSD2<tspan font-style="normal" font-family="DejaVu Sans, sans-serif" font-size="12.2">→</tspan></text>
<rect x="55.0" y="252.7" width="2" height="9" fill="#2828a8"/>
<text x="127.6" y="249.6" font-size="10.6" font-style="italic" text-anchor="start"><tspan font-style="normal" font-family="DejaVu Sans, sans-serif" font-size="12.2">←</tspan> RHOV</text>
<rect x="141.9" y="252.7" width="0.9" height="9" fill="#2828a8"/>
<text x="235" y="248.3" font-size="10.6" font-style="italic" text-anchor="start">CHP1<tspan font-style="normal" font-family="DejaVu Sans, sans-serif" font-size="12.2">→</tspan></text>
<line x1="245.2" y1="257.2" x2="260.5" y2="257.2" stroke="#2828a8" stroke-width="1"/><rect x="245.1" y="252.9" width="0.9" height="8.5" fill="#2828a8"/><rect x="250.1" y="252.9" width="0.9" height="8.5" fill="#2828a8"/><rect x="252.1" y="252.9" width="0.9" height="8.5" fill="#2828a8"/><rect x="253.7" y="252.9" width="1.2" height="8.5" fill="#2828a8"/><rect x="255.5" y="252.9" width="1" height="8.5" fill="#2828a8"/><rect x="257.1" y="252.9" width="1" height="8.5" fill="#2828a8"/><rect x="258.8" y="252.9" width="1" height="8.5" fill="#2828a8"/><rect x="259.9" y="252.9" width="0.8" height="8.5" fill="#2828a8"/>
<text x="302.4" y="248.3" font-size="10.6" font-style="italic" text-anchor="start">ITPKA<tspan font-style="normal" font-family="DejaVu Sans, sans-serif" font-size="12.2">→</tspan></text>
<line x1="320.4" y1="257.2" x2="323.7" y2="257.2" stroke="#2828a8" stroke-width="1"/><rect x="320.3" y="252.9" width="1" height="8.5" fill="#2828a8"/><rect x="322.8" y="252.9" width="1" height="8.5" fill="#2828a8"/>
<text x="60.5" y="278.2" font-size="10.6" font-style="italic" text-anchor="start">KNL1<tspan font-style="normal" font-family="DejaVu Sans, sans-serif" font-size="12.2">→</tspan></text>
<line x1="61.9" y1="288" x2="82.7" y2="288" stroke="#2828a8" stroke-width="1"/><rect x="61.8" y="283.8" width="0.9" height="8.5" fill="#2828a8"/><rect x="63.3" y="283.8" width="0.9" height="8.5" fill="#2828a8"/><rect x="64.8" y="283.8" width="4.4" height="8.5" fill="#2828a8"/><rect x="70.2" y="283.8" width="2.5" height="8.5" fill="#2828a8"/><rect x="74.0" y="283.8" width="1" height="8.5" fill="#2828a8"/><rect x="76.3" y="283.8" width="6.4" height="8.5" fill="#2828a8"/>
<text x="132" y="279.6" font-size="10.6" font-style="italic" text-anchor="start">VPS18<tspan font-style="normal" font-family="DejaVu Sans, sans-serif" font-size="12.2">→</tspan></text>
<line x1="148.4" y1="288" x2="151.6" y2="288" stroke="#2828a8" stroke-width="1"/><rect x="148.4" y="283.8" width="3.2" height="8.5" fill="#2828a8"/>
<text x="243.3" y="279.6" font-size="10.6" font-style="italic" text-anchor="start">AC087721.2<tspan font-style="normal" font-family="DejaVu Sans, sans-serif" font-size="12.2">→</tspan></text>
<line x1="260.5" y1="288" x2="288.8" y2="288" stroke="#2828a8" stroke-width="1"/><rect x="260.4" y="284.0" width="0.9" height="8" fill="#2828a8"/><rect x="267.1" y="284.0" width="0.9" height="8" fill="#2828a8"/><rect x="276.6" y="284.0" width="0.9" height="8" fill="#2828a8"/><rect x="279.6" y="284.0" width="0.9" height="8" fill="#2828a8"/><rect x="281.2" y="284.0" width="1.2" height="8" fill="#2828a8"/><rect x="283.0" y="284.0" width="1.2" height="8" fill="#2828a8"/><rect x="284.6" y="284.0" width="1.2" height="8" fill="#2828a8"/><rect x="286.2" y="284.0" width="1.2" height="8" fill="#2828a8"/><rect x="287.8" y="284.0" width="1" height="8" fill="#2828a8"/>
<rect x="381" y="268.5" width="4" height="24" fill="#fff"/>
<text x="348.7" y="279.6" font-size="10.6" font-style="italic" text-anchor="start">MGA<tspan font-style="normal" font-family="DejaVu Sans, sans-serif" font-size="12.2">→</tspan></text>
<line x1="357" y1="288" x2="383.4" y2="288" stroke="#2828a8" stroke-width="1"/><rect x="356.9" y="284.0" width="0.9" height="8" fill="#2828a8"/><rect x="380.4" y="284.0" width="0.9" height="8" fill="#2828a8"/>
<text x="73" y="309.4" font-size="10.6" font-style="italic" text-anchor="start">RAD51<tspan font-style="normal" font-family="DejaVu Sans, sans-serif" font-size="12.2">→</tspan></text>
<line x1="91" y1="318.4" x2="102.2" y2="318.4" stroke="#2828a8" stroke-width="1"/><rect x="90.9" y="314.4" width="1.4" height="8" fill="#2828a8"/><rect x="92.9" y="314.4" width="1.4" height="8" fill="#2828a8"/><rect x="95.0" y="314.4" width="1.2" height="8" fill="#2828a8"/><rect x="97.3" y="314.4" width="0.9" height="8" fill="#2828a8"/>
<text x="142.3" y="309.4" font-size="10.6" font-style="italic" text-anchor="start">DLL4<tspan font-style="normal" font-family="DejaVu Sans, sans-serif" font-size="12.2">→</tspan></text>
<line x1="158.4" y1="318.4" x2="161.8" y2="318.4" stroke="#2828a8" stroke-width="1"/><rect x="158.3" y="314.4" width="1" height="8" fill="#2828a8"/>
<text x="254.4" y="310.8" font-size="10.6" font-style="italic" text-anchor="start"><tspan font-style="normal" font-family="DejaVu Sans, sans-serif" font-size="12.2">←</tspan> OIP5</text>
<line x1="267.4" y1="319.2" x2="275.2" y2="319.2" stroke="#2828a8" stroke-width="1"/><rect x="267.4" y="315.7" width="1" height="7" fill="#2828a8"/><rect x="269.1" y="315.7" width="1" height="7" fill="#2828a8"/><rect x="274.4" y="315.7" width="0.9" height="7" fill="#2828a8"/>
<text x="321" y="308" font-size="10.6" font-style="italic" text-anchor="start">TYRO3 <tspan font-style="normal" font-family="DejaVu Sans, sans-serif" font-size="12.2">→</tspan></text>
<line x1="339.3" y1="318.2" x2="347" y2="318.2" stroke="#2828a8" stroke-width="1"/><rect x="339.3" y="313.9" width="5.4" height="8.5" fill="#2828a8"/><rect x="345.1" y="313.9" width="1" height="8.5" fill="#2828a8"/>
<text x="82.7" y="340" font-size="10.6" font-style="italic" text-anchor="start"><tspan font-style="normal" font-family="DejaVu Sans, sans-serif" font-size="12.2">←</tspan> RMDN3</text>
<line x1="103" y1="347.8" x2="109" y2="347.8" stroke="#2828a8" stroke-width="1"/><rect x="103.0" y="344.1" width="1.2" height="7.5" fill="#2828a8"/><rect x="104.8" y="344.1" width="1" height="7.5" fill="#2828a8"/><rect x="107.3" y="344.1" width="1.8" height="7.5" fill="#2828a8"/>
<text x="170.6" y="336.3" font-size="10.6" font-style="italic" text-anchor="start"><tspan font-style="normal" font-family="DejaVu Sans, sans-serif" font-size="12.2">←</tspan> INO80</text>
<line x1="172.9" y1="347.8" x2="213" y2="347.8" stroke="#2828a8" stroke-width="1"/><rect x="172.8" y="344.1" width="1.4" height="7.5" fill="#2828a8"/><rect x="175.0" y="344.1" width="1" height="7.5" fill="#2828a8"/><rect x="177.0" y="344.1" width="1" height="7.5" fill="#2828a8"/><rect x="178.8" y="344.1" width="0.8" height="7.5" fill="#2828a8"/><rect x="181.4" y="344.1" width="0.8" height="7.5" fill="#2828a8"/><rect x="183.0" y="344.1" width="0.8" height="7.5" fill="#2828a8"/><rect x="185.0" y="344.1" width="0.8" height="7.5" fill="#2828a8"/><rect x="186.6" y="344.1" width="0.8" height="7.5" fill="#2828a8"/><rect x="190.0" y="344.1" width="1" height="7.5" fill="#2828a8"/><rect x="191.7" y="344.1" width="1.2" height="7.5" fill="#2828a8"/><rect x="193.4" y="344.1" width="1.2" height="7.5" fill="#2828a8"/><rect x="195.3" y="344.1" width="1" height="7.5" fill="#2828a8"/><rect x="198.1" y="344.1" width="0.9" height="7.5" fill="#2828a8"/><rect x="199.7" y="344.1" width="1" height="7.5" fill="#2828a8"/><rect x="201.2" y="344.1" width="1.2" height="7.5" fill="#2828a8"/><rect x="203.0" y="344.1" width="1" height="7.5" fill="#2828a8"/><rect x="204.7" y="344.1" width="1" height="7.5" fill="#2828a8"/><rect x="206.6" y="344.1" width="0.9" height="7.5" fill="#2828a8"/><rect x="212.3" y="344.1" width="0.8" height="7.5" fill="#2828a8"/>
<text x="267.4" y="340.5" font-size="10.6" font-style="italic" text-anchor="start">NUSAP1 <tspan font-style="normal" font-family="DejaVu Sans, sans-serif" font-size="12.2">→</tspan></text>
<line x1="271" y1="348" x2="289.2" y2="348" stroke="#2828a8" stroke-width="1"/><rect x="270.9" y="344.8" width="0.9" height="6.5" fill="#2828a8"/><rect x="274.2" y="344.8" width="0.9" height="6.5" fill="#2828a8"/><rect x="276.6" y="344.8" width="0.9" height="6.5" fill="#2828a8"/><rect x="278.6" y="344.8" width="0.9" height="6.5" fill="#2828a8"/><rect x="280.5" y="344.8" width="1" height="6.5" fill="#2828a8"/><rect x="282.3" y="344.8" width="1" height="6.5" fill="#2828a8"/><rect x="283.9" y="344.8" width="1.2" height="6.5" fill="#2828a8"/><rect x="285.6" y="344.8" width="1.2" height="6.5" fill="#2828a8"/><rect x="287.2" y="344.8" width="1.2" height="6.5" fill="#2828a8"/><rect x="288.6" y="344.8" width="0.8" height="6.5" fill="#2828a8"/>
<text x="213.6" y="392.4" font-size="11.7" text-anchor="middle">chr15:40,800,000 – 42,000,000</text>
<text x="436.8" y="13.4" font-size="19">d</text>
<text x="600.6" y="57.1" font-size="11.5" text-anchor="middle">INO80</text>
<rect x="578.7" y="63.4" width="47.1" height="282.2" fill="#fff" stroke="#333" stroke-width="1"/>
<ellipse cx="601.9" cy="81.5" rx="3.8" ry="3.3" fill="#b8a2a4"/>
<ellipse cx="601.9" cy="112.4" rx="8.6" ry="7.8" fill="#96a5b6"/>
<ellipse cx="601.9" cy="143" rx="2.9" ry="2.7" fill="#ffb7c3"/>
<ellipse cx="601.9" cy="173.5" rx="7.4" ry="6.5" fill="#b9b9b9"/>
<ellipse cx="601.9" cy="205" rx="8.6" ry="7.7" fill="#96a6b8"/>
<ellipse cx="601.9" cy="235" rx="0.6" ry="0.5" fill="#ecdcdc"/>
<ellipse cx="601.9" cy="266" rx="7.8" ry="6.5" fill="#b99b9f"/>
<ellipse cx="601.9" cy="297.3" rx="5.6" ry="4.9" fill="#b7b7b7"/>
<ellipse cx="601.9" cy="327.8" rx="1.1" ry="1" fill="#e59aae"/>
<text x="570.3" y="85.5" font-size="11.7" text-anchor="end">WT+Sham</text>
<text x="568.5" y="114.7" font-size="11.7" text-anchor="end">WT</text>
<text x="570.3" y="150.5" font-size="11.9" text-anchor="end">Six2<tspan font-size="7.8" dy="-3.7">Cre</tspan><tspan dy="3.7">Tet2</tspan><tspan font-size="7.8" dy="-3.7" letter-spacing="0.35">f/f</tspan></text>
<text x="570.8" y="179.6" font-size="11.7" text-anchor="end">WT+Sham</text>
<text x="568.4" y="210.1" font-size="11.7" text-anchor="end">WT</text>
<text x="570.8" y="238.6" font-size="11.9" text-anchor="end">Six2<tspan font-size="7.8" dy="-3.7">Cre</tspan><tspan dy="3.7">Tet2</tspan><tspan font-size="7.8" dy="-3.7" letter-spacing="0.35">f/f</tspan></text>
<text x="570.9" y="270.2" font-size="11.7" text-anchor="end">WT+Sham</text>
<text x="570.9" y="303.2" font-size="11.7" text-anchor="end">WT</text>
<text x="570.9" y="333.2" font-size="11.9" text-anchor="end">Six2<tspan font-size="7.3" dy="-3.7">Cre</tspan><tspan dy="3.7">Tet2</tspan><tspan font-size="7.3" dy="-3.7" letter-spacing="0.35">f/f</tspan></text>
<line x1="471.6" y1="68" x2="471.6" y2="160" stroke="#222" stroke-width="1.1"/>
<line x1="493.3" y1="104.6" x2="493.3" y2="158" stroke="#222" stroke-width="1.1"/>
<line x1="471.8" y1="163.5" x2="471.8" y2="254.7" stroke="#222" stroke-width="1.1"/>
<line x1="492.3" y1="190.7" x2="492.3" y2="244.3" stroke="#222" stroke-width="1.1"/>
<line x1="471.8" y1="264" x2="471.8" y2="355.2" stroke="#222" stroke-width="1.1"/>
<line x1="492.3" y1="281.3" x2="492.3" y2="334.4" stroke="#222" stroke-width="1.1"/>
<text transform="translate(462.3,116.5) rotate(-90)" font-size="11.2" text-anchor="middle">iPT</text>
<text transform="translate(487,134) rotate(-90)" font-size="11.2" text-anchor="middle">UUO</text>
<text transform="translate(465,206.8) rotate(-90)" font-size="11.2" text-anchor="middle">PST</text>
<text transform="translate(487,223.3) rotate(-90)" font-size="11.2" text-anchor="middle">UUO</text>
<text transform="translate(465,304) rotate(-90)" font-size="11.2" text-anchor="middle">PCT</text>
<text transform="translate(487,312.8) rotate(-90)" font-size="11.2" text-anchor="middle">UUO</text>
<text x="630.5" y="138" font-size="11.7">Percent</text>
<text x="630.5" y="151.8" font-size="11.7">Expressed</text>
<circle cx="641.2" cy="198.6" r="0.6" fill="#000"/>
<text x="649.8" y="195.2" font-size="11.8">20</text>
<circle cx="641.2" cy="208" r="1.9" fill="#000"/>
<text x="649.8" y="209" font-size="11.8">25</text>
<circle cx="641.2" cy="216.5" r="3.3" fill="#000"/>
<text x="649.8" y="220" font-size="11.8">30</text>
<circle cx="641.2" cy="226.5" r="4.8" fill="#000"/>
<text x="649.8" y="231" font-size="11.8">35</text>
<circle cx="641.2" cy="239.6" r="6.3" fill="#000"/>
<text x="649.8" y="244.6" font-size="11.8">40</text>
<circle cx="641.2" cy="256.3" r="7.8" fill="#000"/>
<text x="649.8" y="262" font-size="11.8">45</text>
<text x="-0.8" y="430.8" font-size="19">b</text>
<rect x="7.8" y="452.4" width="3.6" height="2.8" fill="#0000ff"/>
<text x="20.6" y="458.7" font-size="11.6">NT</text>
<rect x="67.2" y="452.4" width="3.6" height="2.8" fill="#ff0000"/>
<text x="75.9" y="458.7" font-size="11.6">TET2 KD</text>
<rect x="50.8" y="486.8" width="20.4" height="85" fill="#fff" stroke="#9a9aff" stroke-width="1.1"/>
<rect x="81.7" y="515.7" width="20.4" height="56.1" fill="#fff" stroke="#ff6a6a" stroke-width="1.1"/>
<line x1="57.7" y1="486.6" x2="63.7" y2="486.6" stroke="#0000ff" stroke-width="1"/>
<rect x="59.1" y="484.9" width="3.3" height="3.3" fill="#0000ff"/>
<line x1="89" y1="515.3" x2="94.6" y2="515.3" stroke="#ff0000" stroke-width="1"/>
<rect x="90.2" y="513.6" width="3.3" height="3.3" fill="#ff0000"/>
<line x1="40.2" y1="469.2" x2="40.2" y2="572.4" stroke="#000" stroke-width="1.2"/>
<line x1="35" y1="571.9" x2="113.3" y2="571.9" stroke="#000" stroke-width="1.2"/>
<line x1="35" y1="571.9" x2="40.2" y2="571.9" stroke="#000" stroke-width="1.1"/>
<text x="34.6" y="580.5" font-size="11.9" text-anchor="end">0</text>
<line x1="35" y1="551.5" x2="40.2" y2="551.5" stroke="#000" stroke-width="1.1"/>
<text x="34.6" y="560.1" font-size="11.9" text-anchor="end">5</text>
<line x1="35" y1="531.1" x2="40.2" y2="531.1" stroke="#000" stroke-width="1.1"/>
<text x="34.6" y="539.7" font-size="11.9" text-anchor="end">10</text>
<line x1="35" y1="510.6" x2="40.2" y2="510.6" stroke="#000" stroke-width="1.1"/>
<text x="34.6" y="519.2" font-size="11.9" text-anchor="end">15</text>
<line x1="35" y1="490.2" x2="40.2" y2="490.2" stroke="#000" stroke-width="1.1"/>
<text x="34.6" y="498.8" font-size="11.9" text-anchor="end">20</text>
<line x1="35" y1="469.8" x2="40.2" y2="469.8" stroke="#000" stroke-width="1.1"/>
<text x="34.6" y="478.4" font-size="11.9" text-anchor="end">25</text>
<line x1="76.5" y1="571.9" x2="76.5" y2="576.4" stroke="#000" stroke-width="1.1"/>
<text x="77.5" y="591.3" font-size="11.6" text-anchor="middle">INO80</text>
<text transform="translate(15.3,516.7) rotate(-90)" font-size="11.5" text-anchor="middle">TPM</text>
<defs><pattern id="hb" width="1.6" height="1.6" patternUnits="userSpaceOnUse" patternTransform="rotate(45)"><rect width="1.6" height="1.6" fill="#fff"/><rect width="1.6" height="0.8" fill="#1a1aff"/></pattern><pattern id="hr" width="1.6" height="1.6" patternUnits="userSpaceOnUse" patternTransform="rotate(45)"><rect width="1.6" height="1.6" fill="#fff"/><rect width="1.6" height="0.8" fill="#ff1a1a"/></pattern></defs>
<text x="197" y="431.7" font-size="19">c</text>
<polygon points="220.6,442.4 225.2,442.4 222.9,438.2" fill="#0000ff"/>
<text x="233" y="445.6" font-size="11.6">NT</text>
<polygon points="271.4,441.7 275.0,441.7 273.2,438.5" fill="#ff0000"/>
<text x="280.5" y="445.6" font-size="11.5">TET2 KD</text>
<rect x="272.7" y="500.8" width="18" height="80" fill="url(#hb)" stroke="#222" stroke-width="0.9"/>
<rect x="300.5" y="525.3" width="18" height="55.5" fill="url(#hr)" stroke="#222" stroke-width="0.9"/>
<line x1="281.6" y1="494.4" x2="281.6" y2="505.2" stroke="#222" stroke-width="0.9"/><line x1="276.90000000000003" y1="494.4" x2="286.3" y2="494.4" stroke="#222" stroke-width="0.9"/><line x1="276.90000000000003" y1="505.2" x2="286.3" y2="505.2" stroke="#222" stroke-width="0.9"/>
<line x1="309.5" y1="520.8" x2="309.5" y2="528" stroke="#222" stroke-width="0.9"/><line x1="304.8" y1="520.8" x2="314.2" y2="520.8" stroke="#222" stroke-width="0.9"/><line x1="304.8" y1="528" x2="314.2" y2="528" stroke="#222" stroke-width="0.9"/>
<polygon points="279.1,492.4 284.1,492.4 281.6,487.9" fill="#0000ff"/>
<polygon points="279.1,505.4 284.1,505.4 281.6,500.9" fill="#0000ff"/>
<polygon points="279.1,510.8 284.1,510.8 281.6,506.2" fill="#0000ff"/>
<polygon points="300.5,521.0 304.3,521.0 302.4,517.5" fill="#ff0000"/>
<polygon points="313.8,525.6 317.6,525.6 315.7,522.1" fill="#ff0000"/>
<polygon points="307.6,534.0 311.4,534.0 309.5,530.5" fill="#ff0000"/>
<line x1="263.2" y1="459.6" x2="263.2" y2="581.6" stroke="#000" stroke-width="1.2"/>
<line x1="258.2" y1="581" x2="327.2" y2="581" stroke="#000" stroke-width="1.2"/>
<line x1="258.2" y1="581.0" x2="263.2" y2="581.0" stroke="#000" stroke-width="1.1"/>
<text x="256" y="586.5" font-size="11.6" text-anchor="end">0.0</text>
<line x1="258.2" y1="540.7" x2="263.2" y2="540.7" stroke="#000" stroke-width="1.1"/>
<text x="256" y="546.2" font-size="11.6" text-anchor="end">0.5</text>
<line x1="258.2" y1="500.4" x2="263.2" y2="500.4" stroke="#000" stroke-width="1.1"/>
<text x="256" y="505.9" font-size="11.6" text-anchor="end">1.0</text>
<line x1="258.2" y1="460.1" x2="263.2" y2="460.1" stroke="#000" stroke-width="1.1"/>
<text x="256" y="465.6" font-size="11.6" text-anchor="end">1.5</text>
<line x1="295.1" y1="581" x2="295.1" y2="585.8" stroke="#000" stroke-width="1.1"/>
<text x="296.6" y="600.3" font-size="11.5" text-anchor="middle">INO80</text>
<text transform="translate(227.8,521.2) rotate(-90)" font-size="11.7" text-anchor="middle">Relative transcript level</text>
<text x="278.9" y="467" font-size="10.4">P=0.0206</text>
<line x1="281" y1="474.7" x2="309.5" y2="474.7" stroke="#000" stroke-width="1.2"/>
<defs><pattern id="eb" width="1.4" height="1.4" patternUnits="userSpaceOnUse"><rect width="1.4" height="1.4" fill="#f4f4ff"/><rect width="0.7" height="0.7" fill="#a4a4ff"/><rect x="0.7" y="0.7" width="0.7" height="0.7" fill="#a4a4ff"/></pattern><pattern id="er" width="1.4" height="1.4" patternUnits="userSpaceOnUse"><rect width="1.4" height="1.4" fill="#fff2f2"/><rect width="0.7" height="0.7" fill="#ffa6a6"/><rect x="0.7" y="0.7" width="0.7" height="0.7" fill="#ffa6a6"/></pattern><pattern id="eg" width="1.4" height="1.4" patternUnits="userSpaceOnUse"><rect width="1.4" height="1.4" fill="#f0fcf0"/><rect width="0.7" height="0.7" fill="#98e298"/><rect x="0.7" y="0.7" width="0.7" height="0.7" fill="#98e298"/></pattern><pattern id="ep" width="1.4" height="1.4" patternUnits="userSpaceOnUse"><rect width="1.4" height="1.4" fill="#fcf2fe"/><rect width="0.7" height="0.7" fill="#e4acf2"/><rect x="0.7" y="0.7" width="0.7" height="0.7" fill="#e4acf2"/></pattern></defs>
<text x="385.3" y="430.4" font-size="19">e</text>
<rect x="452.5" y="540.9" width="13.5" height="23.0" fill="url(#eb)" stroke="#333" stroke-width="0.8"/>
<rect x="472.5" y="538.3" width="13.5" height="25.6" fill="url(#er)" stroke="#333" stroke-width="0.8"/>
<rect x="493.2" y="488.4" width="13.5" height="75.5" fill="url(#eg)" stroke="#333" stroke-width="0.8"/>
<rect x="513.8" y="511.3" width="13.5" height="52.6" fill="url(#ep)" stroke="#333" stroke-width="0.8"/>
<line x1="479.3" y1="533.9" x2="479.3" y2="542.7" stroke="#222" stroke-width="0.9"/><line x1="475.7" y1="533.9" x2="482.90000000000003" y2="533.9" stroke="#222" stroke-width="0.9"/><line x1="475.7" y1="542.7" x2="482.90000000000003" y2="542.7" stroke="#222" stroke-width="0.9"/>
<line x1="499.9" y1="480.2" x2="499.9" y2="496.5" stroke="#222" stroke-width="0.9"/><line x1="496.09999999999997" y1="480.2" x2="503.7" y2="480.2" stroke="#222" stroke-width="0.9"/><line x1="496.09999999999997" y1="496.5" x2="503.7" y2="496.5" stroke="#222" stroke-width="0.9"/>
<line x1="520.5" y1="504.1" x2="520.5" y2="518.4" stroke="#222" stroke-width="0.9"/><line x1="516.7" y1="504.1" x2="524.3" y2="504.1" stroke="#222" stroke-width="0.9"/><line x1="516.7" y1="518.4" x2="524.3" y2="518.4" stroke="#222" stroke-width="0.9"/>
<line x1="459.2" y1="539.6" x2="459.2" y2="542" stroke="#222" stroke-width="0.9"/><line x1="456.2" y1="539.6" x2="462.2" y2="539.6" stroke="#222" stroke-width="0.9"/><line x1="456.2" y1="542" x2="462.2" y2="542" stroke="#222" stroke-width="0.9"/>
<rect x="452.8" y="539.8" width="3.1" height="3.1" fill="#0000ff"/>
<rect x="455.4" y="539.1" width="3.1" height="3.1" fill="#0000ff"/>
<rect x="458.1" y="538.1" width="3.1" height="3.1" fill="#0000ff"/>
<rect x="460.6" y="539.2" width="3.1" height="3.1" fill="#0000ff"/>
<rect x="463.2" y="539.5" width="3.1" height="3.1" fill="#0000ff"/>
<rect x="454.4" y="540.7" width="3.1" height="3.1" fill="#0000ff"/>
<rect x="477.8" y="520.1" width="3.1" height="3.1" fill="#ff0000"/>
<rect x="477.8" y="532.8" width="3.1" height="3.1" fill="#ff0000"/>
<rect x="474.9" y="539.4" width="3.1" height="3.1" fill="#ff0000"/>
<rect x="481.1" y="539.0" width="3.1" height="3.1" fill="#ff0000"/>
<rect x="477.8" y="546.6" width="3.1" height="3.1" fill="#ff0000"/>
<rect x="476.4" y="536.0" width="3.1" height="3.1" fill="#ff0000"/>
<rect x="498.3" y="459.4" width="3.1" height="3.1" fill="#00c000"/>
<rect x="498.3" y="469.8" width="3.1" height="3.1" fill="#00c000"/>
<rect x="498.3" y="486.1" width="3.1" height="3.1" fill="#00c000"/>
<rect x="494.8" y="498.8" width="3.1" height="3.1" fill="#00c000"/>
<rect x="501.6" y="500.6" width="3.1" height="3.1" fill="#00c000"/>
<rect x="498.3" y="508.1" width="3.1" height="3.1" fill="#00c000"/>
<rect x="519.0" y="486.1" width="3.1" height="3.1" fill="#aa00dd"/>
<rect x="519.0" y="492.2" width="3.1" height="3.1" fill="#aa00dd"/>
<rect x="519.0" y="508.1" width="3.1" height="3.1" fill="#aa00dd"/>
<rect x="519.0" y="514.7" width="3.1" height="3.1" fill="#aa00dd"/>
<rect x="515.7" y="530.0" width="3.1" height="3.1" fill="#aa00dd"/>
<rect x="522.2" y="527.8" width="3.1" height="3.1" fill="#aa00dd"/>
<line x1="445.8" y1="449" x2="445.8" y2="564.4" stroke="#000" stroke-width="1.2"/>
<line x1="441.2" y1="563.9" x2="534" y2="563.9" stroke="#000" stroke-width="1.2"/>
<line x1="441.2" y1="563.9" x2="445.8" y2="563.9" stroke="#000" stroke-width="1.1"/>
<text x="436.6" y="568.9" font-size="11.4" text-anchor="end">0</text>
<line x1="441.2" y1="541.0" x2="445.8" y2="541.0" stroke="#000" stroke-width="1.1"/>
<text x="436.6" y="546.0" font-size="11.4" text-anchor="end">1</text>
<line x1="441.2" y1="518.1" x2="445.8" y2="518.1" stroke="#000" stroke-width="1.1"/>
<text x="436.6" y="523.1" font-size="11.4" text-anchor="end">2</text>
<line x1="441.2" y1="495.2" x2="445.8" y2="495.2" stroke="#000" stroke-width="1.1"/>
<text x="436.6" y="500.2" font-size="11.4" text-anchor="end">3</text>
<line x1="441.2" y1="472.3" x2="445.8" y2="472.3" stroke="#000" stroke-width="1.1"/>
<text x="436.6" y="477.3" font-size="11.4" text-anchor="end">4</text>
<line x1="441.2" y1="449.4" x2="445.8" y2="449.4" stroke="#000" stroke-width="1.1"/>
<text x="436.6" y="454.4" font-size="11.4" text-anchor="end">5</text>
<line x1="489.6" y1="563.9" x2="489.6" y2="568.4" stroke="#000" stroke-width="1.1"/>
<text x="489.2" y="580.4" font-size="11.4" text-anchor="middle">Ino80</text>
<text transform="translate(407.8,508) rotate(-90)" font-size="11.7" text-anchor="middle">Relative transcript</text>
<text transform="translate(421.8,510) rotate(-90)" font-size="11.7" text-anchor="middle">level</text>
<line x1="458.5" y1="447.4" x2="498.4" y2="447.4" stroke="#000" stroke-width="1.2"/>
<line x1="501.6" y1="447.4" x2="520.8" y2="447.4" stroke="#000" stroke-width="1.2"/>
<text transform="translate(462.4,445.2) rotate(-26)" font-size="10.6">P&lt;0.0001</text>
<text transform="translate(502.6,445.2) rotate(-26)" font-size="10.6">P=0.0306</text>
<rect x="551.3" y="471.2" width="2.9" height="2.9" fill="#0000ff"/>
<text x="565.4" y="471.3" font-size="11.7">Six2<tspan font-size="7.8" dy="-3.7">Cre</tspan><tspan dy="3.7">+Sham</tspan></text>
<rect x="551.3" y="493.4" width="2.9" height="2.9" fill="#ff0000"/>
<text x="565.4" y="497.5" font-size="11.6">Six2<tspan font-size="7.8" dy="-3.7">Cre</tspan><tspan dy="3.7">Tet2</tspan><tspan font-size="7.8" dy="-3.7" letter-spacing="0.35">f/f</tspan><tspan dy="3.7">+Sham</tspan></text>
<rect x="551.3" y="515.8" width="2.9" height="2.9" fill="#00c000"/>
<text x="564.4" y="521.8" font-size="11.6">Six2<tspan font-size="7.8" dy="-3.7">Cre</tspan><tspan dy="3.7">Tet2</tspan><tspan font-size="7.8" dy="-3.7" letter-spacing="0.35">f/f</tspan><tspan dy="3.7"> +UUO</tspan></text>
<rect x="551.3" y="538.3" width="2.9" height="2.9" fill="#aa00dd"/>
<text x="566.9" y="544.9" font-size="11.6">Six2<tspan font-size="7.8" dy="-3.7">Cre</tspan><tspan dy="3.7">Tet2</tspan><tspan font-size="7.8" dy="-3.7" letter-spacing="0.35">f/f</tspan><tspan dy="3.7">+UUO</tspan></text>
<text x="1.6" y="626" font-size="19.3">f</text>
<rect x="19.1" y="633.5" width="2.8" height="2.8" fill="#0000ff"/>
<text x="32.6" y="641.2" font-size="11.7">Six2<tspan font-size="7.8" dy="-3.7">Cre</tspan></text>
<rect x="19.1" y="654.3" width="2.8" height="2.8" fill="#ff0000"/>
<text x="32.6" y="662" font-size="11.7">Six2<tspan font-size="7.8" dy="-3.7">Cre</tspan><tspan dy="3.7">Tet2</tspan><tspan font-size="7.8" dy="-3.7" letter-spacing="0.35">f/f</tspan></text>
<rect x="19.1" y="675.5" width="2.8" height="2.8" fill="#00c000"/>
<text x="31" y="682" font-size="11.7">Six2<tspan font-size="7.8" dy="-3.7">Cre</tspan><tspan dy="3.7">Tet2</tspan><tspan font-size="7.8" dy="-3.7" letter-spacing="0.35">f/f</tspan><tspan dy="3.7">+Adenine</tspan></text>
<rect x="19.1" y="696.3" width="2.8" height="2.8" fill="#aa00dd"/>
<text x="31.5" y="703.2" font-size="11.7">Six2<tspan font-size="7.8" dy="-3.7">Cre</tspan><tspan dy="3.7">Tet2</tspan><tspan font-size="7.8" dy="-3.7" letter-spacing="0.35">f/f</tspan><tspan dy="3.7">+Adenine</tspan></text>
<text x="68.7" y="718.6" font-size="9.1">P = 0.0008</text>
<line x1="74.8" y1="723.8" x2="106.1" y2="723.8" stroke="#000" stroke-width="1"/>
<text x="91.7" y="741.3" font-size="9.1">P = 0.0093</text>
<line x1="105.7" y1="746.6" x2="121.4" y2="746.6" stroke="#000" stroke-width="1"/>
<rect x="69.4" y="830.4" width="10.6" height="20.2" fill="#fff" stroke="#3355ff" stroke-width="0.8"/>
<rect x="85.1" y="828.1" width="10.6" height="22.5" fill="#fff" stroke="#e8604c" stroke-width="0.8"/>
<rect x="100.8" y="794" width="10.6" height="56.6" fill="#fff" stroke="#4c9e6c" stroke-width="0.8"/>
<rect x="116.3" y="821.2" width="10.6" height="29.4" fill="#fff" stroke="#c46cd4" stroke-width="0.8"/>
<line x1="74.8" y1="826.6" x2="74.8" y2="834.2" stroke="#0033ff" stroke-width="0.8"/><line x1="71.8" y1="826.6" x2="77.8" y2="826.6" stroke="#0033ff" stroke-width="0.8"/><line x1="71.8" y1="834.2" x2="77.8" y2="834.2" stroke="#0033ff" stroke-width="0.8"/>
<line x1="90.3" y1="826.2" x2="90.3" y2="830.6" stroke="#ff2200" stroke-width="0.8"/><line x1="87.3" y1="826.2" x2="93.3" y2="826.2" stroke="#ff2200" stroke-width="0.8"/><line x1="87.3" y1="830.6" x2="93.3" y2="830.6" stroke="#ff2200" stroke-width="0.8"/>
<line x1="106.1" y1="785.9" x2="106.1" y2="800.1" stroke="#00b030" stroke-width="0.8"/><line x1="103.1" y1="785.9" x2="109.1" y2="785.9" stroke="#00b030" stroke-width="0.8"/><line x1="103.1" y1="800.1" x2="109.1" y2="800.1" stroke="#00b030" stroke-width="0.8"/>
<line x1="121.6" y1="816" x2="121.6" y2="826.6" stroke="#cc33cc" stroke-width="0.8"/><line x1="118.6" y1="816" x2="124.6" y2="816" stroke="#cc33cc" stroke-width="0.8"/><line x1="118.6" y1="826.6" x2="124.6" y2="826.6" stroke="#cc33cc" stroke-width="0.8"/>
<rect x="73.3" y="822.8" width="2.9" height="2.9" fill="#0033ff"/>
<rect x="70.1" y="826.0" width="2.9" height="2.9" fill="#0033ff"/>
<rect x="76.8" y="826.0" width="2.9" height="2.9" fill="#0033ff"/>
<rect x="73.3" y="831.2" width="2.9" height="2.9" fill="#0033ff"/>
<rect x="73.3" y="835.6" width="2.9" height="2.9" fill="#0033ff"/>
<rect x="88.8" y="823.1" width="2.9" height="2.9" fill="#ff2200"/>
<rect x="85.5" y="826.0" width="2.9" height="2.9" fill="#ff2200"/>
<rect x="92.1" y="826.6" width="2.9" height="2.9" fill="#ff2200"/>
<rect x="86.8" y="828.1" width="2.9" height="2.9" fill="#ff2200"/>
<rect x="88.8" y="831.8" width="2.9" height="2.9" fill="#ff2200"/>
<rect x="104.6" y="756.6" width="2.9" height="2.9" fill="#00b030"/>
<rect x="104.6" y="770.0" width="2.9" height="2.9" fill="#00b030"/>
<rect x="104.6" y="774.6" width="2.9" height="2.9" fill="#00b030"/>
<rect x="107.8" y="790.0" width="2.9" height="2.9" fill="#00b030"/>
<rect x="101.1" y="792.5" width="2.9" height="2.9" fill="#00b030"/>
<rect x="104.6" y="800.1" width="2.9" height="2.9" fill="#00b030"/>
<rect x="104.6" y="804.9" width="2.9" height="2.9" fill="#00b030"/>
<rect x="104.6" y="813.6" width="2.9" height="2.9" fill="#00b030"/>
<rect x="104.6" y="823.1" width="2.9" height="2.9" fill="#00b030"/>
<rect x="120.1" y="804.9" width="2.9" height="2.9" fill="#cc33cc"/>
<rect x="120.1" y="812.0" width="2.9" height="2.9" fill="#cc33cc"/>
<rect x="120.1" y="819.8" width="2.9" height="2.9" fill="#cc33cc"/>
<rect x="120.1" y="827.4" width="2.9" height="2.9" fill="#cc33cc"/>
<rect x="120.1" y="832.8" width="2.9" height="2.9" fill="#cc33cc"/>
<line x1="64.9" y1="751" x2="64.9" y2="851" stroke="#000" stroke-width="1.2"/>
<line x1="60.1" y1="850.5" x2="132" y2="850.5" stroke="#000" stroke-width="1.2"/>
<line x1="60.1" y1="850.5" x2="64.9" y2="850.5" stroke="#000" stroke-width="1.1"/>
<text x="60.3" y="856.4" font-size="11.6" text-anchor="end">0</text>
<line x1="60.1" y1="830.7" x2="64.9" y2="830.7" stroke="#000" stroke-width="1.1"/>
<text x="60.3" y="836.6" font-size="11.6" text-anchor="end">1</text>
<line x1="60.1" y1="810.9" x2="64.9" y2="810.9" stroke="#000" stroke-width="1.1"/>
<text x="60.3" y="816.8" font-size="11.6" text-anchor="end">2</text>
<line x1="60.1" y1="791.0" x2="64.9" y2="791.0" stroke="#000" stroke-width="1.1"/>
<text x="60.3" y="796.9" font-size="11.6" text-anchor="end">3</text>
<line x1="60.1" y1="771.2" x2="64.9" y2="771.2" stroke="#000" stroke-width="1.1"/>
<text x="60.3" y="777.1" font-size="11.6" text-anchor="end">4</text>
<line x1="60.1" y1="751.4" x2="64.9" y2="751.4" stroke="#000" stroke-width="1.1"/>
<text x="60.3" y="757.3" font-size="11.6" text-anchor="end">5</text>
<line x1="97.8" y1="850.5" x2="97.8" y2="855" stroke="#000" stroke-width="1.1"/>
<text x="100.4" y="866.4" font-size="11.2" text-anchor="middle">Ino80</text>
<text transform="translate(33.2,799.7) rotate(-90)" font-size="11.7" text-anchor="middle">Relative transcript</text>
<text transform="translate(45.6,800.2) rotate(-90)" font-size="11.7" text-anchor="middle">level</text>
<text x="196.9" y="625.8" font-size="19.3">g</text>
<rect x="221.6" y="690.1" width="3.4" height="3.4" fill="#000"/>
<text x="233.6" y="696.8" font-size="11.6">NT</text>
<polygon points="272.1,689.8 275.9,689.8 274.0,693.4" fill="#ff1493"/>
<text x="284" y="696.8" font-size="11.5">INO80 KD</text>
<text x="278.7" y="714" font-size="10.1">P&lt;0.0001</text>
<line x1="284" y1="716.9" x2="311.5" y2="716.9" stroke="#000" stroke-width="1.2"/>
<rect x="276.2" y="737" width="17.3" height="110" fill="#fff" stroke="#444" stroke-width="0.9"/>
<rect x="303" y="823.9" width="17" height="23.2" fill="#fff" stroke="#555" stroke-width="0.9"/>
<line x1="284.6" y1="734.7" x2="284.6" y2="739" stroke="#000" stroke-width="0.8"/><line x1="281.5" y1="734.7" x2="287.70000000000005" y2="734.7" stroke="#000" stroke-width="0.8"/><line x1="281.5" y1="739" x2="287.70000000000005" y2="739" stroke="#000" stroke-width="0.8"/>
<rect x="282.8" y="730.9" width="3.5" height="3.5" fill="#000"/>
<rect x="278.6" y="739.0" width="3.5" height="3.5" fill="#000"/>
<rect x="286.9" y="735.1" width="3.5" height="3.5" fill="#000"/>
<line x1="303.8" y1="823.4" x2="319.5" y2="823.4" stroke="#ff1493" stroke-width="0.9"/>
<polygon points="302.7,822.4 306.1,822.4 304.4,825.4" fill="#ff1493"/>
<polygon points="309.6,821.1 313.0,821.1 311.3,824.1" fill="#ff1493"/>
<polygon points="316.7,822.0 320.1,822.0 318.4,825.0" fill="#ff1493"/>
<line x1="266.9" y1="713.8" x2="266.9" y2="847.6" stroke="#000" stroke-width="1.2"/>
<line x1="261.5" y1="847" x2="328.5" y2="847" stroke="#000" stroke-width="1.2"/>
<line x1="261.5" y1="847.0" x2="266.9" y2="847.0" stroke="#000" stroke-width="1.1"/>
<text x="258" y="853.4" font-size="11.6" text-anchor="end">0.0</text>
<line x1="261.5" y1="802.8" x2="266.9" y2="802.8" stroke="#000" stroke-width="1.1"/>
<text x="258" y="810.0" font-size="11.6" text-anchor="end">0.4</text>
<line x1="261.5" y1="758.5" x2="266.9" y2="758.5" stroke="#000" stroke-width="1.1"/>
<text x="258" y="766.6" font-size="11.6" text-anchor="end">0.8</text>
<line x1="261.5" y1="714.2" x2="266.9" y2="714.2" stroke="#000" stroke-width="1.1"/>
<text x="258" y="723.2" font-size="11.6" text-anchor="end">1.2</text>
<line x1="297.6" y1="847" x2="297.6" y2="852.4" stroke="#000" stroke-width="1.1"/>
<text x="297.2" y="865.3" font-size="11.3" text-anchor="middle">INO8</text>
<text transform="translate(231,791.8) rotate(-90)" font-size="11.8" text-anchor="middle">Relative transcript level</text>
<defs><filter id="blur" x="-5%" y="-5%" width="110%" height="110%"><feGaussianBlur stdDeviation="0.55"/></filter></defs>
<text x="384.4" y="623" font-size="19">h</text>
<text x="535.8" y="622.4" font-size="11.5" text-anchor="middle">Doxorubicin</text>
<line x1="410.8" y1="632.8" x2="675.5" y2="632.8" stroke="#3a3a3a" stroke-width="1.6"/>
<clipPath id="c1"><rect x="409.1" y="638.3" width="131.8" height="109.2"/></clipPath>
<rect x="409.1" y="638.3" width="131.8" height="109.2" fill="#000"/>
<g clip-path="url(#c1)"><g filter="url(#blur)">
<ellipse cx="416.3" cy="639.3" rx="24.0" ry="11.0" fill="#0000ff" transform="rotate(-15 416.3 639.3)"/>
<ellipse cx="431.8" cy="665.3" rx="27.0" ry="13.6" fill="#0000ff" transform="rotate(-33 431.8 665.3)"/>
<circle cx="430.7" cy="669.5" r="1.0" fill="#000070" opacity="0.3"/><circle cx="443.6" cy="660.9" r="0.8" fill="#000070" opacity="0.3"/><circle cx="443.4" cy="660.3" r="0.5" fill="#000070" opacity="0.3"/><circle cx="428.5" cy="668.5" r="0.6" fill="#000070" opacity="0.3"/><circle cx="421.0" cy="676.5" r="0.6" fill="#000070" opacity="0.3"/><circle cx="437.5" cy="669.5" r="1.3" fill="#000070" opacity="0.3"/><circle cx="421.7" cy="668.9" r="1.3" fill="#000070" opacity="0.3"/><circle cx="446.9" cy="658.1" r="0.7" fill="#000070" opacity="0.3"/><circle cx="436.4" cy="665.0" r="0.7" fill="#000070" opacity="0.3"/><circle cx="432.7" cy="660.8" r="1.0" fill="#000070" opacity="0.3"/><circle cx="423.5" cy="665.9" r="0.9" fill="#000070" opacity="0.3"/><circle cx="435.8" cy="663.7" r="0.7" fill="#000070" opacity="0.3"/><circle cx="424.7" cy="663.9" r="0.8" fill="#000070" opacity="0.3"/><circle cx="421.1" cy="668.7" r="0.7" fill="#000070" opacity="0.3"/><circle cx="431.7" cy="657.2" r="0.7" fill="#000070" opacity="0.3"/><circle cx="420.1" cy="669.5" r="1.2" fill="#000070" opacity="0.3"/>
<ellipse cx="458.6" cy="661.8" rx="8.0" ry="8.6" fill="#000070" transform="rotate(20 458.6 661.8)"/>
<ellipse cx="461.1" cy="658.8" rx="3.0" ry="2.2" fill="#0000c0"/>
<ellipse cx="483.7" cy="691.8" rx="30.5" ry="14.2" fill="#0000ff" transform="rotate(-14 483.7 691.8)"/>
<circle cx="482.2" cy="687.7" r="1.1" fill="#000070" opacity="0.4"/><circle cx="504.0" cy="685.1" r="1.2" fill="#000070" opacity="0.4"/><circle cx="502.9" cy="689.5" r="1.3" fill="#000070" opacity="0.4"/><circle cx="482.6" cy="686.0" r="0.6" fill="#000070" opacity="0.4"/><circle cx="485.7" cy="693.5" r="0.9" fill="#000070" opacity="0.4"/><circle cx="491.1" cy="690.8" r="0.7" fill="#000070" opacity="0.4"/><circle cx="492.2" cy="700.0" r="1.1" fill="#000070" opacity="0.4"/><circle cx="501.5" cy="695.9" r="0.6" fill="#000070" opacity="0.4"/><circle cx="488.2" cy="689.6" r="0.5" fill="#000070" opacity="0.4"/><circle cx="496.6" cy="686.7" r="0.7" fill="#000070" opacity="0.4"/><circle cx="506.2" cy="686.5" r="0.7" fill="#000070" opacity="0.4"/><circle cx="502.9" cy="686.6" r="1.0" fill="#000070" opacity="0.4"/><circle cx="498.8" cy="698.3" r="1.1" fill="#000070" opacity="0.4"/><circle cx="506.0" cy="685.6" r="0.7" fill="#000070" opacity="0.4"/><circle cx="489.5" cy="694.6" r="0.6" fill="#000070" opacity="0.4"/><circle cx="500.7" cy="691.0" r="1.0" fill="#000070" opacity="0.4"/><circle cx="505.0" cy="688.0" r="0.8" fill="#000070" opacity="0.4"/><circle cx="489.7" cy="699.7" r="0.9" fill="#000070" opacity="0.4"/><circle cx="490.0" cy="697.6" r="1.1" fill="#000070" opacity="0.4"/><circle cx="507.2" cy="690.6" r="0.5" fill="#000070" opacity="0.4"/><circle cx="490.6" cy="682.5" r="0.5" fill="#000070" opacity="0.4"/><circle cx="493.5" cy="685.0" r="1.0" fill="#000070" opacity="0.4"/><circle cx="495.9" cy="690.2" r="0.6" fill="#000070" opacity="0.4"/><circle cx="498.7" cy="688.2" r="1.1" fill="#000070" opacity="0.4"/><circle cx="504.8" cy="683.8" r="0.8" fill="#000070" opacity="0.4"/><circle cx="487.4" cy="697.7" r="1.1" fill="#000070" opacity="0.4"/>
<ellipse cx="523.5" cy="706.8" rx="30.0" ry="17.0" fill="#0000ff" transform="rotate(-38 523.5 706.8)"/>
<circle cx="521.5" cy="696.1" r="0.9" fill="#000070" opacity="0.35"/><circle cx="523.7" cy="707.0" r="1.0" fill="#000070" opacity="0.35"/><circle cx="510.9" cy="718.9" r="0.8" fill="#000070" opacity="0.35"/><circle cx="521.1" cy="701.4" r="1.1" fill="#000070" opacity="0.35"/><circle cx="517.9" cy="702.2" r="0.9" fill="#000070" opacity="0.35"/><circle cx="517.9" cy="705.6" r="0.9" fill="#000070" opacity="0.35"/><circle cx="523.1" cy="700.3" r="1.1" fill="#000070" opacity="0.35"/><circle cx="512.0" cy="703.9" r="0.8" fill="#000070" opacity="0.35"/><circle cx="538.9" cy="701.7" r="1.1" fill="#000070" opacity="0.35"/><circle cx="519.6" cy="711.3" r="0.7" fill="#000070" opacity="0.35"/><circle cx="515.1" cy="707.7" r="1.3" fill="#000070" opacity="0.35"/><circle cx="515.8" cy="709.5" r="1.0" fill="#000070" opacity="0.35"/><circle cx="518.7" cy="721.0" r="1.2" fill="#000070" opacity="0.35"/><circle cx="510.2" cy="716.2" r="1.1" fill="#000070" opacity="0.35"/><circle cx="522.7" cy="694.4" r="0.5" fill="#000070" opacity="0.35"/><circle cx="519.6" cy="718.2" r="0.7" fill="#000070" opacity="0.35"/><circle cx="518.4" cy="708.6" r="1.2" fill="#000070" opacity="0.35"/><circle cx="517.8" cy="710.5" r="1.0" fill="#000070" opacity="0.35"/><circle cx="523.6" cy="712.5" r="0.9" fill="#000070" opacity="0.35"/><circle cx="530.7" cy="706.1" r="1.2" fill="#000070" opacity="0.35"/>
<ellipse cx="480.6" cy="712.9" rx="4.6" ry="3.1" fill="#0000ff" transform="rotate(-10 480.6 712.9)"/>
<ellipse cx="407.9" cy="707.4" rx="3.5" ry="8.0" fill="#0000ff"/>
<ellipse cx="494.9" cy="685.3" rx="2.2" ry="1.8" fill="#0000b0" opacity="0.8"/>
<ellipse cx="501.1" cy="689.4" rx="1.8" ry="1.4" fill="#0000b0" opacity="0.8"/>
<ellipse cx="472.5" cy="695.5" rx="1.6" ry="1.3" fill="#0000b0" opacity="0.8"/>
<ellipse cx="524.6" cy="700.6" rx="2.4" ry="1.9" fill="#0000b0" opacity="0.8"/>
<ellipse cx="506.2" cy="716.0" rx="1.8" ry="1.4" fill="#0000b0" opacity="0.8"/>
<ellipse cx="429.5" cy="664.9" rx="1.5" ry="1.2" fill="#0000b0" opacity="0.8"/>
<ellipse cx="420.3" cy="675.1" rx="1.3" ry="1.0" fill="#0000b0" opacity="0.8"/>
<ellipse cx="437.7" cy="656.7" rx="1.2" ry="1.0" fill="#0000b0" opacity="0.8"/>
<ellipse cx="490.8" cy="699.6" rx="1.5" ry="1.2" fill="#0000b0" opacity="0.8"/>
<ellipse cx="529.7" cy="711.9" rx="1.6" ry="1.3" fill="#0000b0" opacity="0.8"/>
</g>
<line x1="489.8" y1="654.6" x2="475.5" y2="658.5" stroke="#fff" stroke-width="1.25"/><polygon points="468.4,660.4 474.7,655.3 476.4,661.7" fill="#fff"/>
<line x1="511.3" y1="702.7" x2="497.0" y2="706.5" stroke="#fff" stroke-width="1.25"/><polygon points="489.8,708.4 496.1,703.3 497.8,709.7" fill="#fff"/>

<text x="516.4" y="655.6" font-size="11.7" fill="#fff">NT</text>
</g>
<clipPath id="c2"><rect x="545.9" y="638.5" width="132.1" height="108.6"/></clipPath>
<rect x="545.9" y="638.5" width="132.1" height="108.6" fill="#000"/>
<g clip-path="url(#c2)"><g filter="url(#blur)">
<ellipse cx="578.1" cy="664.5" rx="12.4" ry="9.4" fill="#0000ff" transform="rotate(-10 578.1 664.5)"/>
<ellipse cx="618.3" cy="662.8" rx="10.4" ry="13.2" fill="#0000d8" transform="rotate(20 618.3 662.8)"/>
<circle cx="615.9" cy="670.8" r="0.8" fill="#000070" opacity="0.55"/><circle cx="614.9" cy="655.9" r="0.6" fill="#000070" opacity="0.55"/><circle cx="625.6" cy="666.4" r="0.7" fill="#000070" opacity="0.55"/><circle cx="615.3" cy="673.6" r="0.9" fill="#000070" opacity="0.55"/><circle cx="623.5" cy="657.7" r="1.0" fill="#000070" opacity="0.55"/><circle cx="619.7" cy="671.1" r="1.2" fill="#000070" opacity="0.55"/><circle cx="611.7" cy="659.0" r="1.0" fill="#000070" opacity="0.55"/><circle cx="623.6" cy="668.9" r="1.0" fill="#000070" opacity="0.55"/><circle cx="617.2" cy="664.4" r="1.2" fill="#000070" opacity="0.55"/><circle cx="610.8" cy="661.8" r="1.2" fill="#000070" opacity="0.55"/><circle cx="620.1" cy="652.3" r="0.8" fill="#000070" opacity="0.55"/><circle cx="622.5" cy="656.8" r="1.2" fill="#000070" opacity="0.55"/><circle cx="621.0" cy="661.3" r="0.6" fill="#000070" opacity="0.55"/><circle cx="616.3" cy="673.6" r="0.8" fill="#000070" opacity="0.55"/><circle cx="616.6" cy="657.6" r="0.9" fill="#000070" opacity="0.55"/><circle cx="613.1" cy="665.6" r="1.0" fill="#000070" opacity="0.55"/><circle cx="613.3" cy="655.3" r="1.0" fill="#000070" opacity="0.55"/><circle cx="626.8" cy="661.2" r="1.3" fill="#000070" opacity="0.55"/><circle cx="618.1" cy="658.5" r="1.2" fill="#000070" opacity="0.55"/><circle cx="626.8" cy="663.4" r="1.0" fill="#000070" opacity="0.55"/><circle cx="619.2" cy="657.8" r="1.2" fill="#000070" opacity="0.55"/><circle cx="615.2" cy="658.9" r="0.6" fill="#000070" opacity="0.55"/>
<ellipse cx="637.3" cy="638.9" rx="9.0" ry="3.4" fill="#0000ff"/>
<ellipse cx="546.7" cy="657.6" rx="2.6" ry="3.0" fill="#0000c0"/>
<ellipse cx="565.0" cy="695.2" rx="20.5" ry="8.4" fill="#0000e8" transform="rotate(-5 565.0 695.2)"/>
<circle cx="565.6" cy="697.5" r="0.8" fill="#000070" opacity="0.55"/><circle cx="567.6" cy="696.5" r="0.8" fill="#000070" opacity="0.55"/><circle cx="578.2" cy="690.9" r="1.1" fill="#000070" opacity="0.55"/><circle cx="567.6" cy="700.2" r="0.7" fill="#000070" opacity="0.55"/><circle cx="567.8" cy="697.0" r="0.7" fill="#000070" opacity="0.55"/><circle cx="578.9" cy="691.1" r="1.1" fill="#000070" opacity="0.55"/><circle cx="567.1" cy="692.1" r="0.7" fill="#000070" opacity="0.55"/><circle cx="554.2" cy="691.8" r="1.2" fill="#000070" opacity="0.55"/><circle cx="568.6" cy="693.5" r="1.0" fill="#000070" opacity="0.55"/><circle cx="558.7" cy="691.3" r="0.6" fill="#000070" opacity="0.55"/><circle cx="559.9" cy="696.0" r="1.2" fill="#000070" opacity="0.55"/><circle cx="573.1" cy="690.5" r="0.7" fill="#000070" opacity="0.55"/><circle cx="575.7" cy="691.4" r="1.2" fill="#000070" opacity="0.55"/><circle cx="571.7" cy="690.5" r="0.8" fill="#000070" opacity="0.55"/><circle cx="555.4" cy="693.3" r="0.6" fill="#000070" opacity="0.55"/><circle cx="560.2" cy="701.7" r="0.5" fill="#000070" opacity="0.55"/><circle cx="578.3" cy="695.7" r="0.7" fill="#000070" opacity="0.55"/><circle cx="553.2" cy="695.2" r="0.8" fill="#000070" opacity="0.55"/><circle cx="572.6" cy="694.5" r="0.8" fill="#000070" opacity="0.55"/><circle cx="569.5" cy="700.3" r="0.7" fill="#000070" opacity="0.55"/><circle cx="556.1" cy="700.9" r="0.8" fill="#000070" opacity="0.55"/><circle cx="549.3" cy="694.1" r="0.6" fill="#000070" opacity="0.55"/><circle cx="572.8" cy="695.8" r="1.1" fill="#000070" opacity="0.55"/><circle cx="558.4" cy="693.5" r="0.8" fill="#000070" opacity="0.55"/>
<ellipse cx="630.6" cy="692.1" rx="16.0" ry="8.8" fill="#0000ff" transform="rotate(3 630.6 692.1)"/>
<ellipse cx="581.3" cy="714.7" rx="16.2" ry="7.6" fill="#0000ff" transform="rotate(-24 581.3 714.7)"/>
<ellipse cx="623.6" cy="739.1" rx="28.5" ry="10.8" fill="#0000ff" transform="rotate(-12 623.6 739.1)"/>
<ellipse cx="545.1" cy="738.0" rx="4.5" ry="8.0" fill="#0000ff"/>
<ellipse cx="678.6" cy="665.0" rx="3.0" ry="5.6" fill="#0000ff"/>
<ellipse cx="597.1" cy="698.2" rx="2.5" ry="2.5" fill="#0000ff"/>
<ellipse cx="591.8" cy="701.2" rx="1.3" ry="1.3" fill="#0000ff"/>
<ellipse cx="599.5" cy="690.4" rx="1.5" ry="1.5" fill="#0000ff"/>
<ellipse cx="666.3" cy="692.9" rx="1.9" ry="1.9" fill="#0000ff"/>
<ellipse cx="563.3" cy="673.4" rx="1.0" ry="1.0" fill="#0000ff"/>
<ellipse cx="559.7" cy="660.7" rx="1.3" ry="1.3" fill="#0000ff"/>
<ellipse cx="588.7" cy="702.0" rx="0.9" ry="0.9" fill="#0000ff"/>
<ellipse cx="609.8" cy="704.1" rx="0.8" ry="0.8" fill="#0000ff"/>
<ellipse cx="561.1" cy="693.5" rx="2.0" ry="1.6" fill="#000090" opacity="0.8"/>
<ellipse cx="569.6" cy="696.7" rx="1.6" ry="1.3" fill="#000090" opacity="0.8"/>
<ellipse cx="554.8" cy="697.8" rx="1.5" ry="1.2" fill="#000090" opacity="0.8"/>
<ellipse cx="616.2" cy="659.7" rx="2.2" ry="1.8" fill="#000090" opacity="0.8"/>
<ellipse cx="621.5" cy="667.1" rx="2.0" ry="1.6" fill="#000090" opacity="0.8"/>
<ellipse cx="614.1" cy="670.3" rx="1.6" ry="1.3" fill="#000090" opacity="0.8"/>
<ellipse cx="577.0" cy="713.6" rx="1.2" ry="1.0" fill="#000090" opacity="0.8"/>
<ellipse cx="582.3" cy="648.0" rx="1.5" ry="1.2" fill="#000090" opacity="0.8"/>
<ellipse cx="585.5" cy="651.2" rx="1.0" ry="0.8" fill="#000090" opacity="0.8"/>
</g>
<line x1="599.2" y1="662.2" x2="595.5" y2="660.1" stroke="#fff" stroke-width="1.25"/><polygon points="589.1,656.5 597.2,657.2 593.9,663.0" fill="#fff"/>
<line x1="546.3" y1="668.1" x2="554.0" y2="670.3" stroke="#fff" stroke-width="1.25"/><polygon points="561.1,672.4 553.1,673.5 554.9,667.2" fill="#fff"/>
<line x1="611.9" y1="714.3" x2="604.8" y2="709.0" stroke="#fff" stroke-width="1.25"/><polygon points="598.8,704.5 606.7,706.3 602.8,711.6" fill="#fff"/>
<line x1="678.6" y1="706.2" x2="672.5" y2="701.7" stroke="#fff" stroke-width="1.25"/><polygon points="666.6,697.3 674.5,699.1 670.6,704.4" fill="#fff"/>

<text x="609.6" y="653" font-size="11.7" fill="#fff">INO80 KD</text>
</g>
<clipPath id="c3"><rect x="410.1" y="751.1" width="130.8" height="107.4"/></clipPath>
<rect x="410.1" y="751.1" width="130.8" height="107.4" fill="#000"/>
<g clip-path="url(#c3)"><g filter="url(#blur)">
<ellipse cx="469.4" cy="765.0" rx="14.0" ry="15.6" fill="#0000ff" transform="rotate(-10 469.4 765.0)"/>
<ellipse cx="425.4" cy="783.2" rx="13.0" ry="17.0" fill="#0000ff" transform="rotate(-28 425.4 783.2)"/>
<ellipse cx="419.7" cy="823.7" rx="14.0" ry="16.6" fill="#0000ff" transform="rotate(12 419.7 823.7)"/>
<ellipse cx="473.5" cy="834.9" rx="19.4" ry="13.4" fill="#0000ff" transform="rotate(-32 473.5 834.9)"/>
<ellipse cx="506.6" cy="830.8" rx="12.6" ry="20.4" fill="#0000ff" transform="rotate(28 506.6 830.8)"/>
<ellipse cx="535.8" cy="839.0" rx="15.0" ry="20.5" fill="#0000ff" transform="rotate(-24 535.8 839.0)"/>
<ellipse cx="409.5" cy="760.3" rx="1.8" ry="5.0" fill="#0000ff"/>
<ellipse cx="463.9" cy="819.6" rx="3.4" ry="3.1" fill="#0000ff"/>
<ellipse cx="481.6" cy="810.4" rx="2.2" ry="2.0" fill="#0000ff"/>
<ellipse cx="511.3" cy="784.4" rx="2.7" ry="2.4" fill="#0000ff"/>
<ellipse cx="516.8" cy="771.1" rx="1.6" ry="1.4" fill="#0000ff"/>
<ellipse cx="458.5" cy="803.8" rx="1.4" ry="1.3" fill="#0000ff"/>
<ellipse cx="463.9" cy="802.8" rx="1.4" ry="1.3" fill="#0000ff"/>
<ellipse cx="501.5" cy="809.8" rx="1.4" ry="1.3" fill="#0000ff"/>
<ellipse cx="472.4" cy="795.0" rx="2.2" ry="2.0" fill="#0000b0"/>
<ellipse cx="466.3" cy="766.4" rx="2.0" ry="1.4" fill="#0000a8" opacity="0.85"/>
<ellipse cx="458.1" cy="759.3" rx="1.5" ry="1.0" fill="#0000a8" opacity="0.85"/>
<ellipse cx="424.4" cy="784.8" rx="1.6" ry="1.1" fill="#0000a8" opacity="0.85"/>
<ellipse cx="417.3" cy="826.7" rx="1.8" ry="1.3" fill="#0000a8" opacity="0.85"/>
<ellipse cx="477.5" cy="841.0" rx="1.6" ry="1.1" fill="#0000a8" opacity="0.85"/>
<ellipse cx="503.1" cy="828.8" rx="1.6" ry="1.1" fill="#0000a8" opacity="0.85"/>
<ellipse cx="538.9" cy="832.8" rx="1.6" ry="1.1" fill="#0000a8" opacity="0.85"/>
<ellipse cx="427.5" cy="773.6" rx="1.2" ry="0.8" fill="#0000a8" opacity="0.85"/>
</g>
<line x1="454.0" y1="781.8" x2="459.0" y2="789.0" stroke="#fff" stroke-width="1.25"/><polygon points="463.2,795.0 456.3,790.8 461.7,787.1" fill="#fff"/>
<line x1="492.5" y1="775.2" x2="497.4" y2="782.4" stroke="#fff" stroke-width="1.25"/><polygon points="501.7,788.5 494.7,784.3 500.2,780.5" fill="#fff"/>
<line x1="533.7" y1="791.0" x2="526.7" y2="782.9" stroke="#fff" stroke-width="1.25"/><polygon points="521.9,777.3 529.2,780.7 524.2,785.0" fill="#fff"/>
<line x1="528.6" y1="810.8" x2="517.6" y2="810.8" stroke="#fff" stroke-width="1.25"/><polygon points="510.2,810.8 517.6,807.5 517.6,814.1" fill="#fff"/>
<line x1="484.7" y1="836.9" x2="484.7" y2="827.6" stroke="#fff" stroke-width="1.25"/><polygon points="484.7,820.2 488.0,827.6 481.4,827.6" fill="#fff"/>

<text x="475.6" y="763.8" font-size="11.7" fill="#fff">TET2 KD</text>
</g>
<clipPath id="c4"><rect x="545.9" y="751.4" width="132.1" height="108.5"/></clipPath>
<rect x="545.9" y="751.4" width="132.1" height="108.5" fill="#000"/>
<g clip-path="url(#c4)"><g filter="url(#blur)">
<ellipse cx="550.1" cy="768.8" rx="13.0" ry="12.6" fill="#0000ff"/>
<ellipse cx="580.2" cy="770.9" rx="10.2" ry="14.6" fill="#0000ff" transform="rotate(-8 580.2 770.9)"/>
<ellipse cx="556.9" cy="803.3" rx="12.6" ry="18.0" fill="#0000ff" transform="rotate(22 556.9 803.3)"/>
<ellipse cx="598.8" cy="805.4" rx="12.4" ry="8.6" fill="#0000ff" transform="rotate(5 598.8 805.4)"/>
<ellipse cx="582.3" cy="821.3" rx="9.0" ry="7.0" fill="#0000ff"/>
<ellipse cx="589.7" cy="828.7" rx="9.5" ry="7.5" fill="#0000ff"/>
<ellipse cx="578.1" cy="828.7" rx="6.0" ry="5.0" fill="#0000ff"/>
<ellipse cx="585.5" cy="834.0" rx="7.0" ry="5.0" fill="#0000ff"/>
<ellipse cx="594.0" cy="835.0" rx="6.0" ry="5.0" fill="#0000ff"/>
<ellipse cx="573.8" cy="818.1" rx="4.0" ry="3.5" fill="#0000ff"/>
<ellipse cx="611.9" cy="829.7" rx="9.6" ry="14.8" fill="#0000ff" transform="rotate(-15 611.9 829.7)"/>
<ellipse cx="560.1" cy="850.9" rx="17.5" ry="12.8" fill="#0000ff" transform="rotate(-36 560.1 850.9)"/>
<ellipse cx="591.8" cy="853.4" rx="9.6" ry="13.8" fill="#0000ff" transform="rotate(10 591.8 853.4)"/>
<ellipse cx="661.1" cy="774.3" rx="16.4" ry="8.4" fill="#0000ff" transform="rotate(-26 661.1 774.3)"/>
<ellipse cx="672.9" cy="795.2" rx="11.0" ry="11.8" fill="#0000ff"/>
<ellipse cx="667.0" cy="825.9" rx="17.0" ry="12.4" fill="#0000d4" transform="rotate(30 667.0 825.9)"/>
<circle cx="671.0" cy="836.6" r="1.1" fill="#000050" opacity="0.55"/><circle cx="663.0" cy="832.2" r="0.9" fill="#000050" opacity="0.55"/><circle cx="664.4" cy="815.6" r="0.6" fill="#000050" opacity="0.55"/><circle cx="677.4" cy="833.9" r="0.8" fill="#000050" opacity="0.55"/><circle cx="667.3" cy="825.5" r="0.9" fill="#000050" opacity="0.55"/><circle cx="668.4" cy="821.0" r="1.3" fill="#000050" opacity="0.55"/><circle cx="669.3" cy="826.0" r="0.5" fill="#000050" opacity="0.55"/><circle cx="656.6" cy="816.9" r="0.8" fill="#000050" opacity="0.55"/><circle cx="665.3" cy="832.7" r="0.5" fill="#000050" opacity="0.55"/><circle cx="665.0" cy="832.7" r="0.9" fill="#000050" opacity="0.55"/><circle cx="665.1" cy="830.6" r="0.7" fill="#000050" opacity="0.55"/><circle cx="659.8" cy="823.4" r="0.5" fill="#000050" opacity="0.55"/><circle cx="675.2" cy="822.9" r="1.0" fill="#000050" opacity="0.55"/><circle cx="667.0" cy="837.1" r="1.2" fill="#000050" opacity="0.55"/><circle cx="670.1" cy="832.6" r="1.1" fill="#000050" opacity="0.55"/><circle cx="669.0" cy="815.7" r="0.8" fill="#000050" opacity="0.55"/><circle cx="675.7" cy="822.2" r="0.7" fill="#000050" opacity="0.55"/><circle cx="659.6" cy="815.6" r="1.2" fill="#000050" opacity="0.55"/><circle cx="657.5" cy="820.1" r="0.5" fill="#000050" opacity="0.55"/><circle cx="662.8" cy="834.3" r="0.8" fill="#000050" opacity="0.55"/><circle cx="667.8" cy="834.4" r="1.1" fill="#000050" opacity="0.55"/><circle cx="666.4" cy="818.9" r="0.9" fill="#000050" opacity="0.55"/><circle cx="656.2" cy="819.1" r="0.9" fill="#000050" opacity="0.55"/><circle cx="657.8" cy="825.9" r="0.5" fill="#000050" opacity="0.55"/><circle cx="675.9" cy="833.8" r="1.3" fill="#000050" opacity="0.55"/><circle cx="662.3" cy="819.0" r="0.6" fill="#000050" opacity="0.55"/><circle cx="654.7" cy="818.6" r="1.1" fill="#000050" opacity="0.55"/><circle cx="656.9" cy="817.3" r="0.7" fill="#000050" opacity="0.55"/><circle cx="655.3" cy="818.1" r="1.0" fill="#000050" opacity="0.55"/><circle cx="660.0" cy="823.5" r="0.9" fill="#000050" opacity="0.55"/><circle cx="668.0" cy="826.3" r="1.1" fill="#000050" opacity="0.55"/><circle cx="676.5" cy="821.1" r="1.1" fill="#000050" opacity="0.55"/><circle cx="673.8" cy="821.7" r="0.9" fill="#000050" opacity="0.55"/><circle cx="663.8" cy="825.4" r="1.2" fill="#000050" opacity="0.55"/><circle cx="662.9" cy="821.3" r="0.9" fill="#000050" opacity="0.55"/><circle cx="659.2" cy="822.1" r="0.8" fill="#000050" opacity="0.55"/><circle cx="658.4" cy="818.6" r="1.0" fill="#000050" opacity="0.55"/><circle cx="664.7" cy="825.1" r="0.7" fill="#000050" opacity="0.55"/><circle cx="667.6" cy="834.6" r="1.2" fill="#000050" opacity="0.55"/><circle cx="674.8" cy="820.1" r="1.2" fill="#000050" opacity="0.55"/><circle cx="661.8" cy="834.1" r="1.0" fill="#000050" opacity="0.55"/><circle cx="668.0" cy="827.3" r="0.5" fill="#000050" opacity="0.55"/><circle cx="669.8" cy="821.5" r="0.6" fill="#000050" opacity="0.55"/><circle cx="664.0" cy="819.1" r="0.6" fill="#000050" opacity="0.55"/><circle cx="668.6" cy="834.3" r="0.6" fill="#000050" opacity="0.55"/><circle cx="661.1" cy="832.7" r="0.9" fill="#000050" opacity="0.55"/><circle cx="660.0" cy="829.4" r="0.5" fill="#000050" opacity="0.55"/><circle cx="658.6" cy="826.2" r="0.7" fill="#000050" opacity="0.55"/><circle cx="673.0" cy="836.7" r="0.9" fill="#000050" opacity="0.55"/><circle cx="665.5" cy="834.2" r="1.2" fill="#000050" opacity="0.55"/><circle cx="668.6" cy="827.0" r="0.6" fill="#000050" opacity="0.55"/><circle cx="668.1" cy="821.8" r="1.1" fill="#000050" opacity="0.55"/><circle cx="666.5" cy="817.5" r="0.7" fill="#000050" opacity="0.55"/><circle cx="678.7" cy="831.0" r="0.9" fill="#000050" opacity="0.55"/><circle cx="664.5" cy="834.1" r="0.8" fill="#000050" opacity="0.55"/><circle cx="662.1" cy="819.9" r="1.0" fill="#000050" opacity="0.55"/><circle cx="672.3" cy="831.4" r="1.3" fill="#000050" opacity="0.55"/><circle cx="674.0" cy="825.2" r="1.2" fill="#000050" opacity="0.55"/><circle cx="657.7" cy="831.5" r="1.1" fill="#000050" opacity="0.55"/><circle cx="660.2" cy="825.1" r="0.5" fill="#000050" opacity="0.55"/>
<ellipse cx="647.9" cy="856.8" rx="26.5" ry="9.6" fill="#0000d4" transform="rotate(-3 647.9 856.8)"/>
<circle cx="668.9" cy="853.6" r="0.5" fill="#000050" opacity="0.55"/><circle cx="665.8" cy="859.7" r="1.1" fill="#000050" opacity="0.55"/><circle cx="641.7" cy="853.2" r="1.0" fill="#000050" opacity="0.55"/><circle cx="634.3" cy="853.7" r="0.6" fill="#000050" opacity="0.55"/><circle cx="635.3" cy="859.6" r="1.1" fill="#000050" opacity="0.55"/><circle cx="669.8" cy="855.4" r="0.9" fill="#000050" opacity="0.55"/><circle cx="637.0" cy="858.8" r="0.5" fill="#000050" opacity="0.55"/><circle cx="663.1" cy="857.0" r="0.8" fill="#000050" opacity="0.55"/><circle cx="632.7" cy="862.9" r="0.9" fill="#000050" opacity="0.55"/><circle cx="637.7" cy="855.9" r="0.5" fill="#000050" opacity="0.55"/><circle cx="644.3" cy="859.7" r="0.9" fill="#000050" opacity="0.55"/><circle cx="666.4" cy="855.8" r="0.6" fill="#000050" opacity="0.55"/><circle cx="663.4" cy="851.5" r="1.1" fill="#000050" opacity="0.55"/><circle cx="664.1" cy="852.0" r="1.1" fill="#000050" opacity="0.55"/><circle cx="634.7" cy="863.9" r="1.3" fill="#000050" opacity="0.55"/><circle cx="658.6" cy="862.3" r="1.1" fill="#000050" opacity="0.55"/><circle cx="632.1" cy="859.1" r="0.9" fill="#000050" opacity="0.55"/><circle cx="662.0" cy="853.5" r="1.2" fill="#000050" opacity="0.55"/><circle cx="635.4" cy="863.6" r="1.2" fill="#000050" opacity="0.55"/><circle cx="631.6" cy="859.2" r="1.2" fill="#000050" opacity="0.55"/><circle cx="645.1" cy="851.3" r="0.7" fill="#000050" opacity="0.55"/><circle cx="639.7" cy="863.3" r="0.6" fill="#000050" opacity="0.55"/><circle cx="657.6" cy="854.0" r="1.2" fill="#000050" opacity="0.55"/><circle cx="640.3" cy="864.7" r="1.1" fill="#000050" opacity="0.55"/><circle cx="631.7" cy="857.5" r="1.0" fill="#000050" opacity="0.55"/><circle cx="637.1" cy="855.0" r="0.7" fill="#000050" opacity="0.55"/><circle cx="626.2" cy="857.4" r="1.0" fill="#000050" opacity="0.55"/><circle cx="666.2" cy="859.2" r="1.1" fill="#000050" opacity="0.55"/><circle cx="656.1" cy="854.4" r="1.1" fill="#000050" opacity="0.55"/><circle cx="665.0" cy="858.3" r="0.7" fill="#000050" opacity="0.55"/><circle cx="651.4" cy="864.2" r="0.6" fill="#000050" opacity="0.55"/><circle cx="627.3" cy="856.8" r="0.7" fill="#000050" opacity="0.55"/><circle cx="653.5" cy="864.0" r="0.8" fill="#000050" opacity="0.55"/><circle cx="647.0" cy="855.4" r="0.8" fill="#000050" opacity="0.55"/><circle cx="656.9" cy="862.3" r="0.6" fill="#000050" opacity="0.55"/><circle cx="651.3" cy="856.3" r="1.1" fill="#000050" opacity="0.55"/><circle cx="659.2" cy="856.8" r="1.2" fill="#000050" opacity="0.55"/><circle cx="653.4" cy="859.5" r="1.1" fill="#000050" opacity="0.55"/><circle cx="644.5" cy="858.1" r="1.3" fill="#000050" opacity="0.55"/><circle cx="650.5" cy="858.0" r="0.8" fill="#000050" opacity="0.55"/><circle cx="633.2" cy="852.9" r="0.6" fill="#000050" opacity="0.55"/><circle cx="645.9" cy="858.1" r="0.9" fill="#000050" opacity="0.55"/><circle cx="649.5" cy="849.7" r="1.2" fill="#000050" opacity="0.55"/><circle cx="648.3" cy="849.2" r="1.1" fill="#000050" opacity="0.55"/><circle cx="637.4" cy="858.0" r="1.0" fill="#000050" opacity="0.55"/><circle cx="645.1" cy="859.4" r="0.9" fill="#000050" opacity="0.55"/><circle cx="653.5" cy="854.5" r="1.0" fill="#000050" opacity="0.55"/><circle cx="635.5" cy="861.1" r="0.6" fill="#000050" opacity="0.55"/><circle cx="659.0" cy="855.2" r="1.0" fill="#000050" opacity="0.55"/><circle cx="645.3" cy="857.5" r="0.9" fill="#000050" opacity="0.55"/><circle cx="651.4" cy="858.1" r="0.5" fill="#000050" opacity="0.55"/><circle cx="651.7" cy="858.8" r="1.0" fill="#000050" opacity="0.55"/><circle cx="625.6" cy="857.6" r="1.2" fill="#000050" opacity="0.55"/><circle cx="658.8" cy="856.1" r="0.9" fill="#000050" opacity="0.55"/><circle cx="648.2" cy="863.1" r="1.0" fill="#000050" opacity="0.55"/><circle cx="653.5" cy="850.0" r="0.7" fill="#000050" opacity="0.55"/><circle cx="633.6" cy="860.3" r="0.5" fill="#000050" opacity="0.55"/><circle cx="662.0" cy="857.2" r="0.6" fill="#000050" opacity="0.55"/><circle cx="645.9" cy="853.0" r="0.6" fill="#000050" opacity="0.55"/><circle cx="652.6" cy="860.1" r="0.7" fill="#000050" opacity="0.55"/>
<ellipse cx="633.1" cy="790.1" rx="2.3" ry="2.1" fill="#0000ff"/>
<ellipse cx="651.7" cy="791.2" rx="2.1" ry="1.9" fill="#0000ff"/>
<ellipse cx="643.7" cy="798.0" rx="2.5" ry="2.2" fill="#0000ff"/>
<ellipse cx="628.9" cy="805.0" rx="2.1" ry="1.9" fill="#0000ff"/>
<ellipse cx="569.6" cy="806.4" rx="3.8" ry="3.4" fill="#0000ff"/>
<ellipse cx="578.7" cy="808.6" rx="2.5" ry="2.2" fill="#0000ff"/>
<ellipse cx="590.1" cy="796.5" rx="2.1" ry="1.9" fill="#0000ff"/>
<ellipse cx="578.1" cy="843.5" rx="3.2" ry="2.9" fill="#0000ff"/>
<ellipse cx="563.3" cy="829.7" rx="2.4" ry="2.2" fill="#0000ff"/>
<ellipse cx="567.5" cy="832.3" rx="1.6" ry="1.4" fill="#0000ff"/>
<ellipse cx="662.8" cy="821.3" rx="2.0" ry="1.4" fill="#000080" opacity="0.85"/>
<ellipse cx="671.2" cy="829.7" rx="2.0" ry="1.4" fill="#000080" opacity="0.85"/>
<ellipse cx="658.5" cy="831.8" rx="1.6" ry="1.1" fill="#000080" opacity="0.85"/>
<ellipse cx="639.5" cy="855.1" rx="2.0" ry="1.4" fill="#000080" opacity="0.85"/>
<ellipse cx="654.3" cy="858.3" rx="2.0" ry="1.4" fill="#000080" opacity="0.85"/>
<ellipse cx="667.0" cy="855.1" rx="1.6" ry="1.1" fill="#000080" opacity="0.85"/>
<ellipse cx="631.0" cy="858.3" rx="1.6" ry="1.1" fill="#000080" opacity="0.85"/>
<ellipse cx="675.5" cy="823.4" rx="1.4" ry="1.0" fill="#000080" opacity="0.85"/>
</g>
<line x1="554.4" y1="782.1" x2="566.9" y2="782.1" stroke="#fff" stroke-width="1.25"/><polygon points="574.3,782.1 566.9,785.4 566.9,778.8" fill="#fff"/>
<line x1="599.7" y1="777.9" x2="597.3" y2="786.6" stroke="#fff" stroke-width="1.25"/><polygon points="595.4,793.7 594.2,785.7 600.5,787.4" fill="#fff"/>
<line x1="585.5" y1="787.4" x2="583.2" y2="796.1" stroke="#fff" stroke-width="1.25"/><polygon points="581.3,803.3 580.0,795.3 586.3,797.0" fill="#fff"/>
<line x1="622.5" y1="770.0" x2="627.7" y2="777.2" stroke="#fff" stroke-width="1.25"/><polygon points="632.1,783.2 625.0,779.1 630.4,775.2" fill="#fff"/>
<line x1="634.2" y1="829.7" x2="634.2" y2="820.2" stroke="#fff" stroke-width="1.25"/><polygon points="634.2,812.8 637.5,820.2 630.9,820.2" fill="#fff"/>
<line x1="647.3" y1="823.4" x2="647.3" y2="814.3" stroke="#fff" stroke-width="1.25"/><polygon points="647.3,806.9 650.6,814.3 644.0,814.3" fill="#fff"/>
<line x1="657.9" y1="816.0" x2="657.9" y2="806.4" stroke="#fff" stroke-width="1.25"/><polygon points="657.9,799.0 661.2,806.4 654.6,806.4" fill="#fff"/>
<line x1="599.7" y1="846.7" x2="591.5" y2="840.8" stroke="#fff" stroke-width="1.25"/><polygon points="585.5,836.5 593.4,838.1 589.6,843.5" fill="#fff"/>
<rect x="627.3" y="845.6" width="40.8" height="2.8" fill="#fff"/>
<text x="550.2" y="764.6" font-size="11.7" fill="#fff">TET2/INO80 DKD</text>
</g>
</svg>
</body></html>
